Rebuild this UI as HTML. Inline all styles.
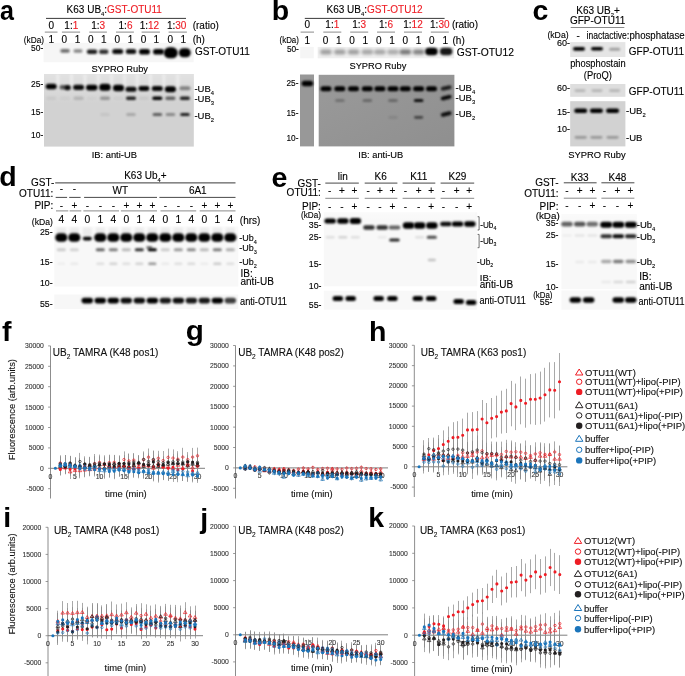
<!DOCTYPE html>
<html><head><meta charset="utf-8"><style>
html,body{margin:0;padding:0;background:#fff;}
svg{display:block;font-family:"Liberation Sans",sans-serif;will-change:transform;filter:blur(0.35px);}
</style></head><body>
<svg width="685" height="676" viewBox="0 0 685 676">
<defs>
<circle id="oc" cx="0" cy="0" r="1.20"/>
<path id="tr" d="M0,-1.77L1.78,1.18H-1.78Z"/>
<linearGradient id="bgrad" x1="0" y1="0" x2="1" y2="1"><stop offset="0" stop-color="#9a9a9a"/><stop offset="1" stop-color="#8f8f8f"/></linearGradient>
<linearGradient id="topfade" x1="0" y1="0" x2="0" y2="1"><stop offset="0" stop-color="#fff" stop-opacity="0.35"/><stop offset="1" stop-color="#fff" stop-opacity="0"/></linearGradient>
<filter id="b1" x="-50%" y="-100%" width="200%" height="300%"><feGaussianBlur stdDeviation="0.9"/></filter>
<filter id="b2" x="-50%" y="-100%" width="200%" height="300%"><feGaussianBlur stdDeviation="1.5"/></filter>
</defs>
<rect width="685" height="676" fill="#fff"/>
<text x="66.6" y="13.1" font-size="10" text-anchor="start" fill="#000" stroke="#000" stroke-width="0.12" >K63 UB<tspan font-size="5.8" baseline-shift="-2.5">4</tspan>:<tspan fill="#ee1c24" stroke="#ee1c24">GST-OTU11</tspan></text>
<line x1="46.0" y1="18.4" x2="186.0" y2="18.4" stroke="#222" stroke-width="0.9"/>
<text x="51.4" y="29.0" font-size="10" text-anchor="middle" fill="#000" stroke="#000" stroke-width="0.12" >0</text>
<text x="71.3" y="29.0" font-size="10" text-anchor="middle" fill="#000" stroke="#000" stroke-width="0.12" >1:<tspan fill="#ee1c24" stroke="#ee1c24">1</tspan></text>
<text x="98.2" y="29.0" font-size="10" text-anchor="middle" fill="#000" stroke="#000" stroke-width="0.12" >1:<tspan fill="#ee1c24" stroke="#ee1c24">3</tspan></text>
<text x="125.5" y="29.0" font-size="10" text-anchor="middle" fill="#000" stroke="#000" stroke-width="0.12" >1:<tspan fill="#ee1c24" stroke="#ee1c24">6</tspan></text>
<text x="149.4" y="29.0" font-size="10" text-anchor="middle" fill="#000" stroke="#000" stroke-width="0.12" >1:<tspan fill="#ee1c24" stroke="#ee1c24">12</tspan></text>
<text x="176.7" y="29.0" font-size="10" text-anchor="middle" fill="#000" stroke="#000" stroke-width="0.12" >1:<tspan fill="#ee1c24" stroke="#ee1c24">30</tspan></text>
<text x="192.7" y="29.0" font-size="10" text-anchor="start" fill="#000" stroke="#000" stroke-width="0.12" >(ratio)</text>
<line x1="44.8" y1="32.1" x2="57.5" y2="32.1" stroke="#8a8a8a" stroke-width="1.0"/>
<line x1="61.9" y1="32.1" x2="80.1" y2="32.1" stroke="#8a8a8a" stroke-width="1.0"/>
<line x1="89.3" y1="32.1" x2="106.9" y2="32.1" stroke="#8a8a8a" stroke-width="1.0"/>
<line x1="116.0" y1="32.1" x2="133.9" y2="32.1" stroke="#8a8a8a" stroke-width="1.0"/>
<line x1="141.6" y1="32.1" x2="159.9" y2="32.1" stroke="#8a8a8a" stroke-width="1.0"/>
<line x1="168.6" y1="32.1" x2="186.9" y2="32.1" stroke="#8a8a8a" stroke-width="1.0"/>
<text x="51.2" y="42.6" font-size="10" text-anchor="middle" fill="#000" stroke="#000" stroke-width="0.12" >1</text>
<text x="64.3" y="42.6" font-size="10" text-anchor="middle" fill="#000" stroke="#000" stroke-width="0.12" >0</text>
<text x="77.5" y="42.6" font-size="10" text-anchor="middle" fill="#000" stroke="#000" stroke-width="0.12" >1</text>
<text x="90.7" y="42.6" font-size="10" text-anchor="middle" fill="#000" stroke="#000" stroke-width="0.12" >0</text>
<text x="103.8" y="42.6" font-size="10" text-anchor="middle" fill="#000" stroke="#000" stroke-width="0.12" >1</text>
<text x="117.3" y="42.6" font-size="10" text-anchor="middle" fill="#000" stroke="#000" stroke-width="0.12" >0</text>
<text x="130.5" y="42.6" font-size="10" text-anchor="middle" fill="#000" stroke="#000" stroke-width="0.12" >1</text>
<text x="143.6" y="42.6" font-size="10" text-anchor="middle" fill="#000" stroke="#000" stroke-width="0.12" >0</text>
<text x="156.4" y="42.6" font-size="10" text-anchor="middle" fill="#000" stroke="#000" stroke-width="0.12" >1</text>
<text x="170.2" y="42.6" font-size="10" text-anchor="middle" fill="#000" stroke="#000" stroke-width="0.12" >0</text>
<text x="183.4" y="42.6" font-size="10" text-anchor="middle" fill="#000" stroke="#000" stroke-width="0.12" >1</text>
<text x="192.7" y="42.6" font-size="10" text-anchor="start" fill="#000" stroke="#000" stroke-width="0.12" >(h)</text>
<text x="44.0" y="43.3" font-size="8.5" text-anchor="end" fill="#000" stroke="#000" stroke-width="0.12"  textLength="20.2" lengthAdjust="spacingAndGlyphs">(kDa)</text>
<rect x="43.6" y="42.9" width="150.0" height="19.3" fill="#f6f6f6"/>
<rect x="60.3" y="49.1" width="9.5" height="3.6" rx="1.8" fill="#000" opacity="0.55" filter="url(#b1)"/>
<rect x="73.5" y="49.3" width="9.0" height="3.4" rx="1.7" fill="#000" opacity="0.45" filter="url(#b1)"/>
<rect x="86.8" y="49.5" width="10.5" height="4.6" rx="2.3" fill="#000" opacity="0.88" filter="url(#b1)"/>
<rect x="99.0" y="49.6" width="9.5" height="4.4" rx="2.2" fill="#000" opacity="0.80" filter="url(#b1)"/>
<rect x="112.2" y="49.1" width="11.0" height="5.0" rx="2.5" fill="#000" opacity="0.95" filter="url(#b1)"/>
<rect x="125.8" y="49.1" width="10.5" height="5.0" rx="2.5" fill="#000" opacity="0.93" filter="url(#b1)"/>
<rect x="139.0" y="48.9" width="11.0" height="5.6" rx="2.8" fill="#000" opacity="1.00" filter="url(#b1)"/>
<rect x="153.0" y="48.9" width="11.0" height="5.6" rx="2.8" fill="#000" opacity="1.00" filter="url(#b1)"/>
<rect x="163.8" y="47.3" width="14.0" height="11.0" rx="5.5" fill="#000" opacity="1.00" filter="url(#b1)"/>
<rect x="178.8" y="48.3" width="12.0" height="9.0" rx="4.5" fill="#000" opacity="1.00" filter="url(#b1)"/>
<text x="43.4" y="50.8" font-size="8.5" text-anchor="end" fill="#000" stroke="#000" stroke-width="0.12" >50-</text>
<text x="195.0" y="55.3" font-size="10" text-anchor="start" fill="#000" stroke="#000" stroke-width="0.12" >GST-OTU11</text>
<text x="119.7" y="72.2" font-size="9.25" text-anchor="middle" fill="#000" stroke="#000" stroke-width="0.12" >SYPRO Ruby</text>
<rect x="44.0" y="74.0" width="149.8" height="72.6" fill="#d2d2d2"/>
<rect x="44" y="74" width="149.8" height="30" fill="url(#topfade)"/>
<rect x="56.0" y="74.5" width="3.6" height="14" fill="#fff" opacity="0.35" filter="url(#b1)"/>
<rect x="69.7" y="74.5" width="3.6" height="14" fill="#fff" opacity="0.35" filter="url(#b1)"/>
<rect x="83.2" y="74.5" width="3.6" height="14" fill="#fff" opacity="0.35" filter="url(#b1)"/>
<rect x="96.5" y="74.5" width="3.6" height="14" fill="#fff" opacity="0.35" filter="url(#b1)"/>
<rect x="109.8" y="74.5" width="3.6" height="14" fill="#fff" opacity="0.35" filter="url(#b1)"/>
<rect x="122.8" y="74.5" width="3.6" height="14" fill="#fff" opacity="0.35" filter="url(#b1)"/>
<rect x="135.5" y="74.5" width="3.6" height="14" fill="#fff" opacity="0.35" filter="url(#b1)"/>
<rect x="148.7" y="74.5" width="3.6" height="14" fill="#fff" opacity="0.35" filter="url(#b1)"/>
<rect x="162.0" y="74.5" width="3.6" height="14" fill="#fff" opacity="0.35" filter="url(#b1)"/>
<rect x="175.9" y="74.5" width="3.6" height="14" fill="#fff" opacity="0.35" filter="url(#b1)"/>
<rect x="45.7" y="83.8" width="11.0" height="5.5" rx="2.8" fill="#000" opacity="1.00" filter="url(#b1)"/>
<rect x="59.5" y="85.0" width="6.5" height="4.6" rx="2.3" fill="#000" opacity="0.60" filter="url(#b1)"/>
<rect x="64.3" y="85.0" width="6.5" height="5.2" rx="2.6" fill="#000" opacity="0.95" filter="url(#b1)"/>
<rect x="73.1" y="84.7" width="11.0" height="5.2" rx="2.6" fill="#000" opacity="0.95" filter="url(#b1)"/>
<rect x="86.0" y="84.8" width="11.5" height="5.6" rx="2.8" fill="#000" opacity="1.00" filter="url(#b1)"/>
<rect x="99.2" y="83.7" width="11.5" height="7.0" rx="3.5" fill="#000" opacity="1.00" filter="url(#b1)"/>
<rect x="113.0" y="84.7" width="11.0" height="6.6" rx="3.3" fill="#000" opacity="1.00" filter="url(#b1)"/>
<rect x="125.5" y="86.7" width="11.0" height="5.0" rx="2.5" fill="#000" opacity="0.95" filter="url(#b1)"/>
<rect x="138.4" y="86.1" width="11.0" height="4.8" rx="2.4" fill="#000" opacity="0.98" filter="url(#b1)"/>
<rect x="151.8" y="86.0" width="11.0" height="5.0" rx="2.5" fill="#000" opacity="0.97" filter="url(#b1)"/>
<rect x="164.9" y="86.2" width="11.0" height="6.0" rx="3.0" fill="#000" opacity="1.00" filter="url(#b1)"/>
<rect x="179.4" y="86.2" width="11.0" height="4.0" rx="2.0" fill="#000" opacity="0.40" filter="url(#b1)"/>
<rect x="46.2" y="96.6" width="10.0" height="3.4" rx="1.7" fill="#000" opacity="0.05" filter="url(#b1)"/>
<rect x="60.0" y="96.6" width="10.0" height="3.4" rx="1.7" fill="#000" opacity="0.03" filter="url(#b1)"/>
<rect x="73.6" y="96.6" width="10.0" height="3.4" rx="1.7" fill="#000" opacity="0.15" filter="url(#b1)"/>
<rect x="86.8" y="96.6" width="10.0" height="3.4" rx="1.7" fill="#000" opacity="0.02" filter="url(#b1)"/>
<rect x="100.0" y="96.6" width="10.0" height="3.4" rx="1.7" fill="#000" opacity="0.30" filter="url(#b1)"/>
<rect x="113.5" y="96.6" width="10.0" height="3.4" rx="1.7" fill="#000" opacity="0.03" filter="url(#b1)"/>
<rect x="126.0" y="96.6" width="10.0" height="3.4" rx="1.7" fill="#000" opacity="0.85" filter="url(#b1)"/>
<rect x="138.9" y="96.6" width="10.0" height="3.4" rx="1.7" fill="#000" opacity="0.05" filter="url(#b1)"/>
<rect x="152.3" y="96.6" width="10.0" height="3.4" rx="1.7" fill="#000" opacity="1.00" filter="url(#b1)"/>
<rect x="165.4" y="96.6" width="10.0" height="3.4" rx="1.7" fill="#000" opacity="0.55" filter="url(#b1)"/>
<rect x="179.9" y="96.6" width="10.0" height="3.4" rx="1.7" fill="#000" opacity="0.85" filter="url(#b1)"/>
<rect x="100.2" y="113.0" width="9.5" height="3.0" rx="1.5" fill="#000" opacity="0.06" filter="url(#b1)"/>
<rect x="126.2" y="113.0" width="9.5" height="3.0" rx="1.5" fill="#000" opacity="0.20" filter="url(#b1)"/>
<rect x="152.6" y="113.0" width="9.5" height="3.0" rx="1.5" fill="#000" opacity="0.55" filter="url(#b1)"/>
<rect x="165.7" y="113.0" width="9.5" height="3.0" rx="1.5" fill="#000" opacity="0.35" filter="url(#b1)"/>
<rect x="180.2" y="113.0" width="9.5" height="3.0" rx="1.5" fill="#000" opacity="0.85" filter="url(#b1)"/>
<text x="43.4" y="87.0" font-size="8.5" text-anchor="end" fill="#000" stroke="#000" stroke-width="0.12" >25-</text>
<text x="43.4" y="115.0" font-size="8.5" text-anchor="end" fill="#000" stroke="#000" stroke-width="0.12" >15-</text>
<text x="43.4" y="137.6" font-size="8.5" text-anchor="end" fill="#000" stroke="#000" stroke-width="0.12" >10-</text>
<text x="194.4" y="91.6" font-size="9.5" text-anchor="start" fill="#000" stroke="#000" stroke-width="0.12" >-UB<tspan font-size="5.8" baseline-shift="-2.5">4</tspan></text>
<text x="194.4" y="102.3" font-size="9.5" text-anchor="start" fill="#000" stroke="#000" stroke-width="0.12" >-UB<tspan font-size="5.8" baseline-shift="-2.5">3</tspan></text>
<text x="194.4" y="119.2" font-size="9.5" text-anchor="start" fill="#000" stroke="#000" stroke-width="0.12" >-UB<tspan font-size="5.8" baseline-shift="-2.5">2</tspan></text>
<text x="114.3" y="157.5" font-size="9.35" text-anchor="middle" fill="#000" stroke="#000" stroke-width="0.12" >IB: anti-UB</text>
<text x="326.5" y="13.1" font-size="10" text-anchor="start" fill="#000" stroke="#000" stroke-width="0.12" >K63 UB<tspan font-size="5.8" baseline-shift="-2.5">4</tspan>:<tspan fill="#ee1c24" stroke="#ee1c24">GST-OTU12</tspan></text>
<line x1="304.8" y1="18.4" x2="444.6" y2="18.4" stroke="#222" stroke-width="0.9"/>
<text x="307.3" y="28.2" font-size="10" text-anchor="middle" fill="#000" stroke="#000" stroke-width="0.12" >0</text>
<text x="332.3" y="28.2" font-size="10" text-anchor="middle" fill="#000" stroke="#000" stroke-width="0.12" >1:<tspan fill="#ee1c24" stroke="#ee1c24">1</tspan></text>
<text x="359.2" y="28.2" font-size="10" text-anchor="middle" fill="#000" stroke="#000" stroke-width="0.12" >1:<tspan fill="#ee1c24" stroke="#ee1c24">3</tspan></text>
<text x="386.0" y="28.2" font-size="10" text-anchor="middle" fill="#000" stroke="#000" stroke-width="0.12" >1:<tspan fill="#ee1c24" stroke="#ee1c24">6</tspan></text>
<text x="413.0" y="28.2" font-size="10" text-anchor="middle" fill="#000" stroke="#000" stroke-width="0.12" >1:<tspan fill="#ee1c24" stroke="#ee1c24">12</tspan></text>
<text x="439.8" y="28.2" font-size="10" text-anchor="middle" fill="#000" stroke="#000" stroke-width="0.12" >1:<tspan fill="#ee1c24" stroke="#ee1c24">30</tspan></text>
<text x="451.9" y="28.2" font-size="10" text-anchor="start" fill="#000" stroke="#000" stroke-width="0.12" >(ratio)</text>
<line x1="300.6" y1="32.1" x2="314.0" y2="32.1" stroke="#8a8a8a" stroke-width="1.0"/>
<line x1="323.3" y1="32.1" x2="341.3" y2="32.1" stroke="#8a8a8a" stroke-width="1.0"/>
<line x1="350.2" y1="32.1" x2="368.2" y2="32.1" stroke="#8a8a8a" stroke-width="1.0"/>
<line x1="377.0" y1="32.1" x2="395.0" y2="32.1" stroke="#8a8a8a" stroke-width="1.0"/>
<line x1="404.0" y1="32.1" x2="422.0" y2="32.1" stroke="#8a8a8a" stroke-width="1.0"/>
<line x1="430.8" y1="32.1" x2="448.8" y2="32.1" stroke="#8a8a8a" stroke-width="1.0"/>
<text x="307.2" y="43.8" font-size="10" text-anchor="middle" fill="#000" stroke="#000" stroke-width="0.12" >1</text>
<text x="325.6" y="43.8" font-size="10" text-anchor="middle" fill="#000" stroke="#000" stroke-width="0.12" >0</text>
<text x="338.8" y="43.8" font-size="10" text-anchor="middle" fill="#000" stroke="#000" stroke-width="0.12" >1</text>
<text x="352.1" y="43.8" font-size="10" text-anchor="middle" fill="#000" stroke="#000" stroke-width="0.12" >0</text>
<text x="365.4" y="43.8" font-size="10" text-anchor="middle" fill="#000" stroke="#000" stroke-width="0.12" >1</text>
<text x="378.7" y="43.8" font-size="10" text-anchor="middle" fill="#000" stroke="#000" stroke-width="0.12" >0</text>
<text x="392.0" y="43.8" font-size="10" text-anchor="middle" fill="#000" stroke="#000" stroke-width="0.12" >1</text>
<text x="405.3" y="43.8" font-size="10" text-anchor="middle" fill="#000" stroke="#000" stroke-width="0.12" >0</text>
<text x="418.6" y="43.8" font-size="10" text-anchor="middle" fill="#000" stroke="#000" stroke-width="0.12" >1</text>
<text x="431.9" y="43.8" font-size="10" text-anchor="middle" fill="#000" stroke="#000" stroke-width="0.12" >0</text>
<text x="445.2" y="43.8" font-size="10" text-anchor="middle" fill="#000" stroke="#000" stroke-width="0.12" >1</text>
<text x="452.5" y="43.5" font-size="10" text-anchor="start" fill="#000" stroke="#000" stroke-width="0.12" >(h)</text>
<text x="298.9" y="43.0" font-size="8.3" text-anchor="end" fill="#000" stroke="#000" stroke-width="0.12"  textLength="19.3" lengthAdjust="spacingAndGlyphs">(kDa)</text>
<rect x="300.2" y="46.9" width="13.6" height="11.4" fill="#f5f5f5"/>
<rect x="317.7" y="46.9" width="136.5" height="11.4" fill="#efefef"/>
<rect x="320.2" y="49.5" width="11.5" height="5.0" rx="2.5" fill="#000" opacity="0.33" filter="url(#b2)"/>
<rect x="334.1" y="49.5" width="11.5" height="5.0" rx="2.5" fill="#000" opacity="0.33" filter="url(#b2)"/>
<rect x="347.8" y="49.5" width="11.5" height="5.0" rx="2.5" fill="#000" opacity="0.33" filter="url(#b2)"/>
<rect x="361.6" y="49.5" width="11.5" height="5.0" rx="2.5" fill="#000" opacity="0.30" filter="url(#b2)"/>
<rect x="374.1" y="49.5" width="11.5" height="5.0" rx="2.5" fill="#000" opacity="0.30" filter="url(#b2)"/>
<rect x="387.2" y="49.5" width="11.5" height="5.0" rx="2.5" fill="#000" opacity="0.28" filter="url(#b2)"/>
<rect x="399.6" y="49.5" width="11.5" height="5.0" rx="2.5" fill="#000" opacity="0.50" filter="url(#b2)"/>
<rect x="412.9" y="49.5" width="11.5" height="5.0" rx="2.5" fill="#000" opacity="0.45" filter="url(#b2)"/>
<rect x="425.2" y="47.8" width="12.5" height="7.5" rx="3.8" fill="#000" opacity="1.00" filter="url(#b1)"/>
<rect x="439.9" y="47.8" width="12.5" height="7.5" rx="3.8" fill="#000" opacity="0.90" filter="url(#b1)"/>
<text x="298.9" y="51.7" font-size="8.3" text-anchor="end" fill="#000" stroke="#000" stroke-width="0.12" >50-</text>
<text x="456.7" y="55.5" font-size="10.3" text-anchor="start" fill="#000" stroke="#000" stroke-width="0.12" >GST-OTU12</text>
<text x="377.9" y="68.9" font-size="9.3" text-anchor="middle" fill="#000" stroke="#000" stroke-width="0.12" >SYPRO Ruby</text>
<rect x="300.0" y="74.5" width="14.0" height="71.9" fill="#989898"/>
<rect x="318.7" y="74.8" width="135.7" height="71.6" fill="url(#bgrad)"/>
<rect x="301.6" y="80.7" width="11.5" height="5.6" rx="2.8" fill="#000" opacity="1.00" filter="url(#b1)"/>
<rect x="320.5" y="86.3" width="11.0" height="5.0" rx="2.5" fill="#000" opacity="1.00" filter="url(#b1)"/>
<rect x="334.3" y="86.3" width="11.0" height="5.0" rx="2.5" fill="#000" opacity="1.00" filter="url(#b1)"/>
<rect x="348.0" y="86.3" width="11.0" height="5.0" rx="2.5" fill="#000" opacity="1.00" filter="url(#b1)"/>
<rect x="361.8" y="86.3" width="11.0" height="5.0" rx="2.5" fill="#000" opacity="1.00" filter="url(#b1)"/>
<rect x="374.4" y="86.3" width="11.0" height="5.0" rx="2.5" fill="#000" opacity="1.00" filter="url(#b1)"/>
<rect x="387.5" y="86.3" width="11.0" height="5.0" rx="2.5" fill="#000" opacity="1.00" filter="url(#b1)"/>
<rect x="399.8" y="86.3" width="11.0" height="5.0" rx="2.5" fill="#000" opacity="1.00" filter="url(#b1)"/>
<rect x="413.1" y="86.3" width="11.0" height="5.0" rx="2.5" fill="#000" opacity="1.00" filter="url(#b1)"/>
<rect x="426.0" y="86.3" width="11.0" height="5.0" rx="2.5" fill="#000" opacity="1.00" filter="url(#b1)"/>
<rect x="440.7" y="85.9" width="11.0" height="4.2" rx="2.1" fill="#000" opacity="0.80" filter="url(#b1)" transform="rotate(-12 446.2 88.0)"/>
<rect x="335.1" y="99.1" width="9.5" height="3.0" rx="1.5" fill="#000" opacity="0.25" filter="url(#b1)"/>
<rect x="362.6" y="99.1" width="9.5" height="3.0" rx="1.5" fill="#000" opacity="0.30" filter="url(#b1)"/>
<rect x="388.2" y="99.1" width="9.5" height="3.0" rx="1.5" fill="#000" opacity="0.30" filter="url(#b1)"/>
<rect x="413.9" y="99.1" width="9.5" height="3.0" rx="1.5" fill="#000" opacity="0.90" filter="url(#b1)"/>
<rect x="440.7" y="95.7" width="11.0" height="3.8" rx="1.9" fill="#000" opacity="1.00" filter="url(#b1)" transform="rotate(-14 446.2 97.6)"/>
<rect x="388.5" y="115.9" width="9.0" height="2.8" rx="1.4" fill="#000" opacity="0.10" filter="url(#b1)"/>
<rect x="414.1" y="115.9" width="9.0" height="2.8" rx="1.4" fill="#000" opacity="0.55" filter="url(#b1)"/>
<rect x="440.7" y="112.1" width="11.0" height="3.8" rx="1.9" fill="#000" opacity="0.90" filter="url(#b1)" transform="rotate(-14 446.2 114.0)"/>
<text x="298.5" y="85.5" font-size="8.3" text-anchor="end" fill="#000" stroke="#000" stroke-width="0.12" >25-</text>
<text x="298.5" y="115.5" font-size="8.3" text-anchor="end" fill="#000" stroke="#000" stroke-width="0.12" >15-</text>
<text x="298.5" y="140.5" font-size="8.3" text-anchor="end" fill="#000" stroke="#000" stroke-width="0.12" >10-</text>
<text x="455.5" y="91.0" font-size="9.5" text-anchor="start" fill="#000" stroke="#000" stroke-width="0.12" >-UB<tspan font-size="5.8" baseline-shift="-2.5">4</tspan></text>
<text x="455.5" y="101.2" font-size="9.5" text-anchor="start" fill="#000" stroke="#000" stroke-width="0.12" >-UB<tspan font-size="5.8" baseline-shift="-2.5">3</tspan></text>
<text x="455.5" y="116.5" font-size="9.5" text-anchor="start" fill="#000" stroke="#000" stroke-width="0.12" >-UB<tspan font-size="5.8" baseline-shift="-2.5">2</tspan></text>
<text x="380.8" y="157.5" font-size="9.3" text-anchor="middle" fill="#000" stroke="#000" stroke-width="0.12" >IB: anti-UB</text>
<text x="598.0" y="13.8" font-size="10" text-anchor="middle" fill="#000" stroke="#000" stroke-width="0.12" >K63 UB<tspan font-size="5.8" baseline-shift="-2.5">2</tspan>+</text>
<text x="597.6" y="24.3" font-size="10" text-anchor="middle" fill="#000" stroke="#000" stroke-width="0.12" >GFP-OTU11</text>
<line x1="570.7" y1="27.5" x2="624.3" y2="27.5" stroke="#8a8a8a" stroke-width="1.0"/>
<text x="568.6" y="38.3" font-size="8.5" text-anchor="end" fill="#000" stroke="#000" stroke-width="0.12"  textLength="21.2" lengthAdjust="spacingAndGlyphs">(kDa)</text>
<text x="578.1" y="39.2" font-size="10" text-anchor="middle" fill="#000" stroke="#000" stroke-width="0.12" >-</text>
<text x="586.6" y="39.2" font-size="10" text-anchor="start" fill="#000" stroke="#000" stroke-width="0.12"  textLength="40.2" lengthAdjust="spacingAndGlyphs">inactactive</text>
<text x="626.8" y="39.2" font-size="10" text-anchor="start" fill="#000" stroke="#000" stroke-width="0.12"  textLength="57.8" lengthAdjust="spacingAndGlyphs">:phosphatase</text>
<rect x="570.2" y="42.1" width="55.2" height="14.9" fill="#e5e5e5"/>
<rect x="573.0" y="46.9" width="12.0" height="3.8" rx="1.9" fill="#000" opacity="1.00" filter="url(#b1)"/>
<rect x="591.0" y="47.0" width="12.0" height="3.6" rx="1.8" fill="#000" opacity="1.00" filter="url(#b1)"/>
<rect x="609.1" y="47.7" width="11.0" height="3.0" rx="1.5" fill="#000" opacity="0.30" filter="url(#b1)"/>
<text x="569.9" y="46.0" font-size="9" text-anchor="end" fill="#000" stroke="#000" stroke-width="0.12" >60-</text>
<text x="628.8" y="54.5" font-size="10" text-anchor="start" fill="#000" stroke="#000" stroke-width="0.12" >GFP-OTU11</text>
<text x="597.9" y="66.8" font-size="10" text-anchor="middle" fill="#000" stroke="#000" stroke-width="0.12"  textLength="55.5" lengthAdjust="spacingAndGlyphs">phosphostain</text>
<text x="597.8" y="78.6" font-size="10" text-anchor="middle" fill="#000" stroke="#000" stroke-width="0.12"  textLength="28" lengthAdjust="spacingAndGlyphs">(ProQ)</text>
<rect x="570.2" y="84.0" width="55.2" height="12.8" fill="#dedede"/>
<rect x="574.5" y="89.2" width="11.0" height="2.8" rx="1.4" fill="#000" opacity="0.18" filter="url(#b1)"/>
<rect x="591.5" y="89.2" width="11.0" height="2.8" rx="1.4" fill="#000" opacity="0.18" filter="url(#b1)"/>
<rect x="609.1" y="89.2" width="11.0" height="2.8" rx="1.4" fill="#000" opacity="0.18" filter="url(#b1)"/>
<text x="569.9" y="91.0" font-size="9" text-anchor="end" fill="#000" stroke="#000" stroke-width="0.12" >60-</text>
<text x="628.8" y="94.8" font-size="10" text-anchor="start" fill="#000" stroke="#000" stroke-width="0.12" >GFP-OTU11</text>
<rect x="570.2" y="101.2" width="55.2" height="45.2" fill="#d2d2d2"/>
<rect x="574.2" y="108.6" width="13.0" height="4.4" rx="2.2" fill="#000" opacity="1.00" filter="url(#b1)"/>
<rect x="589.9" y="108.6" width="13.0" height="4.4" rx="2.2" fill="#000" opacity="1.00" filter="url(#b1)"/>
<rect x="606.1" y="108.6" width="13.0" height="4.4" rx="2.2" fill="#000" opacity="1.00" filter="url(#b1)"/>
<rect x="574.7" y="135.9" width="12.0" height="2.8" rx="1.4" fill="#000" opacity="0.28" filter="url(#b1)"/>
<rect x="590.4" y="135.9" width="12.0" height="2.8" rx="1.4" fill="#000" opacity="0.28" filter="url(#b1)"/>
<rect x="606.6" y="135.9" width="12.0" height="2.8" rx="1.4" fill="#000" opacity="0.28" filter="url(#b1)"/>
<text x="569.9" y="114.5" font-size="9" text-anchor="end" fill="#000" stroke="#000" stroke-width="0.12" >15-</text>
<text x="569.9" y="132.0" font-size="9" text-anchor="end" fill="#000" stroke="#000" stroke-width="0.12" >10-</text>
<text x="626.0" y="114.0" font-size="9.5" text-anchor="start" fill="#000" stroke="#000" stroke-width="0.12" >-UB<tspan font-size="5.8" baseline-shift="-2.5">2</tspan></text>
<text x="626.0" y="141.0" font-size="9.5" text-anchor="start" fill="#000" stroke="#000" stroke-width="0.12" >-UB</text>
<text x="597.0" y="158.0" font-size="9.4" text-anchor="middle" fill="#000" stroke="#000" stroke-width="0.12" >SYPRO Ruby</text>
<text x="145.4" y="179.2" font-size="10" text-anchor="middle" fill="#000" stroke="#000" stroke-width="0.12" >K63 Ub<tspan font-size="5.8" baseline-shift="-2.5">4</tspan>+</text>
<line x1="55.2" y1="182.9" x2="235.5" y2="182.9" stroke="#222" stroke-width="0.9"/>
<text x="54.3" y="186.4" font-size="10" text-anchor="end" fill="#000" stroke="#000" stroke-width="0.12" >GST-</text>
<text x="53.3" y="196.5" font-size="10" text-anchor="end" fill="#000" stroke="#000" stroke-width="0.12" >OTU11:</text>
<text x="61.3" y="192.3" font-size="10" text-anchor="middle" fill="#000" stroke="#000" stroke-width="0.12" >-</text>
<text x="74.3" y="192.3" font-size="10" text-anchor="middle" fill="#000" stroke="#000" stroke-width="0.12" >-</text>
<text x="120.3" y="194.3" font-size="10" text-anchor="middle" fill="#000" stroke="#000" stroke-width="0.12" >WT</text>
<text x="197.8" y="194.3" font-size="10" text-anchor="middle" fill="#000" stroke="#000" stroke-width="0.12" >6A1</text>
<line x1="55.7" y1="197.4" x2="67.1" y2="197.4" stroke="#333" stroke-width="0.9"/>
<line x1="69.2" y1="197.4" x2="80.6" y2="197.4" stroke="#333" stroke-width="0.9"/>
<line x1="84.1" y1="197.4" x2="157.0" y2="197.4" stroke="#333" stroke-width="0.9"/>
<line x1="159.4" y1="197.4" x2="235.5" y2="197.4" stroke="#333" stroke-width="0.9"/>
<text x="53.3" y="208.8" font-size="10" text-anchor="end" fill="#000" stroke="#000" stroke-width="0.12" >PIP:</text>
<text x="61.3" y="208.8" font-size="10" text-anchor="middle" fill="#000" stroke="#000" stroke-width="0.12" >-</text>
<text x="74.3" y="208.8" font-size="10" text-anchor="middle" fill="#000" stroke="#000" stroke-width="0.12" >+</text>
<text x="87.3" y="208.8" font-size="10" text-anchor="middle" fill="#000" stroke="#000" stroke-width="0.12" >-</text>
<text x="100.3" y="208.8" font-size="10" text-anchor="middle" fill="#000" stroke="#000" stroke-width="0.12" >-</text>
<text x="113.3" y="208.8" font-size="10" text-anchor="middle" fill="#000" stroke="#000" stroke-width="0.12" >-</text>
<text x="126.3" y="208.8" font-size="10" text-anchor="middle" fill="#000" stroke="#000" stroke-width="0.12" >+</text>
<text x="139.3" y="208.8" font-size="10" text-anchor="middle" fill="#000" stroke="#000" stroke-width="0.12" >+</text>
<text x="152.3" y="208.8" font-size="10" text-anchor="middle" fill="#000" stroke="#000" stroke-width="0.12" >+</text>
<text x="165.3" y="208.8" font-size="10" text-anchor="middle" fill="#000" stroke="#000" stroke-width="0.12" >-</text>
<text x="178.3" y="208.8" font-size="10" text-anchor="middle" fill="#000" stroke="#000" stroke-width="0.12" >-</text>
<text x="191.3" y="208.8" font-size="10" text-anchor="middle" fill="#000" stroke="#000" stroke-width="0.12" >-</text>
<text x="204.3" y="208.8" font-size="10" text-anchor="middle" fill="#000" stroke="#000" stroke-width="0.12" >+</text>
<text x="217.3" y="208.8" font-size="10" text-anchor="middle" fill="#000" stroke="#000" stroke-width="0.12" >+</text>
<text x="230.3" y="208.8" font-size="10" text-anchor="middle" fill="#000" stroke="#000" stroke-width="0.12" >+</text>
<line x1="56.0" y1="210.9" x2="68.3" y2="210.9" stroke="#8a8a8a" stroke-width="1.0"/>
<line x1="69.6" y1="210.9" x2="81.3" y2="210.9" stroke="#8a8a8a" stroke-width="1.0"/>
<line x1="83.4" y1="210.9" x2="119.0" y2="210.9" stroke="#8a8a8a" stroke-width="1.0"/>
<line x1="120.9" y1="210.9" x2="157.0" y2="210.9" stroke="#8a8a8a" stroke-width="1.0"/>
<line x1="160.5" y1="210.9" x2="196.2" y2="210.9" stroke="#8a8a8a" stroke-width="1.0"/>
<line x1="199.7" y1="210.9" x2="235.5" y2="210.9" stroke="#8a8a8a" stroke-width="1.0"/>
<text x="52.8" y="224.6" font-size="8.5" text-anchor="end" fill="#000" stroke="#000" stroke-width="0.12"  textLength="21" lengthAdjust="spacingAndGlyphs">(kDa)</text>
<text x="61.3" y="223.4" font-size="10.3" text-anchor="middle" fill="#000" stroke="#000" stroke-width="0.12" >4</text>
<text x="74.3" y="223.4" font-size="10.3" text-anchor="middle" fill="#000" stroke="#000" stroke-width="0.12" >4</text>
<text x="87.3" y="223.4" font-size="10.3" text-anchor="middle" fill="#000" stroke="#000" stroke-width="0.12" >0</text>
<text x="100.3" y="223.4" font-size="10.3" text-anchor="middle" fill="#000" stroke="#000" stroke-width="0.12" >1</text>
<text x="113.3" y="223.4" font-size="10.3" text-anchor="middle" fill="#000" stroke="#000" stroke-width="0.12" >4</text>
<text x="126.3" y="223.4" font-size="10.3" text-anchor="middle" fill="#000" stroke="#000" stroke-width="0.12" >0</text>
<text x="139.3" y="223.4" font-size="10.3" text-anchor="middle" fill="#000" stroke="#000" stroke-width="0.12" >1</text>
<text x="152.3" y="223.4" font-size="10.3" text-anchor="middle" fill="#000" stroke="#000" stroke-width="0.12" >4</text>
<text x="165.3" y="223.4" font-size="10.3" text-anchor="middle" fill="#000" stroke="#000" stroke-width="0.12" >0</text>
<text x="178.3" y="223.4" font-size="10.3" text-anchor="middle" fill="#000" stroke="#000" stroke-width="0.12" >1</text>
<text x="191.3" y="223.4" font-size="10.3" text-anchor="middle" fill="#000" stroke="#000" stroke-width="0.12" >4</text>
<text x="204.3" y="223.4" font-size="10.3" text-anchor="middle" fill="#000" stroke="#000" stroke-width="0.12" >0</text>
<text x="217.3" y="223.4" font-size="10.3" text-anchor="middle" fill="#000" stroke="#000" stroke-width="0.12" >1</text>
<text x="230.3" y="223.4" font-size="10.3" text-anchor="middle" fill="#000" stroke="#000" stroke-width="0.12" >4</text>
<text x="239.8" y="223.6" font-size="10" text-anchor="start" fill="#000" stroke="#000" stroke-width="0.12" >(hrs)</text>
<rect x="54.3" y="226.6" width="184.0" height="60.0" fill="#f8f8f8"/>
<rect x="54.3" y="226.6" width="184" height="8" fill="url(#topfade)"/>
<rect x="56.8" y="227.5" width="9" height="8" fill="#000" opacity="0.05" filter="url(#b1)"/>
<rect x="69.8" y="227.5" width="9" height="8" fill="#000" opacity="0.05" filter="url(#b1)"/>
<rect x="82.8" y="227.5" width="9" height="8" fill="#000" opacity="0.05" filter="url(#b1)"/>
<rect x="95.8" y="227.5" width="9" height="8" fill="#000" opacity="0.05" filter="url(#b1)"/>
<rect x="108.8" y="227.5" width="9" height="8" fill="#000" opacity="0.05" filter="url(#b1)"/>
<rect x="121.8" y="227.5" width="9" height="8" fill="#000" opacity="0.05" filter="url(#b1)"/>
<rect x="134.8" y="227.5" width="9" height="8" fill="#000" opacity="0.05" filter="url(#b1)"/>
<rect x="147.8" y="227.5" width="9" height="8" fill="#000" opacity="0.05" filter="url(#b1)"/>
<rect x="160.8" y="227.5" width="9" height="8" fill="#000" opacity="0.05" filter="url(#b1)"/>
<rect x="173.8" y="227.5" width="9" height="8" fill="#000" opacity="0.05" filter="url(#b1)"/>
<rect x="186.8" y="227.5" width="9" height="8" fill="#000" opacity="0.05" filter="url(#b1)"/>
<rect x="199.8" y="227.5" width="9" height="8" fill="#000" opacity="0.05" filter="url(#b1)"/>
<rect x="212.8" y="227.5" width="9" height="8" fill="#000" opacity="0.05" filter="url(#b1)"/>
<rect x="225.8" y="227.5" width="9" height="8" fill="#000" opacity="0.05" filter="url(#b1)"/>
<rect x="55.2" y="233.2" width="12.2" height="8.6" rx="4.3" fill="#000" opacity="1.00" filter="url(#b1)"/>
<rect x="68.2" y="233.2" width="12.2" height="8.6" rx="4.3" fill="#000" opacity="1.00" filter="url(#b1)"/>
<rect x="82.8" y="236.8" width="9.0" height="3.6" rx="1.8" fill="#000" opacity="1.00" filter="url(#b1)"/>
<rect x="94.2" y="233.2" width="12.2" height="8.6" rx="4.3" fill="#000" opacity="1.00" filter="url(#b1)"/>
<rect x="107.2" y="233.2" width="12.2" height="8.6" rx="4.3" fill="#000" opacity="1.00" filter="url(#b1)"/>
<rect x="120.2" y="233.2" width="12.2" height="8.6" rx="4.3" fill="#000" opacity="1.00" filter="url(#b1)"/>
<rect x="133.2" y="233.2" width="12.2" height="8.6" rx="4.3" fill="#000" opacity="1.00" filter="url(#b1)"/>
<rect x="146.2" y="233.2" width="12.2" height="8.6" rx="4.3" fill="#000" opacity="1.00" filter="url(#b1)"/>
<rect x="159.2" y="233.2" width="12.2" height="8.6" rx="4.3" fill="#000" opacity="1.00" filter="url(#b1)"/>
<rect x="172.2" y="233.2" width="12.2" height="8.6" rx="4.3" fill="#000" opacity="1.00" filter="url(#b1)"/>
<rect x="185.2" y="233.2" width="12.2" height="8.6" rx="4.3" fill="#000" opacity="1.00" filter="url(#b1)"/>
<rect x="198.2" y="233.2" width="12.2" height="8.6" rx="4.3" fill="#000" opacity="1.00" filter="url(#b1)"/>
<rect x="211.2" y="233.2" width="12.2" height="8.6" rx="4.3" fill="#000" opacity="1.00" filter="url(#b1)"/>
<rect x="224.2" y="233.2" width="12.2" height="8.6" rx="4.3" fill="#000" opacity="1.00" filter="url(#b1)"/>
<rect x="56.8" y="248.3" width="9.0" height="3.0" rx="1.5" fill="#000" opacity="0.18" filter="url(#b1)"/>
<rect x="69.8" y="248.3" width="9.0" height="3.0" rx="1.5" fill="#000" opacity="0.15" filter="url(#b1)"/>
<rect x="95.8" y="248.3" width="9.0" height="3.0" rx="1.5" fill="#000" opacity="0.60" filter="url(#b1)"/>
<rect x="108.8" y="248.3" width="9.0" height="3.0" rx="1.5" fill="#000" opacity="0.50" filter="url(#b1)"/>
<rect x="121.8" y="248.3" width="9.0" height="3.0" rx="1.5" fill="#000" opacity="0.25" filter="url(#b1)"/>
<rect x="134.8" y="248.3" width="9.0" height="3.0" rx="1.5" fill="#000" opacity="0.80" filter="url(#b1)"/>
<rect x="147.8" y="248.3" width="9.0" height="3.0" rx="1.5" fill="#000" opacity="1.00" filter="url(#b1)"/>
<rect x="160.8" y="248.3" width="9.0" height="3.0" rx="1.5" fill="#000" opacity="0.18" filter="url(#b1)"/>
<rect x="173.8" y="248.3" width="9.0" height="3.0" rx="1.5" fill="#000" opacity="0.38" filter="url(#b1)"/>
<rect x="186.8" y="248.3" width="9.0" height="3.0" rx="1.5" fill="#000" opacity="0.45" filter="url(#b1)"/>
<rect x="199.8" y="248.3" width="9.0" height="3.0" rx="1.5" fill="#000" opacity="0.25" filter="url(#b1)"/>
<rect x="212.8" y="248.3" width="9.0" height="3.0" rx="1.5" fill="#000" opacity="0.50" filter="url(#b1)"/>
<rect x="225.8" y="248.3" width="9.0" height="3.0" rx="1.5" fill="#000" opacity="0.30" filter="url(#b1)"/>
<rect x="146.3" y="246.2" width="6.0" height="2.5" rx="1.2" fill="#000" opacity="0.60" filter="url(#b1)"/>
<rect x="57.3" y="262.6" width="8.0" height="2.5" rx="1.2" fill="#000" opacity="0.04" filter="url(#b1)"/>
<rect x="70.3" y="262.6" width="8.0" height="2.5" rx="1.2" fill="#000" opacity="0.06" filter="url(#b1)"/>
<rect x="96.3" y="262.6" width="8.0" height="2.5" rx="1.2" fill="#000" opacity="0.10" filter="url(#b1)"/>
<rect x="109.3" y="262.6" width="8.0" height="2.5" rx="1.2" fill="#000" opacity="0.15" filter="url(#b1)"/>
<rect x="122.3" y="262.6" width="8.0" height="2.5" rx="1.2" fill="#000" opacity="0.10" filter="url(#b1)"/>
<rect x="135.3" y="262.6" width="8.0" height="2.5" rx="1.2" fill="#000" opacity="0.15" filter="url(#b1)"/>
<rect x="148.3" y="262.6" width="8.0" height="2.5" rx="1.2" fill="#000" opacity="0.40" filter="url(#b1)"/>
<rect x="161.3" y="262.6" width="8.0" height="2.5" rx="1.2" fill="#000" opacity="0.06" filter="url(#b1)"/>
<rect x="174.3" y="262.6" width="8.0" height="2.5" rx="1.2" fill="#000" opacity="0.10" filter="url(#b1)"/>
<rect x="187.3" y="262.6" width="8.0" height="2.5" rx="1.2" fill="#000" opacity="0.12" filter="url(#b1)"/>
<rect x="200.3" y="262.6" width="8.0" height="2.5" rx="1.2" fill="#000" opacity="0.05" filter="url(#b1)"/>
<rect x="213.3" y="262.6" width="8.0" height="2.5" rx="1.2" fill="#000" opacity="0.18" filter="url(#b1)"/>
<rect x="226.3" y="262.6" width="8.0" height="2.5" rx="1.2" fill="#000" opacity="0.10" filter="url(#b1)"/>
<text x="52.6" y="235.1" font-size="8.8" text-anchor="end" fill="#000" stroke="#000" stroke-width="0.12" >25-</text>
<text x="52.6" y="264.6" font-size="8.8" text-anchor="end" fill="#000" stroke="#000" stroke-width="0.12" >15-</text>
<text x="52.6" y="285.6" font-size="8.8" text-anchor="end" fill="#000" stroke="#000" stroke-width="0.12" >10-</text>
<text x="239.3" y="240.5" font-size="9" text-anchor="start" fill="#000" stroke="#000" stroke-width="0.12" >-Ub<tspan font-size="5.5" baseline-shift="-2.5">4</tspan></text>
<text x="239.3" y="250.5" font-size="9" text-anchor="start" fill="#000" stroke="#000" stroke-width="0.12" >-Ub<tspan font-size="5.5" baseline-shift="-2.5">3</tspan></text>
<text x="239.3" y="265.0" font-size="9" text-anchor="start" fill="#000" stroke="#000" stroke-width="0.12" >-Ub<tspan font-size="5.5" baseline-shift="-2.5">2</tspan></text>
<text x="240.5" y="276.8" font-size="10" text-anchor="start" fill="#000" stroke="#000" stroke-width="0.12" >IB:</text>
<text x="240.5" y="284.8" font-size="10" text-anchor="start" fill="#000" stroke="#000" stroke-width="0.12" >anti-UB</text>
<rect x="54.3" y="294.5" width="184.0" height="14.5" fill="#f7f7f7"/>
<rect x="81.5" y="297.8" width="11.5" height="5.6" rx="2.8" fill="#000" opacity="1.00" filter="url(#b1)"/>
<rect x="94.5" y="297.8" width="11.5" height="5.6" rx="2.8" fill="#000" opacity="1.00" filter="url(#b1)"/>
<rect x="107.5" y="297.8" width="11.5" height="5.6" rx="2.8" fill="#000" opacity="1.00" filter="url(#b1)"/>
<rect x="120.5" y="297.8" width="11.5" height="5.6" rx="2.8" fill="#000" opacity="0.95" filter="url(#b1)"/>
<rect x="133.6" y="297.8" width="11.5" height="5.6" rx="2.8" fill="#000" opacity="0.95" filter="url(#b1)"/>
<rect x="146.6" y="297.8" width="11.5" height="5.6" rx="2.8" fill="#000" opacity="1.00" filter="url(#b1)"/>
<rect x="159.6" y="297.8" width="11.5" height="5.6" rx="2.8" fill="#000" opacity="0.90" filter="url(#b1)"/>
<rect x="172.6" y="297.8" width="11.5" height="5.6" rx="2.8" fill="#000" opacity="0.95" filter="url(#b1)"/>
<rect x="185.6" y="297.8" width="11.5" height="5.6" rx="2.8" fill="#000" opacity="0.90" filter="url(#b1)"/>
<rect x="198.6" y="297.8" width="11.5" height="5.6" rx="2.8" fill="#000" opacity="0.90" filter="url(#b1)"/>
<rect x="211.6" y="297.8" width="11.5" height="5.6" rx="2.8" fill="#000" opacity="1.00" filter="url(#b1)"/>
<rect x="224.6" y="297.8" width="11.5" height="5.6" rx="2.8" fill="#000" opacity="0.75" filter="url(#b1)"/>
<text x="52.6" y="306.6" font-size="8.8" text-anchor="end" fill="#000" stroke="#000" stroke-width="0.12" >55-</text>
<text x="240.0" y="305.2" font-size="10" text-anchor="start" fill="#000" stroke="#000" stroke-width="0.12"  textLength="47" lengthAdjust="spacingAndGlyphs">anti-OTU11</text>
<text x="320.9" y="186.5" font-size="10" text-anchor="end" fill="#000" stroke="#000" stroke-width="0.12" >GST-</text>
<text x="320.9" y="195.5" font-size="10" text-anchor="end" fill="#000" stroke="#000" stroke-width="0.12" >OTU11:</text>
<text x="320.9" y="210.0" font-size="10" text-anchor="end" fill="#000" stroke="#000" stroke-width="0.12" >PIP:</text>
<text x="320.9" y="218.2" font-size="8.5" text-anchor="end" fill="#000" stroke="#000" stroke-width="0.12"  textLength="19.9" lengthAdjust="spacingAndGlyphs">(kDa)</text>
<text x="342.8" y="180.0" font-size="10" text-anchor="middle" fill="#000" stroke="#000" stroke-width="0.12" >lin</text>
<text x="380.7" y="180.0" font-size="10" text-anchor="middle" fill="#000" stroke="#000" stroke-width="0.12" >K6</text>
<text x="418.7" y="180.0" font-size="10" text-anchor="middle" fill="#000" stroke="#000" stroke-width="0.12" >K11</text>
<text x="457.5" y="180.0" font-size="10" text-anchor="middle" fill="#000" stroke="#000" stroke-width="0.12" >K29</text>
<line x1="325.3" y1="183.1" x2="358.8" y2="183.1" stroke="#333" stroke-width="0.9"/>
<line x1="325.3" y1="198.3" x2="358.8" y2="198.3" stroke="#8a8a8a" stroke-width="1.0"/>
<line x1="364.7" y1="183.1" x2="397.4" y2="183.1" stroke="#333" stroke-width="0.9"/>
<line x1="364.7" y1="198.3" x2="397.4" y2="198.3" stroke="#8a8a8a" stroke-width="1.0"/>
<line x1="402.6" y1="183.1" x2="435.3" y2="183.1" stroke="#333" stroke-width="0.9"/>
<line x1="402.6" y1="198.3" x2="435.3" y2="198.3" stroke="#8a8a8a" stroke-width="1.0"/>
<line x1="440.6" y1="183.1" x2="474.2" y2="183.1" stroke="#333" stroke-width="0.9"/>
<line x1="440.6" y1="198.3" x2="474.2" y2="198.3" stroke="#8a8a8a" stroke-width="1.0"/>
<text x="329.6" y="193.5" font-size="10" text-anchor="middle" fill="#000" stroke="#000" stroke-width="0.12" >-</text>
<text x="329.6" y="209.6" font-size="10" text-anchor="middle" fill="#000" stroke="#000" stroke-width="0.12" >-</text>
<text x="341.9" y="193.5" font-size="10" text-anchor="middle" fill="#000" stroke="#000" stroke-width="0.12" >+</text>
<text x="341.9" y="209.6" font-size="10" text-anchor="middle" fill="#000" stroke="#000" stroke-width="0.12" >-</text>
<text x="354.5" y="193.5" font-size="10" text-anchor="middle" fill="#000" stroke="#000" stroke-width="0.12" >+</text>
<text x="354.5" y="209.6" font-size="10" text-anchor="middle" fill="#000" stroke="#000" stroke-width="0.12" >+</text>
<text x="368.2" y="193.5" font-size="10" text-anchor="middle" fill="#000" stroke="#000" stroke-width="0.12" >-</text>
<text x="368.2" y="209.6" font-size="10" text-anchor="middle" fill="#000" stroke="#000" stroke-width="0.12" >-</text>
<text x="379.9" y="193.5" font-size="10" text-anchor="middle" fill="#000" stroke="#000" stroke-width="0.12" >+</text>
<text x="379.9" y="209.6" font-size="10" text-anchor="middle" fill="#000" stroke="#000" stroke-width="0.12" >-</text>
<text x="392.4" y="193.5" font-size="10" text-anchor="middle" fill="#000" stroke="#000" stroke-width="0.12" >+</text>
<text x="392.4" y="209.6" font-size="10" text-anchor="middle" fill="#000" stroke="#000" stroke-width="0.12" >+</text>
<text x="405.5" y="193.5" font-size="10" text-anchor="middle" fill="#000" stroke="#000" stroke-width="0.12" >-</text>
<text x="405.5" y="209.6" font-size="10" text-anchor="middle" fill="#000" stroke="#000" stroke-width="0.12" >-</text>
<text x="418.7" y="193.5" font-size="10" text-anchor="middle" fill="#000" stroke="#000" stroke-width="0.12" >+</text>
<text x="418.7" y="209.6" font-size="10" text-anchor="middle" fill="#000" stroke="#000" stroke-width="0.12" >-</text>
<text x="431.2" y="193.5" font-size="10" text-anchor="middle" fill="#000" stroke="#000" stroke-width="0.12" >+</text>
<text x="431.2" y="209.6" font-size="10" text-anchor="middle" fill="#000" stroke="#000" stroke-width="0.12" >+</text>
<text x="443.5" y="193.5" font-size="10" text-anchor="middle" fill="#000" stroke="#000" stroke-width="0.12" >-</text>
<text x="443.5" y="209.6" font-size="10" text-anchor="middle" fill="#000" stroke="#000" stroke-width="0.12" >-</text>
<text x="456.6" y="193.5" font-size="10" text-anchor="middle" fill="#000" stroke="#000" stroke-width="0.12" >+</text>
<text x="456.6" y="209.6" font-size="10" text-anchor="middle" fill="#000" stroke="#000" stroke-width="0.12" >-</text>
<text x="469.2" y="193.5" font-size="10" text-anchor="middle" fill="#000" stroke="#000" stroke-width="0.12" >+</text>
<text x="469.2" y="209.6" font-size="10" text-anchor="middle" fill="#000" stroke="#000" stroke-width="0.12" >+</text>
<rect x="323.8" y="212.3" width="153.5" height="74.0" fill="#f8f8f8"/>
<rect x="323.8" y="212.3" width="151.2" height="8" fill="url(#topfade)"/>
<rect x="324.4" y="218.6" width="11.5" height="5.0" rx="2.5" fill="#000" opacity="1.00" filter="url(#b1)"/>
<rect x="337.1" y="218.3" width="11.5" height="5.5" rx="2.8" fill="#000" opacity="1.00" filter="url(#b1)"/>
<rect x="349.6" y="218.1" width="11.5" height="6.0" rx="3.0" fill="#000" opacity="1.00" filter="url(#b1)"/>
<rect x="363.2" y="225.2" width="11.5" height="4.5" rx="2.2" fill="#000" opacity="0.80" filter="url(#b1)"/>
<rect x="376.4" y="225.2" width="11.5" height="4.5" rx="2.2" fill="#000" opacity="0.80" filter="url(#b1)"/>
<rect x="388.8" y="225.6" width="11.5" height="3.8" rx="1.9" fill="#000" opacity="0.60" filter="url(#b1)"/>
<rect x="402.8" y="222.2" width="11.5" height="6.5" rx="3.2" fill="#000" opacity="1.00" filter="url(#b1)"/>
<rect x="413.9" y="222.2" width="11.5" height="6.5" rx="3.2" fill="#000" opacity="1.00" filter="url(#b1)"/>
<rect x="426.1" y="222.2" width="11.5" height="6.5" rx="3.2" fill="#000" opacity="1.00" filter="url(#b1)"/>
<rect x="440.1" y="221.8" width="11.5" height="4.5" rx="2.2" fill="#000" opacity="0.95" filter="url(#b1)"/>
<rect x="451.8" y="221.5" width="11.5" height="5.0" rx="2.5" fill="#000" opacity="1.00" filter="url(#b1)"/>
<rect x="464.1" y="221.2" width="11.5" height="5.5" rx="2.8" fill="#000" opacity="1.00" filter="url(#b1)"/>
<rect x="325.7" y="235.9" width="9.0" height="2.5" rx="1.2" fill="#000" opacity="0.10" filter="url(#b1)"/>
<rect x="338.3" y="235.9" width="9.0" height="2.5" rx="1.2" fill="#000" opacity="0.15" filter="url(#b1)"/>
<rect x="350.8" y="235.9" width="9.0" height="2.5" rx="1.2" fill="#000" opacity="0.10" filter="url(#b1)"/>
<rect x="377.7" y="235.9" width="9.0" height="2.5" rx="1.2" fill="#000" opacity="0.06" filter="url(#b1)"/>
<rect x="415.1" y="235.9" width="9.0" height="2.5" rx="1.2" fill="#000" opacity="0.10" filter="url(#b1)"/>
<rect x="389.2" y="238.4" width="10.5" height="3.2" rx="1.6" fill="#000" opacity="0.85" filter="url(#b1)"/>
<rect x="426.8" y="235.7" width="10.0" height="3.0" rx="1.5" fill="#000" opacity="0.70" filter="url(#b1)"/>
<rect x="427.8" y="258.8" width="8.0" height="2.5" rx="1.2" fill="#000" opacity="0.22" filter="url(#b1)"/>
<text x="321.5" y="228.3" font-size="8.8" text-anchor="end" fill="#000" stroke="#000" stroke-width="0.12" >35-</text>
<text x="321.5" y="240.2" font-size="8.8" text-anchor="end" fill="#000" stroke="#000" stroke-width="0.12" >25-</text>
<text x="321.5" y="267.0" font-size="8.8" text-anchor="end" fill="#000" stroke="#000" stroke-width="0.12" >15-</text>
<text x="321.5" y="288.9" font-size="8.8" text-anchor="end" fill="#000" stroke="#000" stroke-width="0.12" >10-</text>
<line x1="479.1" y1="216.7" x2="479.1" y2="230.0" stroke="#333" stroke-width="0.7"/>
<line x1="477.6" y1="216.7" x2="479.1" y2="216.7" stroke="#333" stroke-width="0.7"/>
<line x1="477.6" y1="230.0" x2="479.1" y2="230.0" stroke="#333" stroke-width="0.7"/>
<line x1="479.1" y1="234.4" x2="479.1" y2="247.7" stroke="#333" stroke-width="0.7"/>
<line x1="477.6" y1="234.4" x2="479.1" y2="234.4" stroke="#333" stroke-width="0.7"/>
<line x1="477.6" y1="247.7" x2="479.1" y2="247.7" stroke="#333" stroke-width="0.7"/>
<text x="480.2" y="227.5" font-size="8.2" text-anchor="start" fill="#000" stroke="#000" stroke-width="0.12" >-Ub<tspan font-size="5.2" baseline-shift="-1.8">4</tspan></text>
<text x="480.2" y="244.0" font-size="8.2" text-anchor="start" fill="#000" stroke="#000" stroke-width="0.12" >-Ub<tspan font-size="5.2" baseline-shift="-1.8">3</tspan></text>
<text x="477.1" y="264.8" font-size="8.2" text-anchor="start" fill="#000" stroke="#000" stroke-width="0.12" >-Ub<tspan font-size="5.2" baseline-shift="-1.8">2</tspan></text>
<text x="479.8" y="280.7" font-size="9.5" text-anchor="start" fill="#000" stroke="#000" stroke-width="0.12" >IB:</text>
<text x="479.8" y="288.1" font-size="10" text-anchor="start" fill="#000" stroke="#000" stroke-width="0.12" >anti-UB</text>
<rect x="323.8" y="290.7" width="153.0" height="19.0" fill="#f8f8f8"/>
<rect x="332.6" y="296.0" width="10.5" height="5.0" rx="2.5" fill="#000" opacity="1.00" filter="url(#b1)"/>
<rect x="345.4" y="296.0" width="10.5" height="5.0" rx="2.5" fill="#000" opacity="1.00" filter="url(#b1)"/>
<rect x="373.4" y="296.0" width="10.5" height="5.0" rx="2.5" fill="#000" opacity="1.00" filter="url(#b1)"/>
<rect x="387.1" y="296.0" width="10.5" height="5.0" rx="2.5" fill="#000" opacity="1.00" filter="url(#b1)"/>
<rect x="412.6" y="296.0" width="10.5" height="5.0" rx="2.5" fill="#000" opacity="1.00" filter="url(#b1)"/>
<rect x="425.9" y="296.0" width="10.5" height="5.0" rx="2.5" fill="#000" opacity="1.00" filter="url(#b1)"/>
<rect x="453.4" y="299.0" width="10.5" height="5.0" rx="2.5" fill="#000" opacity="1.00" filter="url(#b1)"/>
<rect x="465.9" y="300.0" width="10.5" height="5.0" rx="2.5" fill="#000" opacity="1.00" filter="url(#b1)"/>
<text x="321.5" y="307.8" font-size="8.8" text-anchor="end" fill="#000" stroke="#000" stroke-width="0.12" >55-</text>
<text x="479.5" y="303.5" font-size="10" text-anchor="start" fill="#000" stroke="#000" stroke-width="0.12"  textLength="46.2" lengthAdjust="spacingAndGlyphs">anti-OTU11</text>
<text x="579.7" y="180.8" font-size="10" text-anchor="middle" fill="#000" stroke="#000" stroke-width="0.12" >K33</text>
<text x="617.5" y="180.8" font-size="10" text-anchor="middle" fill="#000" stroke="#000" stroke-width="0.12" >K48</text>
<line x1="563.8" y1="182.8" x2="596.6" y2="182.8" stroke="#333" stroke-width="0.9"/>
<line x1="563.8" y1="198.2" x2="596.6" y2="198.2" stroke="#8a8a8a" stroke-width="1.0"/>
<line x1="601.4" y1="182.8" x2="634.4" y2="182.8" stroke="#333" stroke-width="0.9"/>
<line x1="601.4" y1="198.2" x2="634.4" y2="198.2" stroke="#8a8a8a" stroke-width="1.0"/>
<text x="558.5" y="186.0" font-size="10" text-anchor="end" fill="#000" stroke="#000" stroke-width="0.12" >GST-</text>
<text x="558.5" y="197.0" font-size="10" text-anchor="end" fill="#000" stroke="#000" stroke-width="0.12" >OTU11:</text>
<text x="558.5" y="209.7" font-size="10" text-anchor="end" fill="#000" stroke="#000" stroke-width="0.12" >PIP:</text>
<text x="559.7" y="218.6" font-size="8.5" text-anchor="end" fill="#000" stroke="#000" stroke-width="0.12"  textLength="24" lengthAdjust="spacingAndGlyphs">(kDa)</text>
<text x="567.0" y="194.0" font-size="10" text-anchor="middle" fill="#000" stroke="#000" stroke-width="0.12" >-</text>
<text x="567.0" y="209.2" font-size="10" text-anchor="middle" fill="#000" stroke="#000" stroke-width="0.12" >-</text>
<text x="579.7" y="194.0" font-size="10" text-anchor="middle" fill="#000" stroke="#000" stroke-width="0.12" >+</text>
<text x="579.7" y="209.2" font-size="10" text-anchor="middle" fill="#000" stroke="#000" stroke-width="0.12" >-</text>
<text x="592.3" y="194.0" font-size="10" text-anchor="middle" fill="#000" stroke="#000" stroke-width="0.12" >+</text>
<text x="592.3" y="209.2" font-size="10" text-anchor="middle" fill="#000" stroke="#000" stroke-width="0.12" >+</text>
<text x="604.3" y="194.0" font-size="10" text-anchor="middle" fill="#000" stroke="#000" stroke-width="0.12" >-</text>
<text x="604.3" y="209.2" font-size="10" text-anchor="middle" fill="#000" stroke="#000" stroke-width="0.12" >-</text>
<text x="617.5" y="194.0" font-size="10" text-anchor="middle" fill="#000" stroke="#000" stroke-width="0.12" >+</text>
<text x="617.5" y="209.2" font-size="10" text-anchor="middle" fill="#000" stroke="#000" stroke-width="0.12" >-</text>
<text x="630.3" y="194.0" font-size="10" text-anchor="middle" fill="#000" stroke="#000" stroke-width="0.12" >+</text>
<text x="630.3" y="209.2" font-size="10" text-anchor="middle" fill="#000" stroke="#000" stroke-width="0.12" >+</text>
<rect x="561.4" y="214.1" width="75.4" height="75.1" fill="#f8f8f8"/>
<rect x="561.4" y="214.1" width="75.4" height="8" fill="url(#topfade)"/>
<rect x="561.2" y="221.8" width="11.5" height="4.8" rx="2.4" fill="#000" opacity="0.60" filter="url(#b1)"/>
<rect x="574.0" y="221.8" width="11.5" height="4.8" rx="2.4" fill="#000" opacity="0.65" filter="url(#b1)"/>
<rect x="586.5" y="221.8" width="11.5" height="4.8" rx="2.4" fill="#000" opacity="0.55" filter="url(#b1)"/>
<rect x="600.2" y="221.8" width="12.0" height="6.0" rx="3.0" fill="#000" opacity="1.00" filter="url(#b1)"/>
<rect x="612.3" y="221.8" width="12.0" height="6.0" rx="3.0" fill="#000" opacity="1.00" filter="url(#b1)"/>
<rect x="624.8" y="221.8" width="12.0" height="6.0" rx="3.0" fill="#000" opacity="1.00" filter="url(#b1)"/>
<rect x="600.5" y="234.2" width="11.5" height="4.0" rx="2.0" fill="#000" opacity="0.80" filter="url(#b1)"/>
<rect x="612.5" y="234.2" width="11.5" height="4.0" rx="2.0" fill="#000" opacity="0.95" filter="url(#b1)"/>
<rect x="625.0" y="234.2" width="11.5" height="4.0" rx="2.0" fill="#000" opacity="0.85" filter="url(#b1)"/>
<rect x="562.0" y="234.2" width="10.0" height="2.5" rx="1.2" fill="#000" opacity="0.04" filter="url(#b1)"/>
<rect x="574.7" y="234.2" width="10.0" height="2.5" rx="1.2" fill="#000" opacity="0.08" filter="url(#b1)"/>
<rect x="587.3" y="234.2" width="10.0" height="2.5" rx="1.2" fill="#000" opacity="0.08" filter="url(#b1)"/>
<rect x="601.0" y="259.8" width="10.5" height="3.4" rx="1.7" fill="#000" opacity="0.32" filter="url(#b1)"/>
<rect x="613.0" y="259.8" width="10.5" height="3.4" rx="1.7" fill="#000" opacity="0.50" filter="url(#b1)"/>
<rect x="625.5" y="259.8" width="10.5" height="3.4" rx="1.7" fill="#000" opacity="0.42" filter="url(#b1)"/>
<rect x="575.2" y="260.8" width="9.0" height="2.5" rx="1.2" fill="#000" opacity="0.06" filter="url(#b1)"/>
<rect x="587.8" y="260.8" width="9.0" height="2.5" rx="1.2" fill="#000" opacity="0.06" filter="url(#b1)"/>
<rect x="601.2" y="280.8" width="10.0" height="2.5" rx="1.2" fill="#000" opacity="0.06" filter="url(#b1)"/>
<rect x="613.3" y="280.8" width="10.0" height="2.5" rx="1.2" fill="#000" opacity="0.12" filter="url(#b1)"/>
<rect x="625.8" y="280.8" width="10.0" height="2.5" rx="1.2" fill="#000" opacity="0.15" filter="url(#b1)"/>
<text x="558.5" y="226.3" font-size="8.8" text-anchor="end" fill="#000" stroke="#000" stroke-width="0.12" >35-</text>
<text x="558.5" y="238.0" font-size="8.8" text-anchor="end" fill="#000" stroke="#000" stroke-width="0.12" >25-</text>
<text x="558.5" y="266.9" font-size="8.8" text-anchor="end" fill="#000" stroke="#000" stroke-width="0.12" >15-</text>
<text x="558.5" y="289.8" font-size="8.8" text-anchor="end" fill="#000" stroke="#000" stroke-width="0.12" >10-</text>
<text x="636.8" y="228.3" font-size="9.5" text-anchor="start" fill="#000" stroke="#000" stroke-width="0.12" >-Ub<tspan font-size="5.8" baseline-shift="-2.5">4</tspan></text>
<text x="636.8" y="239.6" font-size="9.5" text-anchor="start" fill="#000" stroke="#000" stroke-width="0.12" >-Ub<tspan font-size="5.8" baseline-shift="-2.5">3</tspan></text>
<text x="636.8" y="265.4" font-size="9.5" text-anchor="start" fill="#000" stroke="#000" stroke-width="0.12" >-Ub<tspan font-size="5.8" baseline-shift="-2.5">2</tspan></text>
<text x="639.2" y="279.6" font-size="10" text-anchor="start" fill="#000" stroke="#000" stroke-width="0.12" >IB:</text>
<text x="639.2" y="289.9" font-size="10" text-anchor="start" fill="#000" stroke="#000" stroke-width="0.12" >anti-UB</text>
<rect x="561.4" y="290.4" width="75.4" height="19.3" fill="#f8f8f8"/>
<rect x="569.6" y="297.2" width="11.5" height="5.5" rx="2.8" fill="#000" opacity="1.00" filter="url(#b1)"/>
<rect x="582.9" y="297.2" width="11.5" height="5.5" rx="2.8" fill="#000" opacity="1.00" filter="url(#b1)"/>
<rect x="612.5" y="297.2" width="11.5" height="5.5" rx="2.8" fill="#000" opacity="1.00" filter="url(#b1)"/>
<rect x="625.0" y="297.2" width="11.5" height="5.5" rx="2.8" fill="#000" opacity="1.00" filter="url(#b1)"/>
<text x="552.5" y="298.3" font-size="8.5" text-anchor="end" fill="#000" stroke="#000" stroke-width="0.12"  textLength="19.3" lengthAdjust="spacingAndGlyphs">(kDa)</text>
<text x="552.5" y="305.2" font-size="8.8" text-anchor="end" fill="#000" stroke="#000" stroke-width="0.12" >55-</text>
<text x="638.5" y="304.8" font-size="10" text-anchor="start" fill="#000" stroke="#000" stroke-width="0.12"  textLength="46" lengthAdjust="spacingAndGlyphs">anti-OTU11</text>
<text x="43.8" y="348.3" font-size="6.8" text-anchor="end" fill="#333" stroke="#333" stroke-width="0.1" >30000</text>
<line x1="48.1" y1="345.9" x2="50.5" y2="345.9" stroke="#808080" stroke-width="0.8"/>
<text x="43.8" y="368.7" font-size="6.8" text-anchor="end" fill="#333" stroke="#333" stroke-width="0.1" >25000</text>
<line x1="48.1" y1="366.3" x2="50.5" y2="366.3" stroke="#808080" stroke-width="0.8"/>
<text x="43.8" y="389.1" font-size="6.8" text-anchor="end" fill="#333" stroke="#333" stroke-width="0.1" >20000</text>
<line x1="48.1" y1="386.7" x2="50.5" y2="386.7" stroke="#808080" stroke-width="0.8"/>
<text x="43.8" y="409.5" font-size="6.8" text-anchor="end" fill="#333" stroke="#333" stroke-width="0.1" >15000</text>
<line x1="48.1" y1="407.1" x2="50.5" y2="407.1" stroke="#808080" stroke-width="0.8"/>
<text x="43.8" y="429.9" font-size="6.8" text-anchor="end" fill="#333" stroke="#333" stroke-width="0.1" >10000</text>
<line x1="48.1" y1="427.5" x2="50.5" y2="427.5" stroke="#808080" stroke-width="0.8"/>
<text x="43.8" y="450.3" font-size="6.8" text-anchor="end" fill="#333" stroke="#333" stroke-width="0.1" >5000</text>
<line x1="48.1" y1="447.9" x2="50.5" y2="447.9" stroke="#808080" stroke-width="0.8"/>
<text x="43.8" y="470.7" font-size="6.8" text-anchor="end" fill="#333" stroke="#333" stroke-width="0.1" >0</text>
<line x1="48.1" y1="468.3" x2="50.5" y2="468.3" stroke="#808080" stroke-width="0.8"/>
<text x="43.8" y="491.1" font-size="6.8" text-anchor="end" fill="#333" stroke="#333" stroke-width="0.1" >-5000</text>
<line x1="48.1" y1="488.7" x2="50.5" y2="488.7" stroke="#808080" stroke-width="0.8"/>
<line x1="50.5" y1="345.9" x2="50.5" y2="498.5" stroke="#808080" stroke-width="0.9"/>
<line x1="50.5" y1="468.3" x2="205.0" y2="468.3" stroke="#707070" stroke-width="0.9"/>
<text x="50.5" y="478.8" font-size="6.9" text-anchor="middle" fill="#333" stroke="#333" stroke-width="0.1" >0</text>
<text x="75.0" y="478.8" font-size="6.9" text-anchor="middle" fill="#333" stroke="#333" stroke-width="0.1" >5</text>
<text x="99.5" y="478.8" font-size="6.9" text-anchor="middle" fill="#333" stroke="#333" stroke-width="0.1" >10</text>
<text x="124.0" y="478.8" font-size="6.9" text-anchor="middle" fill="#333" stroke="#333" stroke-width="0.1" >15</text>
<text x="148.5" y="478.8" font-size="6.9" text-anchor="middle" fill="#333" stroke="#333" stroke-width="0.1" >20</text>
<text x="173.0" y="478.8" font-size="6.9" text-anchor="middle" fill="#333" stroke="#333" stroke-width="0.1" >25</text>
<text x="197.5" y="478.8" font-size="6.9" text-anchor="middle" fill="#333" stroke="#333" stroke-width="0.1" >30</text>
<text x="52.8" y="356.0" font-size="10" text-anchor="start" fill="#111" stroke="#111" stroke-width="0.12" >UB<tspan font-size="6.5" baseline-shift="-2.6">2</tspan> TAMRA (K48 pos1)</text>
<text x="125.9" y="496.8" font-size="9.4" text-anchor="middle" fill="#111" stroke="#111" stroke-width="0.12" >time (min)</text>
<text x="0.0" y="0.0" font-size="9.4" text-anchor="middle" fill="#111" stroke="#111" stroke-width="0.12" transform="translate(15.3,409.6) rotate(-90)">Fluorescence (arb.units)</text>
<path d="M60.5 460.1V475.3M65.5 461.5V474.0M70.5 464.4V479.0M75.5 462.7V478.1M79.5 462.6V478.3M84.5 463.2V476.7M89.5 462.8V476.3M94.5 461.5V476.5M99.5 459.8V475.8M104.5 458.7V469.9M109.5 457.2V473.4M114.5 460.2V473.3M119.5 461.0V472.2M124.5 459.3V471.5M128.5 462.2V474.5M133.5 459.9V472.3M138.5 460.0V472.7M143.5 459.5V470.6M148.5 458.3V472.9M153.5 462.0V474.0M158.5 457.7V469.4M163.5 460.0V472.9M168.5 458.6V474.8M173.5 461.7V475.1M177.5 458.7V471.5M182.5 460.8V475.1M187.5 457.0V470.9M192.5 460.6V474.9M197.5 457.1V472.5M60.5 456.4V469.5M65.5 459.8V473.0M70.5 455.8V472.8M75.5 459.5V474.1M79.5 457.9V474.4M84.5 458.7V472.5M89.5 456.8V474.1M94.5 454.0V473.1M99.5 454.6V470.1M104.5 456.6V471.0M109.5 454.7V470.4M114.5 454.9V469.7M119.5 455.7V471.8M124.5 451.4V467.7M128.5 453.5V468.3M133.5 453.3V466.9M138.5 455.8V472.9M143.5 452.7V466.6M148.5 448.5V465.9M153.5 450.8V469.3M158.5 450.8V465.8M163.5 451.0V469.9M168.5 448.6V466.2M173.5 449.4V466.7M177.5 451.2V467.1M182.5 447.8V466.4M187.5 452.1V467.1M192.5 447.9V466.3M197.5 447.6V463.9M60.5 463.4V475.4M65.5 461.1V474.3M70.5 464.1V474.4M75.5 461.7V476.2M79.5 460.7V476.0M84.5 460.8V473.4M89.5 460.2V473.7M94.5 463.1V474.0M99.5 462.3V475.1M104.5 461.9V475.8M109.5 460.1V474.1M114.5 460.6V473.8M119.5 459.6V474.1M124.5 460.1V472.7M128.5 460.2V474.0M133.5 461.5V476.4M138.5 461.9V474.4M143.5 457.5V472.5M148.5 460.4V471.3M153.5 461.2V472.5M158.5 458.7V472.1M163.5 461.3V473.0M168.5 462.3V474.3M173.5 460.8V473.9M177.5 462.9V476.6M182.5 461.6V476.5M187.5 458.8V472.4M192.5 465.5V476.6M197.5 458.9V473.7M60.5 459.1V473.3M65.5 459.1V471.9M70.5 456.2V473.5M75.5 457.2V473.8M79.5 458.4V473.5M84.5 460.2V473.8M89.5 459.1V472.2M94.5 456.6V474.0M99.5 456.3V472.9M104.5 461.5V474.6M109.5 458.3V474.5M114.5 455.3V472.2M119.5 457.3V472.8M124.5 457.9V473.8M128.5 458.9V473.6M133.5 459.1V471.5M138.5 455.0V470.1M143.5 459.4V473.1M148.5 454.9V472.0M153.5 457.5V474.4M158.5 458.6V474.1M163.5 457.6V472.1M168.5 455.7V472.4M173.5 457.5V469.7M177.5 455.9V469.4M182.5 456.4V471.4M187.5 456.8V474.6M192.5 457.5V470.6M197.5 457.2V472.9M60.5 455.3V471.9M65.5 455.1V472.6M70.5 456.8V468.9M75.5 458.4V473.0M79.5 452.9V470.2M84.5 457.8V470.3M89.5 457.1V472.2M94.5 456.1V471.4M99.5 456.6V470.1M104.5 455.3V472.6M109.5 455.4V472.0M114.5 458.0V470.7M119.5 457.9V469.8M124.5 455.1V472.2M128.5 453.9V471.6M133.5 453.4V470.5M138.5 455.8V470.9M143.5 451.4V467.3M148.5 453.4V469.4M153.5 450.6V468.2M158.5 454.4V468.4M163.5 456.4V469.3M168.5 455.1V468.7M173.5 454.1V469.6M177.5 453.4V467.3M182.5 455.3V469.0M187.5 454.7V468.5M192.5 456.1V470.8M197.5 453.5V471.1M60.5 457.7V471.4M65.5 460.7V473.1M70.5 456.8V470.4M75.5 457.6V472.8M79.5 460.2V472.7M84.5 456.3V471.8M89.5 458.5V472.5M94.5 459.0V473.8M99.5 457.3V472.7M104.5 457.8V470.3M109.5 456.8V472.5M114.5 460.0V472.9M119.5 455.5V471.0M124.5 456.9V470.4M128.5 456.6V471.2M133.5 457.6V470.2M138.5 456.8V468.9M143.5 457.1V471.7M148.5 457.3V473.4M153.5 455.0V468.8M158.5 456.9V472.4M163.5 456.6V473.0M168.5 455.4V469.7M173.5 456.9V469.6M177.5 455.8V471.6M182.5 456.5V470.4M187.5 455.7V468.4M192.5 456.0V468.1M197.5 457.5V469.6M60.5 456.7V472.4M65.5 457.9V470.3M70.5 460.3V472.5M75.5 458.6V473.5M79.5 458.8V471.1M84.5 460.3V472.7M89.5 463.0V475.6M94.5 460.1V473.3M99.5 462.7V478.0M104.5 463.6V477.9M109.5 460.0V477.0M114.5 462.5V476.1M119.5 462.3V476.0M124.5 461.0V477.7M128.5 461.6V477.3M133.5 461.9V476.0M138.5 465.1V477.3M143.5 464.6V477.7M148.5 465.0V478.8M153.5 465.2V480.5M158.5 464.7V481.3M163.5 464.0V480.0M168.5 465.0V480.0M173.5 462.8V479.8M177.5 464.5V482.2M182.5 468.2V480.8M187.5 469.2V482.0M192.5 465.7V480.5M197.5 464.4V480.9M60.5 459.0V472.6M65.5 455.0V472.2M70.5 456.7V475.8M75.5 460.0V474.0M79.5 460.9V476.6M84.5 461.4V477.3M89.5 461.2V474.5M94.5 459.8V474.1M99.5 460.9V476.2M104.5 460.4V478.8M109.5 463.1V477.5M114.5 460.1V479.2M119.5 461.1V476.3M124.5 461.3V478.3M128.5 463.7V479.6M133.5 460.8V477.6M138.5 462.9V476.5M143.5 465.5V478.7M148.5 463.0V477.0M153.5 462.6V481.4M158.5 464.3V482.6M163.5 465.6V480.1M168.5 466.9V480.4M173.5 461.5V479.1M177.5 462.3V479.5M182.5 462.2V481.0M187.5 465.0V479.0M192.5 467.4V481.1M197.5 468.0V481.2M60.5 460.6V471.4M65.5 458.0V472.6M70.5 457.5V472.2M75.5 461.2V471.8M79.5 463.2V473.6M84.5 462.0V474.1M89.5 461.5V475.4M94.5 464.2V475.2M99.5 462.7V475.5M104.5 461.6V476.5M109.5 465.3V477.5M114.5 464.3V478.3M119.5 463.3V476.9M124.5 463.7V477.6M128.5 466.2V477.7M133.5 466.1V477.4M138.5 467.1V478.3M143.5 463.6V478.3M148.5 466.9V479.0M153.5 467.3V480.0M158.5 465.1V479.9M163.5 468.3V479.0M168.5 467.9V481.0M173.5 467.1V481.9M177.5 469.1V479.7M182.5 468.0V481.0M187.5 468.0V480.8M192.5 467.5V482.4M197.5 469.4V482.9" stroke="#8c8c8c" stroke-width="0.75" fill="none"/>
<g fill="none" stroke="#ee1c24" stroke-width="0.7"><use href="#tr" x="60.3" y="467.7"/><use href="#tr" x="65.2" y="467.8"/><use href="#tr" x="70.1" y="471.7"/><use href="#tr" x="75.0" y="470.4"/><use href="#tr" x="79.9" y="470.5"/><use href="#tr" x="84.8" y="469.9"/><use href="#tr" x="89.7" y="469.5"/><use href="#tr" x="94.6" y="469.0"/><use href="#tr" x="99.5" y="467.8"/><use href="#tr" x="104.4" y="464.3"/><use href="#tr" x="109.3" y="465.3"/><use href="#tr" x="114.2" y="466.7"/><use href="#tr" x="119.1" y="466.6"/><use href="#tr" x="124.0" y="465.4"/><use href="#tr" x="128.9" y="468.3"/><use href="#tr" x="133.8" y="466.1"/><use href="#tr" x="138.7" y="466.4"/><use href="#tr" x="143.6" y="465.0"/><use href="#tr" x="148.5" y="465.6"/><use href="#tr" x="153.4" y="468.0"/><use href="#tr" x="158.3" y="463.6"/><use href="#tr" x="163.2" y="466.5"/><use href="#tr" x="168.1" y="466.7"/><use href="#tr" x="173.0" y="468.4"/><use href="#tr" x="177.9" y="465.1"/><use href="#tr" x="182.8" y="467.9"/><use href="#tr" x="187.7" y="463.9"/><use href="#tr" x="192.6" y="467.8"/><use href="#tr" x="197.5" y="464.8"/></g>
<g fill="none" stroke="#ee1c24" stroke-width="0.7"><use href="#oc" x="60.3" y="463.0"/><use href="#oc" x="65.2" y="466.4"/><use href="#oc" x="70.1" y="464.3"/><use href="#oc" x="75.0" y="466.8"/><use href="#oc" x="79.9" y="466.1"/><use href="#oc" x="84.8" y="465.6"/><use href="#oc" x="89.7" y="465.4"/><use href="#oc" x="94.6" y="463.6"/><use href="#oc" x="99.5" y="462.4"/><use href="#oc" x="104.4" y="463.8"/><use href="#oc" x="109.3" y="462.6"/><use href="#oc" x="114.2" y="462.3"/><use href="#oc" x="119.1" y="463.7"/><use href="#oc" x="124.0" y="459.6"/><use href="#oc" x="128.9" y="460.9"/><use href="#oc" x="133.8" y="460.1"/><use href="#oc" x="138.7" y="464.3"/><use href="#oc" x="143.6" y="459.7"/><use href="#oc" x="148.5" y="457.2"/><use href="#oc" x="153.4" y="460.1"/><use href="#oc" x="158.3" y="458.3"/><use href="#oc" x="163.2" y="460.5"/><use href="#oc" x="168.1" y="457.4"/><use href="#oc" x="173.0" y="458.1"/><use href="#oc" x="177.9" y="459.2"/><use href="#oc" x="182.8" y="457.1"/><use href="#oc" x="187.7" y="459.6"/><use href="#oc" x="192.6" y="457.1"/><use href="#oc" x="197.5" y="455.8"/></g>
<path d="M60.3 469.4h0M65.2 467.7h0M70.1 469.2h0M75.0 468.9h0M79.9 468.4h0M84.8 467.1h0M89.7 467.0h0M94.6 468.6h0M99.5 468.7h0M104.4 468.8h0M109.3 467.1h0M114.2 467.2h0M119.1 466.8h0M124.0 466.4h0M128.9 467.1h0M133.8 469.0h0M138.7 468.2h0M143.6 465.0h0M148.5 465.9h0M153.4 466.8h0M158.3 465.4h0M163.2 467.2h0M168.1 468.3h0M173.0 467.3h0M177.9 469.8h0M182.8 469.0h0M187.7 465.6h0M192.6 471.0h0M197.5 466.3h0" stroke="#ee1c24" stroke-width="3.1" stroke-linecap="round"/>
<g fill="none" stroke="#231f20" stroke-width="0.7"><use href="#tr" x="60.3" y="466.2"/><use href="#tr" x="65.2" y="465.5"/><use href="#tr" x="70.1" y="464.8"/><use href="#tr" x="75.0" y="465.5"/><use href="#tr" x="79.9" y="466.0"/><use href="#tr" x="84.8" y="467.0"/><use href="#tr" x="89.7" y="465.6"/><use href="#tr" x="94.6" y="465.3"/><use href="#tr" x="99.5" y="464.6"/><use href="#tr" x="104.4" y="468.0"/><use href="#tr" x="109.3" y="466.4"/><use href="#tr" x="114.2" y="463.7"/><use href="#tr" x="119.1" y="465.1"/><use href="#tr" x="124.0" y="465.9"/><use href="#tr" x="128.9" y="466.3"/><use href="#tr" x="133.8" y="465.3"/><use href="#tr" x="138.7" y="462.6"/><use href="#tr" x="143.6" y="466.3"/><use href="#tr" x="148.5" y="463.5"/><use href="#tr" x="153.4" y="466.0"/><use href="#tr" x="158.3" y="466.3"/><use href="#tr" x="163.2" y="464.9"/><use href="#tr" x="168.1" y="464.1"/><use href="#tr" x="173.0" y="463.6"/><use href="#tr" x="177.9" y="462.6"/><use href="#tr" x="182.8" y="463.9"/><use href="#tr" x="187.7" y="465.7"/><use href="#tr" x="192.6" y="464.1"/><use href="#tr" x="197.5" y="465.0"/></g>
<g fill="none" stroke="#231f20" stroke-width="0.7"><use href="#oc" x="60.3" y="463.6"/><use href="#oc" x="65.2" y="463.8"/><use href="#oc" x="70.1" y="462.9"/><use href="#oc" x="75.0" y="465.7"/><use href="#oc" x="79.9" y="461.5"/><use href="#oc" x="84.8" y="464.1"/><use href="#oc" x="89.7" y="464.6"/><use href="#oc" x="94.6" y="463.8"/><use href="#oc" x="99.5" y="463.4"/><use href="#oc" x="104.4" y="463.9"/><use href="#oc" x="109.3" y="463.7"/><use href="#oc" x="114.2" y="464.3"/><use href="#oc" x="119.1" y="463.9"/><use href="#oc" x="124.0" y="463.6"/><use href="#oc" x="128.9" y="462.8"/><use href="#oc" x="133.8" y="462.0"/><use href="#oc" x="138.7" y="463.4"/><use href="#oc" x="143.6" y="459.4"/><use href="#oc" x="148.5" y="461.4"/><use href="#oc" x="153.4" y="459.4"/><use href="#oc" x="158.3" y="461.4"/><use href="#oc" x="163.2" y="462.8"/><use href="#oc" x="168.1" y="461.9"/><use href="#oc" x="173.0" y="461.8"/><use href="#oc" x="177.9" y="460.3"/><use href="#oc" x="182.8" y="462.1"/><use href="#oc" x="187.7" y="461.6"/><use href="#oc" x="192.6" y="463.5"/><use href="#oc" x="197.5" y="462.3"/></g>
<path d="M60.3 464.5h0M65.2 466.9h0M70.1 463.6h0M75.0 465.2h0M79.9 466.5h0M84.8 464.0h0M89.7 465.5h0M94.6 466.4h0M99.5 465.0h0M104.4 464.1h0M109.3 464.6h0M114.2 466.4h0M119.1 463.3h0M124.0 463.6h0M128.9 463.9h0M133.8 463.9h0M138.7 462.8h0M143.6 464.4h0M148.5 465.3h0M153.4 461.9h0M158.3 464.6h0M163.2 464.8h0M168.1 462.5h0M173.0 463.2h0M177.9 463.7h0M182.8 463.5h0M187.7 462.0h0M192.6 462.1h0M197.5 463.5h0" stroke="#231f20" stroke-width="3.1" stroke-linecap="round"/>
<g fill="none" stroke="#1b75bb" stroke-width="0.7"><use href="#tr" x="60.3" y="464.5"/><use href="#tr" x="65.2" y="464.1"/><use href="#tr" x="70.1" y="466.4"/><use href="#tr" x="75.0" y="466.0"/><use href="#tr" x="79.9" y="465.0"/><use href="#tr" x="84.8" y="466.5"/><use href="#tr" x="89.7" y="469.3"/><use href="#tr" x="94.6" y="466.7"/><use href="#tr" x="99.5" y="470.4"/><use href="#tr" x="104.4" y="470.7"/><use href="#tr" x="109.3" y="468.5"/><use href="#tr" x="114.2" y="469.3"/><use href="#tr" x="119.1" y="469.1"/><use href="#tr" x="124.0" y="469.3"/><use href="#tr" x="128.9" y="469.5"/><use href="#tr" x="133.8" y="469.0"/><use href="#tr" x="138.7" y="471.2"/><use href="#tr" x="143.6" y="471.2"/><use href="#tr" x="148.5" y="471.9"/><use href="#tr" x="153.4" y="472.8"/><use href="#tr" x="158.3" y="473.0"/><use href="#tr" x="163.2" y="472.0"/><use href="#tr" x="168.1" y="472.5"/><use href="#tr" x="173.0" y="471.3"/><use href="#tr" x="177.9" y="473.3"/><use href="#tr" x="182.8" y="474.5"/><use href="#tr" x="187.7" y="475.6"/><use href="#tr" x="192.6" y="473.1"/><use href="#tr" x="197.5" y="472.7"/></g>
<g fill="none" stroke="#1b75bb" stroke-width="0.7"><use href="#oc" x="60.3" y="465.8"/><use href="#oc" x="65.2" y="463.6"/><use href="#oc" x="70.1" y="466.3"/><use href="#oc" x="75.0" y="467.0"/><use href="#oc" x="79.9" y="468.7"/><use href="#oc" x="84.8" y="469.4"/><use href="#oc" x="89.7" y="467.9"/><use href="#oc" x="94.6" y="467.0"/><use href="#oc" x="99.5" y="468.6"/><use href="#oc" x="104.4" y="469.6"/><use href="#oc" x="109.3" y="470.3"/><use href="#oc" x="114.2" y="469.7"/><use href="#oc" x="119.1" y="468.7"/><use href="#oc" x="124.0" y="469.8"/><use href="#oc" x="128.9" y="471.6"/><use href="#oc" x="133.8" y="469.2"/><use href="#oc" x="138.7" y="469.7"/><use href="#oc" x="143.6" y="472.1"/><use href="#oc" x="148.5" y="470.0"/><use href="#oc" x="153.4" y="472.0"/><use href="#oc" x="158.3" y="473.5"/><use href="#oc" x="163.2" y="472.9"/><use href="#oc" x="168.1" y="473.7"/><use href="#oc" x="173.0" y="470.3"/><use href="#oc" x="177.9" y="470.9"/><use href="#oc" x="182.8" y="471.6"/><use href="#oc" x="187.7" y="472.0"/><use href="#oc" x="192.6" y="474.2"/><use href="#oc" x="197.5" y="474.6"/></g>
<path d="M55.4 468.3h0M60.3 466.0h0M65.2 465.3h0M70.1 464.9h0M75.0 466.5h0M79.9 468.4h0M84.8 468.1h0M89.7 468.4h0M94.6 469.7h0M99.5 469.1h0M104.4 469.0h0M109.3 471.4h0M114.2 471.3h0M119.1 470.1h0M124.0 470.7h0M128.9 471.9h0M133.8 471.8h0M138.7 472.7h0M143.6 471.0h0M148.5 472.9h0M153.4 473.6h0M158.3 472.5h0M163.2 473.7h0M168.1 474.4h0M173.0 474.5h0M177.9 474.4h0M182.8 474.5h0M187.7 474.4h0M192.6 475.0h0M197.5 476.1h0" stroke="#1b75bb" stroke-width="3.1" stroke-linecap="round"/>
<text x="228.8" y="347.9" font-size="6.8" text-anchor="end" fill="#333" stroke="#333" stroke-width="0.1" >30000</text>
<line x1="233.1" y1="345.5" x2="235.5" y2="345.5" stroke="#808080" stroke-width="0.8"/>
<text x="228.8" y="368.3" font-size="6.8" text-anchor="end" fill="#333" stroke="#333" stroke-width="0.1" >25000</text>
<line x1="233.1" y1="365.9" x2="235.5" y2="365.9" stroke="#808080" stroke-width="0.8"/>
<text x="228.8" y="388.7" font-size="6.8" text-anchor="end" fill="#333" stroke="#333" stroke-width="0.1" >20000</text>
<line x1="233.1" y1="386.3" x2="235.5" y2="386.3" stroke="#808080" stroke-width="0.8"/>
<text x="228.8" y="409.1" font-size="6.8" text-anchor="end" fill="#333" stroke="#333" stroke-width="0.1" >15000</text>
<line x1="233.1" y1="406.7" x2="235.5" y2="406.7" stroke="#808080" stroke-width="0.8"/>
<text x="228.8" y="429.5" font-size="6.8" text-anchor="end" fill="#333" stroke="#333" stroke-width="0.1" >10000</text>
<line x1="233.1" y1="427.1" x2="235.5" y2="427.1" stroke="#808080" stroke-width="0.8"/>
<text x="228.8" y="449.9" font-size="6.8" text-anchor="end" fill="#333" stroke="#333" stroke-width="0.1" >5000</text>
<line x1="233.1" y1="447.5" x2="235.5" y2="447.5" stroke="#808080" stroke-width="0.8"/>
<text x="228.8" y="470.3" font-size="6.8" text-anchor="end" fill="#333" stroke="#333" stroke-width="0.1" >0</text>
<line x1="233.1" y1="467.9" x2="235.5" y2="467.9" stroke="#808080" stroke-width="0.8"/>
<text x="228.8" y="490.7" font-size="6.8" text-anchor="end" fill="#333" stroke="#333" stroke-width="0.1" >-5000</text>
<line x1="233.1" y1="488.3" x2="235.5" y2="488.3" stroke="#808080" stroke-width="0.8"/>
<line x1="235.5" y1="345.5" x2="235.5" y2="498.5" stroke="#808080" stroke-width="0.9"/>
<line x1="235.5" y1="467.9" x2="388.0" y2="467.9" stroke="#707070" stroke-width="0.9"/>
<text x="235.5" y="478.4" font-size="6.9" text-anchor="middle" fill="#333" stroke="#333" stroke-width="0.1" >0</text>
<text x="259.7" y="478.4" font-size="6.9" text-anchor="middle" fill="#333" stroke="#333" stroke-width="0.1" >5</text>
<text x="283.9" y="478.4" font-size="6.9" text-anchor="middle" fill="#333" stroke="#333" stroke-width="0.1" >10</text>
<text x="308.1" y="478.4" font-size="6.9" text-anchor="middle" fill="#333" stroke="#333" stroke-width="0.1" >15</text>
<text x="332.3" y="478.4" font-size="6.9" text-anchor="middle" fill="#333" stroke="#333" stroke-width="0.1" >20</text>
<text x="356.5" y="478.4" font-size="6.9" text-anchor="middle" fill="#333" stroke="#333" stroke-width="0.1" >25</text>
<text x="380.7" y="478.4" font-size="6.9" text-anchor="middle" fill="#333" stroke="#333" stroke-width="0.1" >30</text>
<text x="238.2" y="356.0" font-size="10" text-anchor="start" fill="#111" stroke="#111" stroke-width="0.12" >UB<tspan font-size="6.5" baseline-shift="-2.6">2</tspan> TAMRA (K48 pos2)</text>
<text x="311.8" y="497.0" font-size="9.4" text-anchor="middle" fill="#111" stroke="#111" stroke-width="0.12" >time (min)</text>
<path d="M245.5 466.2V470.5M250.5 465.4V469.1M254.5 468.0V471.2M259.5 467.0V470.7M264.5 469.0V472.1M269.5 469.5V472.9M274.5 466.9V470.9M279.5 468.5V471.5M283.5 467.0V470.9M288.5 470.0V473.9M293.5 469.8V473.5M298.5 470.2V473.2M303.5 470.1V473.1M308.5 469.5V473.1M312.5 472.0V475.7M317.5 469.5V473.4M322.5 471.9V475.5M327.5 470.6V474.0M332.5 466.9V471.1M337.5 470.5V474.5M341.5 471.2V474.5M346.5 470.4V473.5M351.5 470.5V474.7M356.5 472.1V475.6M361.5 469.5V472.4M366.5 471.9V475.1M371.5 469.9V474.3M375.5 472.0V475.5M380.5 469.9V474.0M245.5 466.1V469.6M250.5 465.5V468.3M254.5 465.3V468.3M259.5 466.2V469.8M264.5 467.2V470.6M269.5 468.3V471.7M274.5 467.5V470.3M279.5 467.3V471.1M283.5 467.6V470.3M288.5 467.9V471.4M293.5 468.6V472.3M298.5 467.8V470.5M303.5 466.4V469.7M308.5 467.5V470.2M312.5 466.0V468.8M317.5 467.8V470.9M322.5 466.9V470.3M327.5 466.9V469.8M332.5 467.4V470.2M337.5 467.1V470.8M341.5 467.6V471.0M346.5 466.5V469.7M351.5 466.9V470.5M356.5 466.4V470.3M361.5 465.7V468.8M366.5 467.1V470.2M371.5 467.5V470.2M375.5 468.0V470.9M380.5 467.1V470.8M245.5 467.0V470.5M250.5 466.0V469.7M254.5 467.9V470.7M259.5 467.9V470.8M264.5 468.7V472.0M269.5 469.7V472.6M274.5 469.6V473.3M279.5 469.0V472.4M283.5 469.9V472.7M288.5 470.2V473.9M293.5 469.8V473.5M298.5 471.9V475.5M303.5 469.6V472.6M308.5 471.2V474.9M312.5 472.4V475.8M317.5 471.1V474.3M322.5 472.0V475.0M327.5 471.0V473.8M332.5 470.6V474.5M337.5 472.9V476.4M341.5 473.3V476.1M346.5 472.3V475.8M351.5 472.7V475.6M356.5 472.0V475.3M361.5 472.3V475.7M366.5 471.6V474.7M371.5 472.1V475.0M375.5 472.2V475.1M380.5 472.8V475.5M245.5 463.9V467.8M250.5 464.5V468.9M254.5 466.4V470.4M259.5 466.2V470.1M264.5 468.3V471.8M269.5 466.6V470.7M274.5 468.1V472.4M279.5 469.1V472.6M283.5 470.2V474.0M288.5 468.7V471.8M293.5 472.0V475.2M298.5 470.8V474.7M303.5 470.2V473.3M308.5 470.2V473.5M312.5 469.4V473.8M317.5 471.0V474.6M322.5 472.4V476.4M327.5 472.6V475.7M332.5 472.6V475.8M337.5 472.3V475.4M341.5 470.7V474.0M346.5 472.4V476.0M351.5 471.2V474.9M356.5 470.2V473.3M361.5 471.8V475.1M366.5 472.6V475.6M371.5 472.0V475.7M375.5 472.9V476.0M380.5 473.7V477.4M245.5 466.0V469.6M250.5 467.0V469.8M254.5 466.8V470.5M259.5 467.5V471.0M264.5 466.2V469.1M269.5 471.3V474.4M274.5 469.3V472.3M279.5 470.3V473.2M283.5 468.7V472.4M288.5 471.5V474.4M293.5 469.4V472.4M298.5 470.7V473.9M303.5 470.6V473.9M308.5 470.4V473.5M312.5 472.2V475.6M317.5 471.5V474.7M322.5 469.0V472.3M327.5 472.6V476.4M332.5 470.7V473.6M337.5 470.7V474.6M341.5 471.8V474.8M346.5 472.5V475.7M351.5 471.3V474.1M356.5 472.0V474.7M361.5 473.1V476.4M366.5 471.4V474.6M371.5 472.0V475.8M375.5 472.0V475.1M380.5 471.7V475.4M245.5 467.3V470.5M250.5 466.5V469.7M254.5 468.9V471.8M259.5 467.5V470.9M264.5 468.1V471.2M269.5 469.4V472.2M274.5 469.6V473.2M279.5 470.7V474.5M283.5 470.6V474.3M288.5 469.0V472.5M293.5 470.0V473.4M298.5 471.0V474.0M303.5 471.2V474.2M308.5 470.4V474.0M312.5 471.8V475.2M317.5 470.5V474.3M322.5 471.3V475.2M327.5 471.2V474.9M332.5 471.7V474.6M337.5 473.1V475.9M341.5 472.6V475.3M346.5 471.1V474.6M351.5 472.0V475.7M356.5 472.4V475.7M361.5 471.4V475.0M366.5 473.0V476.2M371.5 473.6V476.3M375.5 473.6V476.4M380.5 472.8V475.9M245.5 466.3V470.7M250.5 466.2V469.5M254.5 466.4V470.3M259.5 469.5V472.6M264.5 467.3V471.4M269.5 469.4V472.8M274.5 471.0V475.2M279.5 470.9V475.3M283.5 475.5V478.5M288.5 470.1V474.2M293.5 472.1V476.0M298.5 473.2V477.0M303.5 472.4V476.1M308.5 473.2V477.5M312.5 474.4V477.5M317.5 474.1V478.4M322.5 477.6V480.8M327.5 473.4V477.6M332.5 473.9V476.9M337.5 476.9V480.3M341.5 473.4V476.8M346.5 474.2V478.6M351.5 476.3V480.5M356.5 474.5V477.8M361.5 478.2V481.9M366.5 477.0V480.5M371.5 476.6V479.9M375.5 474.6V478.4M380.5 478.2V481.3M245.5 463.9V467.4M250.5 464.2V467.4M254.5 467.4V471.0M259.5 467.0V470.6M264.5 467.8V471.8M269.5 468.1V471.5M274.5 470.2V474.4M279.5 471.8V476.1M283.5 471.1V475.1M288.5 470.8V474.6M293.5 471.0V475.3M298.5 470.3V474.4M303.5 472.4V475.3M308.5 471.2V475.6M312.5 472.3V476.0M317.5 471.1V474.9M322.5 474.8V478.6M327.5 473.7V477.1M332.5 472.2V476.5M337.5 473.1V476.3M341.5 474.6V477.8M346.5 475.6V478.8M351.5 474.7V478.3M356.5 475.4V479.1M361.5 473.3V477.1M366.5 473.9V477.6M371.5 475.8V479.9M375.5 473.6V477.4M380.5 475.2V478.4M245.5 464.8V468.1M250.5 466.5V469.8M254.5 468.5V471.5M259.5 465.6V468.5M264.5 468.3V471.3M269.5 468.6V471.6M274.5 469.6V472.6M279.5 470.5V473.9M283.5 472.1V475.0M288.5 471.9V475.3M293.5 473.4V477.0M298.5 472.0V475.2M303.5 471.9V475.5M308.5 472.7V475.8M312.5 473.8V477.6M317.5 474.3V478.0M322.5 473.9V476.8M327.5 476.5V479.8M332.5 475.1V478.2M337.5 476.7V479.5M341.5 475.3V478.8M346.5 475.9V478.5M351.5 476.6V479.4M356.5 475.4V478.6M361.5 476.3V480.1M366.5 475.7V479.5M371.5 476.0V478.6M375.5 476.8V479.9M380.5 475.7V478.6" stroke="#8c8c8c" stroke-width="0.75" fill="none"/>
<g fill="none" stroke="#ee1c24" stroke-width="0.7"><use href="#tr" x="245.2" y="468.3"/><use href="#tr" x="250.0" y="467.3"/><use href="#tr" x="254.9" y="469.6"/><use href="#tr" x="259.7" y="468.8"/><use href="#tr" x="264.5" y="470.6"/><use href="#tr" x="269.4" y="471.2"/><use href="#tr" x="274.2" y="468.9"/><use href="#tr" x="279.1" y="470.0"/><use href="#tr" x="283.9" y="469.0"/><use href="#tr" x="288.7" y="471.9"/><use href="#tr" x="293.6" y="471.6"/><use href="#tr" x="298.4" y="471.7"/><use href="#tr" x="303.3" y="471.6"/><use href="#tr" x="308.1" y="471.3"/><use href="#tr" x="312.9" y="473.9"/><use href="#tr" x="317.8" y="471.4"/><use href="#tr" x="322.6" y="473.7"/><use href="#tr" x="327.5" y="472.3"/><use href="#tr" x="332.3" y="469.0"/><use href="#tr" x="337.1" y="472.5"/><use href="#tr" x="342.0" y="472.8"/><use href="#tr" x="346.8" y="472.0"/><use href="#tr" x="351.7" y="472.6"/><use href="#tr" x="356.5" y="473.8"/><use href="#tr" x="361.3" y="471.0"/><use href="#tr" x="366.2" y="473.5"/><use href="#tr" x="371.0" y="472.1"/><use href="#tr" x="375.9" y="473.7"/><use href="#tr" x="380.7" y="471.9"/></g>
<g fill="none" stroke="#ee1c24" stroke-width="0.7"><use href="#oc" x="245.2" y="467.9"/><use href="#oc" x="250.0" y="466.9"/><use href="#oc" x="254.9" y="466.8"/><use href="#oc" x="259.7" y="468.0"/><use href="#oc" x="264.5" y="468.9"/><use href="#oc" x="269.4" y="470.0"/><use href="#oc" x="274.2" y="468.9"/><use href="#oc" x="279.1" y="469.2"/><use href="#oc" x="283.9" y="468.9"/><use href="#oc" x="288.7" y="469.6"/><use href="#oc" x="293.6" y="470.5"/><use href="#oc" x="298.4" y="469.1"/><use href="#oc" x="303.3" y="468.0"/><use href="#oc" x="308.1" y="468.9"/><use href="#oc" x="312.9" y="467.4"/><use href="#oc" x="317.8" y="469.4"/><use href="#oc" x="322.6" y="468.6"/><use href="#oc" x="327.5" y="468.3"/><use href="#oc" x="332.3" y="468.8"/><use href="#oc" x="337.1" y="468.9"/><use href="#oc" x="342.0" y="469.3"/><use href="#oc" x="346.8" y="468.1"/><use href="#oc" x="351.7" y="468.7"/><use href="#oc" x="356.5" y="468.4"/><use href="#oc" x="361.3" y="467.3"/><use href="#oc" x="366.2" y="468.6"/><use href="#oc" x="371.0" y="468.8"/><use href="#oc" x="375.9" y="469.5"/><use href="#oc" x="380.7" y="468.9"/></g>
<path d="M245.2 468.8h0M250.0 467.9h0M254.9 469.3h0M259.7 469.4h0M264.5 470.4h0M269.4 471.2h0M274.2 471.4h0M279.1 470.7h0M283.9 471.3h0M288.7 472.0h0M293.6 471.7h0M298.4 473.7h0M303.3 471.1h0M308.1 473.0h0M312.9 474.1h0M317.8 472.7h0M322.6 473.5h0M327.5 472.4h0M332.3 472.6h0M337.1 474.6h0M342.0 474.7h0M346.8 474.0h0M351.7 474.2h0M356.5 473.6h0M361.3 474.0h0M366.2 473.2h0M371.0 473.5h0M375.9 473.6h0M380.7 474.2h0" stroke="#ee1c24" stroke-width="3.1" stroke-linecap="round"/>
<g fill="none" stroke="#231f20" stroke-width="0.7"><use href="#tr" x="245.2" y="465.8"/><use href="#tr" x="250.0" y="466.7"/><use href="#tr" x="254.9" y="468.4"/><use href="#tr" x="259.7" y="468.1"/><use href="#tr" x="264.5" y="470.0"/><use href="#tr" x="269.4" y="468.7"/><use href="#tr" x="274.2" y="470.2"/><use href="#tr" x="279.1" y="470.9"/><use href="#tr" x="283.9" y="472.1"/><use href="#tr" x="288.7" y="470.2"/><use href="#tr" x="293.6" y="473.6"/><use href="#tr" x="298.4" y="472.8"/><use href="#tr" x="303.3" y="471.7"/><use href="#tr" x="308.1" y="471.8"/><use href="#tr" x="312.9" y="471.6"/><use href="#tr" x="317.8" y="472.8"/><use href="#tr" x="322.6" y="474.4"/><use href="#tr" x="327.5" y="474.2"/><use href="#tr" x="332.3" y="474.2"/><use href="#tr" x="337.1" y="473.9"/><use href="#tr" x="342.0" y="472.3"/><use href="#tr" x="346.8" y="474.2"/><use href="#tr" x="351.7" y="473.0"/><use href="#tr" x="356.5" y="471.7"/><use href="#tr" x="361.3" y="473.4"/><use href="#tr" x="366.2" y="474.1"/><use href="#tr" x="371.0" y="473.8"/><use href="#tr" x="375.9" y="474.4"/><use href="#tr" x="380.7" y="475.6"/></g>
<g fill="none" stroke="#231f20" stroke-width="0.7"><use href="#oc" x="245.2" y="467.8"/><use href="#oc" x="250.0" y="468.4"/><use href="#oc" x="254.9" y="468.7"/><use href="#oc" x="259.7" y="469.3"/><use href="#oc" x="264.5" y="467.6"/><use href="#oc" x="269.4" y="472.8"/><use href="#oc" x="274.2" y="470.8"/><use href="#oc" x="279.1" y="471.8"/><use href="#oc" x="283.9" y="470.5"/><use href="#oc" x="288.7" y="473.0"/><use href="#oc" x="293.6" y="470.9"/><use href="#oc" x="298.4" y="472.3"/><use href="#oc" x="303.3" y="472.3"/><use href="#oc" x="308.1" y="471.9"/><use href="#oc" x="312.9" y="473.9"/><use href="#oc" x="317.8" y="473.1"/><use href="#oc" x="322.6" y="470.6"/><use href="#oc" x="327.5" y="474.5"/><use href="#oc" x="332.3" y="472.1"/><use href="#oc" x="337.1" y="472.6"/><use href="#oc" x="342.0" y="473.3"/><use href="#oc" x="346.8" y="474.1"/><use href="#oc" x="351.7" y="472.7"/><use href="#oc" x="356.5" y="473.3"/><use href="#oc" x="361.3" y="474.7"/><use href="#oc" x="366.2" y="473.0"/><use href="#oc" x="371.0" y="473.9"/><use href="#oc" x="375.9" y="473.5"/><use href="#oc" x="380.7" y="473.5"/></g>
<path d="M245.2 468.9h0M250.0 468.1h0M254.9 470.3h0M259.7 469.2h0M264.5 469.7h0M269.4 470.8h0M274.2 471.4h0M279.1 472.6h0M283.9 472.4h0M288.7 470.8h0M293.6 471.7h0M298.4 472.5h0M303.3 472.7h0M308.1 472.2h0M312.9 473.5h0M317.8 472.4h0M322.6 473.3h0M327.5 473.1h0M332.3 473.2h0M337.1 474.5h0M342.0 473.9h0M346.8 472.9h0M351.7 473.8h0M356.5 474.0h0M361.3 473.2h0M366.2 474.6h0M371.0 475.0h0M375.9 475.0h0M380.7 474.3h0" stroke="#231f20" stroke-width="3.1" stroke-linecap="round"/>
<g fill="none" stroke="#1b75bb" stroke-width="0.7"><use href="#tr" x="245.2" y="468.5"/><use href="#tr" x="250.0" y="467.8"/><use href="#tr" x="254.9" y="468.4"/><use href="#tr" x="259.7" y="471.0"/><use href="#tr" x="264.5" y="469.4"/><use href="#tr" x="269.4" y="471.1"/><use href="#tr" x="274.2" y="473.1"/><use href="#tr" x="279.1" y="473.1"/><use href="#tr" x="283.9" y="477.0"/><use href="#tr" x="288.7" y="472.1"/><use href="#tr" x="293.6" y="474.1"/><use href="#tr" x="298.4" y="475.1"/><use href="#tr" x="303.3" y="474.2"/><use href="#tr" x="308.1" y="475.3"/><use href="#tr" x="312.9" y="475.9"/><use href="#tr" x="317.8" y="476.3"/><use href="#tr" x="322.6" y="479.2"/><use href="#tr" x="327.5" y="475.5"/><use href="#tr" x="332.3" y="475.4"/><use href="#tr" x="337.1" y="478.6"/><use href="#tr" x="342.0" y="475.1"/><use href="#tr" x="346.8" y="476.4"/><use href="#tr" x="351.7" y="478.4"/><use href="#tr" x="356.5" y="476.1"/><use href="#tr" x="361.3" y="480.0"/><use href="#tr" x="366.2" y="478.7"/><use href="#tr" x="371.0" y="478.3"/><use href="#tr" x="375.9" y="476.5"/><use href="#tr" x="380.7" y="479.7"/></g>
<g fill="none" stroke="#1b75bb" stroke-width="0.7"><use href="#oc" x="245.2" y="465.6"/><use href="#oc" x="250.0" y="465.8"/><use href="#oc" x="254.9" y="469.2"/><use href="#oc" x="259.7" y="468.8"/><use href="#oc" x="264.5" y="469.8"/><use href="#oc" x="269.4" y="469.8"/><use href="#oc" x="274.2" y="472.3"/><use href="#oc" x="279.1" y="473.9"/><use href="#oc" x="283.9" y="473.1"/><use href="#oc" x="288.7" y="472.7"/><use href="#oc" x="293.6" y="473.2"/><use href="#oc" x="298.4" y="472.4"/><use href="#oc" x="303.3" y="473.8"/><use href="#oc" x="308.1" y="473.4"/><use href="#oc" x="312.9" y="474.1"/><use href="#oc" x="317.8" y="473.0"/><use href="#oc" x="322.6" y="476.7"/><use href="#oc" x="327.5" y="475.4"/><use href="#oc" x="332.3" y="474.4"/><use href="#oc" x="337.1" y="474.7"/><use href="#oc" x="342.0" y="476.2"/><use href="#oc" x="346.8" y="477.2"/><use href="#oc" x="351.7" y="476.5"/><use href="#oc" x="356.5" y="477.3"/><use href="#oc" x="361.3" y="475.2"/><use href="#oc" x="366.2" y="475.7"/><use href="#oc" x="371.0" y="477.9"/><use href="#oc" x="375.9" y="475.5"/><use href="#oc" x="380.7" y="476.8"/></g>
<path d="M240.3 467.9h0M245.2 466.5h0M250.0 468.1h0M254.9 470.0h0M259.7 467.1h0M264.5 469.8h0M269.4 470.1h0M274.2 471.1h0M279.1 472.2h0M283.9 473.5h0M288.7 473.6h0M293.6 475.2h0M298.4 473.6h0M303.3 473.7h0M308.1 474.3h0M312.9 475.7h0M317.8 476.2h0M322.6 475.4h0M327.5 478.1h0M332.3 476.6h0M337.1 478.1h0M342.0 477.1h0M346.8 477.2h0M351.7 478.0h0M356.5 477.0h0M361.3 478.2h0M366.2 477.6h0M371.0 477.3h0M375.9 478.3h0M380.7 477.1h0" stroke="#1b75bb" stroke-width="3.1" stroke-linecap="round"/>
<text x="407.6" y="347.7" font-size="6.8" text-anchor="end" fill="#333" stroke="#333" stroke-width="0.1" >30000</text>
<line x1="411.9" y1="345.3" x2="414.3" y2="345.3" stroke="#808080" stroke-width="0.8"/>
<text x="407.6" y="367.9" font-size="6.8" text-anchor="end" fill="#333" stroke="#333" stroke-width="0.1" >25000</text>
<line x1="411.9" y1="365.6" x2="414.3" y2="365.6" stroke="#808080" stroke-width="0.8"/>
<text x="407.6" y="388.2" font-size="6.8" text-anchor="end" fill="#333" stroke="#333" stroke-width="0.1" >20000</text>
<line x1="411.9" y1="385.8" x2="414.3" y2="385.8" stroke="#808080" stroke-width="0.8"/>
<text x="407.6" y="408.4" font-size="6.8" text-anchor="end" fill="#333" stroke="#333" stroke-width="0.1" >15000</text>
<line x1="411.9" y1="406.1" x2="414.3" y2="406.1" stroke="#808080" stroke-width="0.8"/>
<text x="407.6" y="428.7" font-size="6.8" text-anchor="end" fill="#333" stroke="#333" stroke-width="0.1" >10000</text>
<line x1="411.9" y1="426.3" x2="414.3" y2="426.3" stroke="#808080" stroke-width="0.8"/>
<text x="407.6" y="448.9" font-size="6.8" text-anchor="end" fill="#333" stroke="#333" stroke-width="0.1" >5000</text>
<line x1="411.9" y1="446.6" x2="414.3" y2="446.6" stroke="#808080" stroke-width="0.8"/>
<text x="407.6" y="469.2" font-size="6.8" text-anchor="end" fill="#333" stroke="#333" stroke-width="0.1" >0</text>
<line x1="411.9" y1="466.8" x2="414.3" y2="466.8" stroke="#808080" stroke-width="0.8"/>
<text x="407.6" y="489.4" font-size="6.8" text-anchor="end" fill="#333" stroke="#333" stroke-width="0.1" >-5000</text>
<line x1="411.9" y1="487.1" x2="414.3" y2="487.1" stroke="#808080" stroke-width="0.8"/>
<line x1="414.3" y1="345.3" x2="414.3" y2="497.0" stroke="#808080" stroke-width="0.9"/>
<line x1="414.3" y1="466.8" x2="567.4" y2="466.8" stroke="#707070" stroke-width="0.9"/>
<text x="414.3" y="477.3" font-size="6.9" text-anchor="middle" fill="#333" stroke="#333" stroke-width="0.1" >0</text>
<text x="438.5" y="477.3" font-size="6.9" text-anchor="middle" fill="#333" stroke="#333" stroke-width="0.1" >5</text>
<text x="462.7" y="477.3" font-size="6.9" text-anchor="middle" fill="#333" stroke="#333" stroke-width="0.1" >10</text>
<text x="486.9" y="477.3" font-size="6.9" text-anchor="middle" fill="#333" stroke="#333" stroke-width="0.1" >15</text>
<text x="511.1" y="477.3" font-size="6.9" text-anchor="middle" fill="#333" stroke="#333" stroke-width="0.1" >20</text>
<text x="535.3" y="477.3" font-size="6.9" text-anchor="middle" fill="#333" stroke="#333" stroke-width="0.1" >25</text>
<text x="559.5" y="477.3" font-size="6.9" text-anchor="middle" fill="#333" stroke="#333" stroke-width="0.1" >30</text>
<text x="420.7" y="355.7" font-size="10" text-anchor="start" fill="#111" stroke="#111" stroke-width="0.12" >UB<tspan font-size="6.5" baseline-shift="-2.6">2</tspan> TAMRA (K63 pos1)</text>
<text x="492.0" y="496.5" font-size="9.4" text-anchor="middle" fill="#111" stroke="#111" stroke-width="0.12" >time (min)</text>
<path d="M423.5 447.9V471.0M428.5 447.2V468.9M433.5 446.8V471.4M438.5 445.4V467.4M443.5 451.1V468.7M448.5 447.9V468.6M453.5 446.0V470.4M457.5 447.7V467.3M462.5 443.5V469.7M467.5 444.3V468.2M472.5 446.3V464.1M477.5 448.2V468.6M482.5 444.7V470.6M486.5 446.5V467.2M491.5 445.9V464.5M496.5 441.7V467.3M501.5 448.7V469.2M506.5 445.6V467.3M511.5 444.4V469.4M515.5 446.9V466.5M520.5 444.0V469.9M525.5 445.6V470.9M530.5 445.9V468.4M535.5 448.1V472.0M540.5 443.6V468.4M544.5 446.5V465.7M549.5 443.9V464.9M554.5 448.7V469.4M559.5 445.9V472.1M423.5 449.1V466.8M428.5 445.0V471.3M433.5 445.3V468.5M438.5 445.5V466.0M443.5 441.9V467.8M448.5 445.4V465.7M453.5 445.0V468.5M457.5 442.5V468.1M462.5 440.1V465.3M467.5 441.9V464.5M472.5 440.7V465.7M477.5 440.8V463.4M482.5 437.9V463.8M486.5 442.9V465.4M491.5 444.1V463.9M496.5 442.4V468.3M501.5 441.6V467.5M506.5 439.8V463.0M511.5 440.5V463.8M515.5 442.2V461.3M520.5 443.3V461.1M525.5 440.5V466.1M530.5 445.0V466.1M535.5 442.3V465.5M540.5 442.4V463.2M544.5 443.2V465.7M549.5 443.3V465.5M554.5 441.4V462.7M559.5 445.5V463.8M423.5 447.0V470.4M428.5 442.3V467.0M433.5 437.6V463.6M438.5 435.0V462.1M443.5 430.4V458.7M448.5 426.5V456.1M453.5 422.2V453.0M457.5 421.2V453.2M462.5 418.6V451.8M467.5 412.7V447.2M472.5 412.1V447.8M477.5 411.1V448.0M482.5 400.0V438.0M486.5 403.0V442.3M491.5 398.0V438.4M496.5 395.7V437.4M501.5 390.7V433.6M506.5 388.8V433.0M511.5 380.9V426.3M515.5 383.6V430.1M520.5 376.5V424.3M525.5 378.7V427.7M530.5 374.1V424.3M535.5 373.4V424.9M540.5 371.6V424.3M544.5 367.8V421.6M549.5 362.3V417.4M554.5 362.1V418.4M559.5 353.0V410.5M423.5 445.8V464.9M428.5 445.1V471.3M433.5 445.7V464.0M438.5 441.8V466.0M443.5 443.3V467.1M448.5 443.0V467.2M453.5 447.6V473.8M457.5 447.8V466.3M462.5 450.8V474.7M467.5 449.4V470.8M472.5 452.8V471.0M477.5 445.6V469.8M482.5 451.7V472.1M486.5 454.1V474.2M491.5 453.1V478.4M496.5 452.8V478.4M501.5 458.5V476.6M506.5 454.8V473.1M511.5 457.2V481.8M515.5 457.5V483.7M520.5 455.4V479.4M525.5 456.4V482.0M530.5 457.3V476.2M535.5 458.0V476.7M540.5 457.9V483.9M544.5 459.0V477.6M549.5 462.1V486.3M554.5 457.9V480.0M559.5 458.8V478.6M423.5 440.2V467.9M428.5 438.0V459.5M433.5 439.7V459.6M438.5 438.5V467.2M443.5 439.4V462.9M448.5 437.0V462.2M453.5 435.4V462.9M457.5 436.9V461.3M462.5 436.4V463.9M467.5 442.3V463.5M472.5 441.5V462.0M477.5 435.5V464.4M482.5 440.2V465.3M486.5 441.9V465.3M491.5 441.5V465.4M496.5 443.7V463.8M501.5 446.9V467.6M506.5 443.0V471.0M511.5 442.4V469.8M515.5 446.7V468.3M520.5 448.4V472.1M525.5 446.0V470.2M530.5 451.5V471.5M535.5 446.7V474.1M540.5 449.4V472.8M544.5 447.4V474.8M549.5 451.5V475.5M554.5 453.4V475.0M559.5 454.6V474.7M423.5 449.1V468.4M428.5 448.6V471.4M433.5 445.0V469.1M438.5 449.9V467.7M443.5 449.1V472.2M448.5 448.9V474.8M453.5 446.8V471.6M457.5 448.9V473.3M462.5 448.1V473.8M467.5 452.0V471.4M472.5 448.2V473.0M477.5 447.7V473.6M482.5 455.0V472.8M486.5 447.3V473.2M491.5 453.5V472.1M496.5 451.8V469.7M501.5 449.4V471.8M506.5 450.2V474.9M511.5 449.4V474.3M515.5 455.0V474.2M520.5 450.4V476.1M525.5 455.0V475.9M530.5 457.9V475.9M535.5 456.2V474.3M540.5 459.8V477.7M544.5 457.4V478.4M549.5 456.5V482.7M554.5 457.6V475.9M559.5 457.7V482.0M423.5 445.2V471.1M428.5 449.5V468.7M433.5 444.5V464.9M438.5 446.3V467.1M443.5 445.2V470.6M448.5 448.8V470.5M453.5 444.6V467.1M457.5 448.8V467.0M462.5 446.5V470.4M467.5 451.1V474.3M472.5 447.5V473.5M477.5 449.7V472.8M482.5 451.6V472.0M486.5 448.4V471.6M491.5 454.1V472.5M496.5 454.7V475.6M501.5 451.8V477.4M506.5 449.6V473.9M511.5 453.9V477.6M515.5 455.4V475.2M520.5 451.4V477.4M525.5 457.0V474.6M530.5 454.5V477.1M535.5 457.3V478.4M540.5 455.0V479.7M544.5 455.1V475.7M549.5 459.7V478.7M554.5 455.2V475.8M559.5 460.5V479.5M423.5 450.7V473.5M428.5 452.9V471.9M433.5 451.4V472.5M438.5 452.3V471.7M443.5 456.7V475.3M448.5 452.2V471.4M453.5 453.6V471.9M457.5 450.9V477.0M462.5 457.0V475.6M467.5 447.4V472.8M472.5 455.6V478.9M477.5 455.4V475.3M482.5 456.1V474.7M486.5 454.9V472.5M491.5 456.4V476.2M496.5 458.3V480.4M501.5 457.1V475.7M506.5 458.1V479.2M511.5 458.8V476.5M515.5 455.4V479.6M520.5 458.4V479.2M525.5 461.4V481.1M530.5 455.4V478.7M535.5 462.1V481.1M540.5 460.2V479.4M544.5 457.3V480.9M549.5 462.7V482.0M554.5 459.5V485.0M559.5 461.9V486.0M423.5 446.9V469.0M428.5 448.4V466.2M433.5 449.1V467.9M438.5 445.9V469.1M443.5 447.8V465.1M448.5 447.8V466.1M453.5 446.7V467.0M457.5 449.0V467.8M462.5 450.4V467.2M467.5 450.9V469.9M472.5 451.2V471.2M477.5 449.6V466.7M482.5 450.8V470.3M486.5 452.9V470.2M491.5 453.3V472.8M496.5 449.4V470.8M501.5 451.5V472.0M506.5 454.9V473.5M511.5 456.4V472.7M515.5 453.6V476.5M520.5 456.2V472.9M525.5 455.0V473.2M530.5 454.7V473.4M535.5 455.1V475.7M540.5 459.5V480.2M544.5 457.6V475.6M549.5 454.8V477.9M554.5 459.5V480.8M559.5 459.4V477.1" stroke="#8c8c8c" stroke-width="0.75" fill="none"/>
<g fill="none" stroke="#ee1c24" stroke-width="0.7"><use href="#tr" x="424.0" y="459.5"/><use href="#tr" x="428.8" y="458.1"/><use href="#tr" x="433.7" y="459.1"/><use href="#tr" x="438.5" y="456.4"/><use href="#tr" x="443.3" y="459.9"/><use href="#tr" x="448.2" y="458.2"/><use href="#tr" x="453.0" y="458.2"/><use href="#tr" x="457.9" y="457.5"/><use href="#tr" x="462.7" y="456.6"/><use href="#tr" x="467.5" y="456.2"/><use href="#tr" x="472.4" y="455.2"/><use href="#tr" x="477.2" y="458.4"/><use href="#tr" x="482.1" y="457.6"/><use href="#tr" x="486.9" y="456.9"/><use href="#tr" x="491.7" y="455.2"/><use href="#tr" x="496.6" y="454.5"/><use href="#tr" x="501.4" y="459.0"/><use href="#tr" x="506.3" y="456.4"/><use href="#tr" x="511.1" y="456.9"/><use href="#tr" x="515.9" y="456.7"/><use href="#tr" x="520.8" y="457.0"/><use href="#tr" x="525.6" y="458.3"/><use href="#tr" x="530.5" y="457.2"/><use href="#tr" x="535.3" y="460.0"/><use href="#tr" x="540.1" y="456.0"/><use href="#tr" x="545.0" y="456.1"/><use href="#tr" x="549.8" y="454.4"/><use href="#tr" x="554.7" y="459.0"/><use href="#tr" x="559.5" y="459.0"/></g>
<g fill="none" stroke="#ee1c24" stroke-width="0.7"><use href="#oc" x="424.0" y="457.9"/><use href="#oc" x="428.8" y="458.1"/><use href="#oc" x="433.7" y="456.9"/><use href="#oc" x="438.5" y="455.8"/><use href="#oc" x="443.3" y="454.9"/><use href="#oc" x="448.2" y="455.6"/><use href="#oc" x="453.0" y="456.8"/><use href="#oc" x="457.9" y="455.3"/><use href="#oc" x="462.7" y="452.7"/><use href="#oc" x="467.5" y="453.2"/><use href="#oc" x="472.4" y="453.2"/><use href="#oc" x="477.2" y="452.1"/><use href="#oc" x="482.1" y="450.8"/><use href="#oc" x="486.9" y="454.2"/><use href="#oc" x="491.7" y="454.0"/><use href="#oc" x="496.6" y="455.3"/><use href="#oc" x="501.4" y="454.5"/><use href="#oc" x="506.3" y="451.4"/><use href="#oc" x="511.1" y="452.2"/><use href="#oc" x="515.9" y="451.8"/><use href="#oc" x="520.8" y="452.2"/><use href="#oc" x="525.6" y="453.3"/><use href="#oc" x="530.5" y="455.5"/><use href="#oc" x="535.3" y="453.9"/><use href="#oc" x="540.1" y="452.8"/><use href="#oc" x="545.0" y="454.4"/><use href="#oc" x="549.8" y="454.4"/><use href="#oc" x="554.7" y="452.0"/><use href="#oc" x="559.5" y="454.6"/></g>
<path d="M424.0 458.7h0M428.8 454.7h0M433.7 450.6h0M438.5 448.6h0M443.3 444.5h0M448.2 441.3h0M453.0 437.6h0M457.9 437.2h0M462.7 435.2h0M467.5 429.9h0M472.4 429.9h0M477.2 429.5h0M482.1 419.0h0M486.9 422.7h0M491.7 418.2h0M496.6 416.6h0M501.4 412.1h0M506.3 410.9h0M511.1 403.6h0M515.9 406.9h0M520.8 400.4h0M525.6 403.2h0M530.5 399.2h0M535.3 399.2h0M540.1 398.0h0M545.0 394.7h0M549.8 389.9h0M554.7 390.3h0M559.5 381.8h0" stroke="#ee1c24" stroke-width="3.1" stroke-linecap="round"/>
<g fill="none" stroke="#231f20" stroke-width="0.7"><use href="#tr" x="424.0" y="455.4"/><use href="#tr" x="428.8" y="458.2"/><use href="#tr" x="433.7" y="454.8"/><use href="#tr" x="438.5" y="453.9"/><use href="#tr" x="443.3" y="455.2"/><use href="#tr" x="448.2" y="455.1"/><use href="#tr" x="453.0" y="460.7"/><use href="#tr" x="457.9" y="457.0"/><use href="#tr" x="462.7" y="462.8"/><use href="#tr" x="467.5" y="460.1"/><use href="#tr" x="472.4" y="461.9"/><use href="#tr" x="477.2" y="457.7"/><use href="#tr" x="482.1" y="461.9"/><use href="#tr" x="486.9" y="464.1"/><use href="#tr" x="491.7" y="465.8"/><use href="#tr" x="496.6" y="465.6"/><use href="#tr" x="501.4" y="467.5"/><use href="#tr" x="506.3" y="463.9"/><use href="#tr" x="511.1" y="469.5"/><use href="#tr" x="515.9" y="470.6"/><use href="#tr" x="520.8" y="467.4"/><use href="#tr" x="525.6" y="469.2"/><use href="#tr" x="530.5" y="466.8"/><use href="#tr" x="535.3" y="467.4"/><use href="#tr" x="540.1" y="470.9"/><use href="#tr" x="545.0" y="468.3"/><use href="#tr" x="549.8" y="474.2"/><use href="#tr" x="554.7" y="468.9"/><use href="#tr" x="559.5" y="468.7"/></g>
<g fill="none" stroke="#231f20" stroke-width="0.7"><use href="#oc" x="424.0" y="454.1"/><use href="#oc" x="428.8" y="448.7"/><use href="#oc" x="433.7" y="449.7"/><use href="#oc" x="438.5" y="452.8"/><use href="#oc" x="443.3" y="451.1"/><use href="#oc" x="448.2" y="449.6"/><use href="#oc" x="453.0" y="449.2"/><use href="#oc" x="457.9" y="449.1"/><use href="#oc" x="462.7" y="450.1"/><use href="#oc" x="467.5" y="452.9"/><use href="#oc" x="472.4" y="451.8"/><use href="#oc" x="477.2" y="450.0"/><use href="#oc" x="482.1" y="452.7"/><use href="#oc" x="486.9" y="453.6"/><use href="#oc" x="491.7" y="453.5"/><use href="#oc" x="496.6" y="453.8"/><use href="#oc" x="501.4" y="457.3"/><use href="#oc" x="506.3" y="457.0"/><use href="#oc" x="511.1" y="456.1"/><use href="#oc" x="515.9" y="457.5"/><use href="#oc" x="520.8" y="460.2"/><use href="#oc" x="525.6" y="458.1"/><use href="#oc" x="530.5" y="461.5"/><use href="#oc" x="535.3" y="460.4"/><use href="#oc" x="540.1" y="461.1"/><use href="#oc" x="545.0" y="461.1"/><use href="#oc" x="549.8" y="463.5"/><use href="#oc" x="554.7" y="464.2"/><use href="#oc" x="559.5" y="464.7"/></g>
<path d="M424.0 458.7h0M428.8 460.0h0M433.7 457.0h0M438.5 458.8h0M443.3 460.7h0M448.2 461.9h0M453.0 459.2h0M457.9 461.1h0M462.7 461.0h0M467.5 461.7h0M472.4 460.6h0M477.2 460.7h0M482.1 463.9h0M486.9 460.2h0M491.7 462.8h0M496.6 460.7h0M501.4 460.6h0M506.3 462.6h0M511.1 461.9h0M515.9 464.6h0M520.8 463.3h0M525.6 465.4h0M530.5 466.9h0M535.3 465.2h0M540.1 468.8h0M545.0 467.9h0M549.8 469.6h0M554.7 466.8h0M559.5 469.9h0" stroke="#231f20" stroke-width="3.1" stroke-linecap="round"/>
<g fill="none" stroke="#1b75bb" stroke-width="0.7"><use href="#tr" x="424.0" y="458.2"/><use href="#tr" x="428.8" y="459.1"/><use href="#tr" x="433.7" y="454.7"/><use href="#tr" x="438.5" y="456.7"/><use href="#tr" x="443.3" y="457.9"/><use href="#tr" x="448.2" y="459.6"/><use href="#tr" x="453.0" y="455.8"/><use href="#tr" x="457.9" y="457.9"/><use href="#tr" x="462.7" y="458.4"/><use href="#tr" x="467.5" y="462.7"/><use href="#tr" x="472.4" y="460.5"/><use href="#tr" x="477.2" y="461.2"/><use href="#tr" x="482.1" y="461.8"/><use href="#tr" x="486.9" y="460.0"/><use href="#tr" x="491.7" y="463.3"/><use href="#tr" x="496.6" y="465.1"/><use href="#tr" x="501.4" y="464.6"/><use href="#tr" x="506.3" y="461.7"/><use href="#tr" x="511.1" y="465.7"/><use href="#tr" x="515.9" y="465.3"/><use href="#tr" x="520.8" y="464.4"/><use href="#tr" x="525.6" y="465.8"/><use href="#tr" x="530.5" y="465.8"/><use href="#tr" x="535.3" y="467.9"/><use href="#tr" x="540.1" y="467.3"/><use href="#tr" x="545.0" y="465.4"/><use href="#tr" x="549.8" y="469.2"/><use href="#tr" x="554.7" y="465.5"/><use href="#tr" x="559.5" y="470.0"/></g>
<g fill="none" stroke="#1b75bb" stroke-width="0.7"><use href="#oc" x="424.0" y="462.1"/><use href="#oc" x="428.8" y="462.4"/><use href="#oc" x="433.7" y="461.9"/><use href="#oc" x="438.5" y="462.0"/><use href="#oc" x="443.3" y="466.0"/><use href="#oc" x="448.2" y="461.8"/><use href="#oc" x="453.0" y="462.8"/><use href="#oc" x="457.9" y="464.0"/><use href="#oc" x="462.7" y="466.3"/><use href="#oc" x="467.5" y="460.1"/><use href="#oc" x="472.4" y="467.3"/><use href="#oc" x="477.2" y="465.3"/><use href="#oc" x="482.1" y="465.4"/><use href="#oc" x="486.9" y="463.7"/><use href="#oc" x="491.7" y="466.3"/><use href="#oc" x="496.6" y="469.3"/><use href="#oc" x="501.4" y="466.4"/><use href="#oc" x="506.3" y="468.7"/><use href="#oc" x="511.1" y="467.7"/><use href="#oc" x="515.9" y="467.5"/><use href="#oc" x="520.8" y="468.8"/><use href="#oc" x="525.6" y="471.2"/><use href="#oc" x="530.5" y="467.0"/><use href="#oc" x="535.3" y="471.6"/><use href="#oc" x="540.1" y="469.8"/><use href="#oc" x="545.0" y="469.1"/><use href="#oc" x="549.8" y="472.3"/><use href="#oc" x="554.7" y="472.2"/><use href="#oc" x="559.5" y="473.9"/></g>
<path d="M419.1 466.8h0M424.0 457.9h0M428.8 457.3h0M433.7 458.5h0M438.5 457.5h0M443.3 456.4h0M448.2 457.0h0M453.0 456.9h0M457.9 458.4h0M462.7 458.8h0M467.5 460.4h0M472.4 461.2h0M477.2 458.2h0M482.1 460.6h0M486.9 461.5h0M491.7 463.0h0M496.6 460.1h0M501.4 461.8h0M506.3 464.2h0M511.1 464.6h0M515.9 465.1h0M520.8 464.6h0M525.6 464.1h0M530.5 464.0h0M535.3 465.4h0M540.1 469.9h0M545.0 466.6h0M549.8 466.4h0M554.7 470.1h0M559.5 468.3h0" stroke="#1b75bb" stroke-width="3.1" stroke-linecap="round"/>
<text x="41.3" y="529.7" font-size="6.8" text-anchor="end" fill="#333" stroke="#333" stroke-width="0.1" >20000</text>
<line x1="45.6" y1="527.3" x2="48.0" y2="527.3" stroke="#808080" stroke-width="0.8"/>
<text x="41.3" y="556.8" font-size="6.8" text-anchor="end" fill="#333" stroke="#333" stroke-width="0.1" >15000</text>
<line x1="45.6" y1="554.4" x2="48.0" y2="554.4" stroke="#808080" stroke-width="0.8"/>
<text x="41.3" y="583.9" font-size="6.8" text-anchor="end" fill="#333" stroke="#333" stroke-width="0.1" >10000</text>
<line x1="45.6" y1="581.5" x2="48.0" y2="581.5" stroke="#808080" stroke-width="0.8"/>
<text x="41.3" y="611.0" font-size="6.8" text-anchor="end" fill="#333" stroke="#333" stroke-width="0.1" >5000</text>
<line x1="45.6" y1="608.6" x2="48.0" y2="608.6" stroke="#808080" stroke-width="0.8"/>
<text x="41.3" y="638.1" font-size="6.8" text-anchor="end" fill="#333" stroke="#333" stroke-width="0.1" >0</text>
<line x1="45.6" y1="635.7" x2="48.0" y2="635.7" stroke="#808080" stroke-width="0.8"/>
<text x="41.3" y="665.2" font-size="6.8" text-anchor="end" fill="#333" stroke="#333" stroke-width="0.1" >-5000</text>
<line x1="45.6" y1="662.8" x2="48.0" y2="662.8" stroke="#808080" stroke-width="0.8"/>
<line x1="48.0" y1="527.3" x2="48.0" y2="676.0" stroke="#808080" stroke-width="0.9"/>
<line x1="48.0" y1="635.7" x2="203.0" y2="635.7" stroke="#707070" stroke-width="0.9"/>
<text x="48.0" y="646.2" font-size="6.9" text-anchor="middle" fill="#333" stroke="#333" stroke-width="0.1" >0</text>
<text x="72.5" y="646.2" font-size="6.9" text-anchor="middle" fill="#333" stroke="#333" stroke-width="0.1" >5</text>
<text x="97.0" y="646.2" font-size="6.9" text-anchor="middle" fill="#333" stroke="#333" stroke-width="0.1" >10</text>
<text x="121.5" y="646.2" font-size="6.9" text-anchor="middle" fill="#333" stroke="#333" stroke-width="0.1" >15</text>
<text x="146.0" y="646.2" font-size="6.9" text-anchor="middle" fill="#333" stroke="#333" stroke-width="0.1" >20</text>
<text x="170.5" y="646.2" font-size="6.9" text-anchor="middle" fill="#333" stroke="#333" stroke-width="0.1" >25</text>
<text x="195.0" y="646.2" font-size="6.9" text-anchor="middle" fill="#333" stroke="#333" stroke-width="0.1" >30</text>
<text x="53.9" y="534.1" font-size="10" text-anchor="start" fill="#111" stroke="#111" stroke-width="0.12" >UB<tspan font-size="6.5" baseline-shift="-2.6">2</tspan> TAMRA (K48 pos1)</text>
<text x="125.4" y="671.0" font-size="9.4" text-anchor="middle" fill="#111" stroke="#111" stroke-width="0.12" >time (min)</text>
<text x="0.0" y="0.0" font-size="9.4" text-anchor="middle" fill="#111" stroke="#111" stroke-width="0.12" transform="translate(15.3,584.0) rotate(-90)">Fluorescence (arb.units)</text>
<path d="M57.5 610.7V631.7M62.5 601.1V624.6M67.5 603.0V622.6M72.5 601.0V625.3M77.5 600.8V624.1M82.5 602.9V621.7M87.5 606.7V627.9M92.5 603.0V629.3M97.5 603.0V628.8M101.5 605.4V626.5M106.5 605.2V626.0M111.5 601.5V627.5M116.5 604.4V627.1M121.5 603.6V626.0M126.5 602.2V622.9M131.5 607.4V626.7M136.5 604.1V621.9M141.5 608.8V632.8M146.5 604.3V623.8M150.5 605.6V630.2M155.5 604.4V627.6M160.5 607.3V626.8M165.5 603.9V624.4M170.5 604.8V625.9M175.5 604.9V630.9M180.5 605.5V631.7M185.5 602.2V622.5M190.5 606.3V625.4M195.5 605.6V629.1M57.5 613.4V633.6M62.5 610.8V636.3M67.5 617.9V636.3M72.5 611.9V634.0M77.5 608.0V633.9M82.5 611.4V636.7M87.5 609.2V633.4M92.5 611.2V629.9M97.5 604.0V629.0M101.5 607.3V632.3M106.5 609.5V627.8M111.5 611.2V629.8M116.5 609.6V628.5M121.5 611.4V629.1M126.5 609.2V629.9M131.5 610.5V629.5M136.5 612.5V631.5M141.5 603.2V627.9M146.5 609.2V631.8M150.5 610.9V635.2M155.5 611.4V631.9M160.5 611.3V631.0M165.5 614.9V636.2M170.5 607.6V625.7M175.5 613.6V635.1M180.5 608.0V631.7M185.5 608.1V631.5M190.5 611.1V629.1M195.5 611.6V630.8M57.5 620.0V641.4M62.5 620.2V637.6M67.5 619.2V641.3M72.5 623.0V639.7M77.5 619.5V638.5M82.5 618.4V640.9M87.5 618.2V640.6M92.5 617.1V637.1M97.5 617.7V636.6M101.5 616.7V632.4M106.5 620.5V638.9M111.5 618.3V640.0M116.5 613.7V634.1M121.5 620.1V636.2M126.5 611.7V629.1M131.5 616.1V632.9M136.5 615.6V631.8M141.5 620.6V638.3M146.5 619.3V634.6M150.5 615.5V634.7M155.5 619.6V636.3M160.5 616.9V632.9M165.5 611.9V632.9M170.5 616.5V636.0M175.5 618.3V634.4M180.5 617.6V635.2M185.5 617.2V634.0M190.5 618.5V635.2M195.5 619.7V638.5M57.5 613.8V638.7M62.5 610.8V636.3M67.5 608.1V634.0M72.5 612.3V633.6M77.5 610.3V632.4M82.5 610.1V629.1M87.5 607.9V632.3M92.5 604.4V628.5M97.5 607.9V627.7M101.5 607.0V629.4M106.5 604.0V629.8M111.5 610.4V633.1M116.5 609.9V630.2M121.5 610.7V630.0M126.5 610.6V633.2M131.5 609.6V630.6M136.5 608.6V633.3M141.5 607.8V630.5M146.5 610.0V630.0M150.5 614.3V632.9M155.5 608.9V633.4M160.5 605.9V627.0M165.5 607.8V632.9M170.5 613.3V631.7M175.5 610.6V631.9M180.5 615.6V637.2M185.5 610.4V630.1M190.5 610.2V630.4M195.5 610.9V629.4M57.5 616.9V641.0M62.5 613.6V638.8M67.5 614.4V637.0M72.5 607.1V631.2M77.5 613.1V633.1M82.5 616.5V637.3M87.5 610.3V634.5M92.5 613.3V634.0M97.5 608.3V632.2M101.5 610.2V631.1M106.5 608.8V626.8M111.5 610.3V630.0M116.5 611.6V630.6M121.5 610.6V628.8M126.5 610.8V629.7M131.5 612.2V630.5M136.5 606.3V631.1M141.5 609.0V635.1M146.5 612.2V633.2M150.5 610.8V630.7M155.5 613.9V635.9M160.5 611.5V635.7M165.5 606.4V629.9M170.5 612.0V634.4M175.5 606.9V632.0M180.5 609.2V630.6M185.5 610.3V633.0M190.5 612.6V632.1M195.5 611.4V629.1M57.5 620.9V643.4M62.5 612.1V634.3M67.5 619.4V634.6M72.5 621.9V641.8M77.5 617.7V636.2M82.5 613.2V632.7M87.5 617.9V639.4M92.5 614.8V637.5M97.5 616.1V638.1M101.5 612.5V630.7M106.5 612.6V633.6M111.5 613.6V632.8M116.5 614.8V632.5M121.5 610.9V632.9M126.5 614.5V632.7M131.5 611.2V633.9M136.5 613.0V631.4M141.5 612.7V630.7M146.5 613.3V635.6M150.5 611.3V634.1M155.5 613.9V630.9M160.5 616.8V635.9M165.5 614.9V637.7M170.5 618.8V634.7M175.5 616.9V633.4M180.5 616.0V631.7M185.5 614.0V636.4M190.5 613.6V633.0M195.5 618.6V635.1M57.5 612.9V634.3M62.5 612.1V635.4M67.5 610.9V632.5M72.5 614.9V634.3M77.5 612.3V634.3M82.5 611.7V633.0M87.5 611.2V633.6M92.5 610.0V630.0M97.5 605.1V628.3M101.5 614.4V631.5M106.5 610.7V630.1M111.5 610.1V632.2M116.5 610.0V631.6M121.5 613.6V634.7M126.5 610.8V628.9M131.5 611.8V631.6M136.5 607.6V631.4M141.5 613.7V630.7M146.5 613.1V632.4M150.5 613.9V631.5M155.5 608.8V632.5M160.5 615.9V634.1M165.5 613.0V633.6M170.5 613.8V637.7M175.5 612.9V635.1M180.5 613.9V634.3M185.5 614.1V630.9M190.5 610.6V630.6M195.5 612.5V634.2M57.5 621.1V645.0M62.5 623.5V641.7M67.5 619.2V642.1M72.5 621.8V640.9M77.5 619.2V639.7M82.5 614.1V638.0M87.5 621.7V644.4M92.5 615.3V634.9M97.5 618.3V637.1M101.5 616.4V638.5M106.5 612.1V634.4M111.5 613.8V637.3M116.5 613.7V631.5M121.5 615.9V637.7M126.5 613.4V638.8M131.5 613.0V631.3M136.5 616.4V635.6M141.5 617.6V639.2M146.5 618.3V638.2M150.5 614.9V636.3M155.5 616.8V637.7M160.5 618.3V638.0M165.5 615.1V639.2M170.5 619.9V637.8M175.5 612.7V638.4M180.5 617.0V641.5M185.5 615.0V639.1M190.5 616.9V639.1M195.5 614.9V635.5M57.5 613.5V628.9M62.5 611.4V628.3M67.5 615.4V631.3M72.5 613.6V630.2M77.5 611.4V627.6M82.5 607.8V628.0M87.5 611.7V628.7M92.5 611.6V628.6M97.5 611.1V628.8M101.5 615.3V631.5M106.5 612.8V628.6M111.5 614.1V630.4M116.5 610.9V625.3M121.5 613.1V628.5M126.5 613.4V631.8M131.5 613.4V631.9M136.5 609.6V630.5M141.5 616.8V633.5M146.5 613.6V630.7M150.5 613.4V628.7M155.5 611.6V627.3M160.5 613.7V632.6M165.5 612.6V632.4M170.5 613.5V632.7M175.5 619.1V633.8M180.5 614.9V629.2M185.5 616.3V630.4M190.5 616.3V634.6M195.5 617.1V632.0" stroke="#8c8c8c" stroke-width="0.75" fill="none"/>
<g fill="none" stroke="#ee1c24" stroke-width="0.7"><use href="#tr" x="57.8" y="621.2"/><use href="#tr" x="62.7" y="612.9"/><use href="#tr" x="67.6" y="612.8"/><use href="#tr" x="72.5" y="613.2"/><use href="#tr" x="77.4" y="612.5"/><use href="#tr" x="82.3" y="612.3"/><use href="#tr" x="87.2" y="617.3"/><use href="#tr" x="92.1" y="616.2"/><use href="#tr" x="97.0" y="615.9"/><use href="#tr" x="101.9" y="615.9"/><use href="#tr" x="106.8" y="615.6"/><use href="#tr" x="111.7" y="614.5"/><use href="#tr" x="116.6" y="615.8"/><use href="#tr" x="121.5" y="614.8"/><use href="#tr" x="126.4" y="612.6"/><use href="#tr" x="131.3" y="617.0"/><use href="#tr" x="136.2" y="613.0"/><use href="#tr" x="141.1" y="620.8"/><use href="#tr" x="146.0" y="614.1"/><use href="#tr" x="150.9" y="617.9"/><use href="#tr" x="155.8" y="616.0"/><use href="#tr" x="160.7" y="617.1"/><use href="#tr" x="165.6" y="614.1"/><use href="#tr" x="170.5" y="615.3"/><use href="#tr" x="175.4" y="617.9"/><use href="#tr" x="180.3" y="618.6"/><use href="#tr" x="185.2" y="612.4"/><use href="#tr" x="190.1" y="615.8"/><use href="#tr" x="195.0" y="617.3"/></g>
<g fill="none" stroke="#ee1c24" stroke-width="0.7"><use href="#oc" x="57.8" y="623.5"/><use href="#oc" x="62.7" y="623.5"/><use href="#oc" x="67.6" y="627.1"/><use href="#oc" x="72.5" y="622.9"/><use href="#oc" x="77.4" y="621.0"/><use href="#oc" x="82.3" y="624.0"/><use href="#oc" x="87.2" y="621.3"/><use href="#oc" x="92.1" y="620.5"/><use href="#oc" x="97.0" y="616.5"/><use href="#oc" x="101.9" y="619.8"/><use href="#oc" x="106.8" y="618.6"/><use href="#oc" x="111.7" y="620.5"/><use href="#oc" x="116.6" y="619.0"/><use href="#oc" x="121.5" y="620.3"/><use href="#oc" x="126.4" y="619.6"/><use href="#oc" x="131.3" y="620.0"/><use href="#oc" x="136.2" y="622.0"/><use href="#oc" x="141.1" y="615.6"/><use href="#oc" x="146.0" y="620.5"/><use href="#oc" x="150.9" y="623.1"/><use href="#oc" x="155.8" y="621.6"/><use href="#oc" x="160.7" y="621.1"/><use href="#oc" x="165.6" y="625.6"/><use href="#oc" x="170.5" y="616.6"/><use href="#oc" x="175.4" y="624.3"/><use href="#oc" x="180.3" y="619.9"/><use href="#oc" x="185.2" y="619.8"/><use href="#oc" x="190.1" y="620.1"/><use href="#oc" x="195.0" y="621.2"/></g>
<path d="M57.8 630.7h0M62.7 628.9h0M67.6 630.3h0M72.5 631.4h0M77.4 629.0h0M82.3 629.6h0M87.2 629.4h0M92.1 627.1h0M97.0 627.2h0M101.9 624.6h0M106.8 629.7h0M111.7 629.1h0M116.6 623.9h0M121.5 628.1h0M126.4 620.4h0M131.3 624.5h0M136.2 623.7h0M141.1 629.4h0M146.0 626.9h0M150.9 625.1h0M155.8 628.0h0M160.7 624.9h0M165.6 622.4h0M170.5 626.3h0M175.4 626.4h0M180.3 626.4h0M185.2 625.6h0M190.1 626.8h0M195.0 629.1h0" stroke="#ee1c24" stroke-width="3.1" stroke-linecap="round"/>
<g fill="none" stroke="#231f20" stroke-width="0.7"><use href="#tr" x="57.8" y="626.3"/><use href="#tr" x="62.7" y="623.6"/><use href="#tr" x="67.6" y="621.1"/><use href="#tr" x="72.5" y="623.0"/><use href="#tr" x="77.4" y="621.4"/><use href="#tr" x="82.3" y="619.6"/><use href="#tr" x="87.2" y="620.1"/><use href="#tr" x="92.1" y="616.5"/><use href="#tr" x="97.0" y="617.8"/><use href="#tr" x="101.9" y="618.2"/><use href="#tr" x="106.8" y="616.9"/><use href="#tr" x="111.7" y="621.7"/><use href="#tr" x="116.6" y="620.0"/><use href="#tr" x="121.5" y="620.4"/><use href="#tr" x="126.4" y="621.9"/><use href="#tr" x="131.3" y="620.1"/><use href="#tr" x="136.2" y="620.9"/><use href="#tr" x="141.1" y="619.2"/><use href="#tr" x="146.0" y="620.0"/><use href="#tr" x="150.9" y="623.6"/><use href="#tr" x="155.8" y="621.2"/><use href="#tr" x="160.7" y="616.4"/><use href="#tr" x="165.6" y="620.3"/><use href="#tr" x="170.5" y="622.5"/><use href="#tr" x="175.4" y="621.3"/><use href="#tr" x="180.3" y="626.4"/><use href="#tr" x="185.2" y="620.2"/><use href="#tr" x="190.1" y="620.3"/><use href="#tr" x="195.0" y="620.2"/></g>
<g fill="none" stroke="#231f20" stroke-width="0.7"><use href="#oc" x="57.8" y="629.0"/><use href="#oc" x="62.7" y="626.2"/><use href="#oc" x="67.6" y="625.7"/><use href="#oc" x="72.5" y="619.1"/><use href="#oc" x="77.4" y="623.1"/><use href="#oc" x="82.3" y="626.9"/><use href="#oc" x="87.2" y="622.4"/><use href="#oc" x="92.1" y="623.7"/><use href="#oc" x="97.0" y="620.2"/><use href="#oc" x="101.9" y="620.6"/><use href="#oc" x="106.8" y="617.8"/><use href="#oc" x="111.7" y="620.2"/><use href="#oc" x="116.6" y="621.1"/><use href="#oc" x="121.5" y="619.7"/><use href="#oc" x="126.4" y="620.2"/><use href="#oc" x="131.3" y="621.4"/><use href="#oc" x="136.2" y="618.7"/><use href="#oc" x="141.1" y="622.1"/><use href="#oc" x="146.0" y="622.7"/><use href="#oc" x="150.9" y="620.8"/><use href="#oc" x="155.8" y="624.9"/><use href="#oc" x="160.7" y="623.6"/><use href="#oc" x="165.6" y="618.2"/><use href="#oc" x="170.5" y="623.2"/><use href="#oc" x="175.4" y="619.4"/><use href="#oc" x="180.3" y="619.9"/><use href="#oc" x="185.2" y="621.6"/><use href="#oc" x="190.1" y="622.4"/><use href="#oc" x="195.0" y="620.3"/></g>
<path d="M57.8 632.1h0M62.7 623.2h0M67.6 627.0h0M72.5 631.9h0M77.4 627.0h0M82.3 623.0h0M87.2 628.7h0M92.1 626.2h0M97.0 627.1h0M101.9 621.6h0M106.8 623.1h0M111.7 623.2h0M116.6 623.6h0M121.5 621.9h0M126.4 623.6h0M131.3 622.5h0M136.2 622.2h0M141.1 621.7h0M146.0 624.5h0M150.9 622.7h0M155.8 622.4h0M160.7 626.3h0M165.6 626.3h0M170.5 626.7h0M175.4 625.2h0M180.3 623.9h0M185.2 625.2h0M190.1 623.3h0M195.0 626.8h0" stroke="#231f20" stroke-width="3.1" stroke-linecap="round"/>
<g fill="none" stroke="#1b75bb" stroke-width="0.7"><use href="#tr" x="57.8" y="623.6"/><use href="#tr" x="62.7" y="623.8"/><use href="#tr" x="67.6" y="621.7"/><use href="#tr" x="72.5" y="624.6"/><use href="#tr" x="77.4" y="623.3"/><use href="#tr" x="82.3" y="622.4"/><use href="#tr" x="87.2" y="622.4"/><use href="#tr" x="92.1" y="620.0"/><use href="#tr" x="97.0" y="616.7"/><use href="#tr" x="101.9" y="623.0"/><use href="#tr" x="106.8" y="620.4"/><use href="#tr" x="111.7" y="621.1"/><use href="#tr" x="116.6" y="620.8"/><use href="#tr" x="121.5" y="624.2"/><use href="#tr" x="126.4" y="619.8"/><use href="#tr" x="131.3" y="621.7"/><use href="#tr" x="136.2" y="619.5"/><use href="#tr" x="141.1" y="622.2"/><use href="#tr" x="146.0" y="622.8"/><use href="#tr" x="150.9" y="622.7"/><use href="#tr" x="155.8" y="620.6"/><use href="#tr" x="160.7" y="625.0"/><use href="#tr" x="165.6" y="623.3"/><use href="#tr" x="170.5" y="625.7"/><use href="#tr" x="175.4" y="624.0"/><use href="#tr" x="180.3" y="624.1"/><use href="#tr" x="185.2" y="622.5"/><use href="#tr" x="190.1" y="620.6"/><use href="#tr" x="195.0" y="623.4"/></g>
<g fill="none" stroke="#1b75bb" stroke-width="0.7"><use href="#oc" x="57.8" y="633.0"/><use href="#oc" x="62.7" y="632.6"/><use href="#oc" x="67.6" y="630.6"/><use href="#oc" x="72.5" y="631.4"/><use href="#oc" x="77.4" y="629.5"/><use href="#oc" x="82.3" y="626.0"/><use href="#oc" x="87.2" y="633.1"/><use href="#oc" x="92.1" y="625.1"/><use href="#oc" x="97.0" y="627.7"/><use href="#oc" x="101.9" y="627.5"/><use href="#oc" x="106.8" y="623.3"/><use href="#oc" x="111.7" y="625.6"/><use href="#oc" x="116.6" y="622.6"/><use href="#oc" x="121.5" y="626.8"/><use href="#oc" x="126.4" y="626.1"/><use href="#oc" x="131.3" y="622.1"/><use href="#oc" x="136.2" y="626.0"/><use href="#oc" x="141.1" y="628.4"/><use href="#oc" x="146.0" y="628.2"/><use href="#oc" x="150.9" y="625.6"/><use href="#oc" x="155.8" y="627.2"/><use href="#oc" x="160.7" y="628.2"/><use href="#oc" x="165.6" y="627.2"/><use href="#oc" x="170.5" y="628.9"/><use href="#oc" x="175.4" y="625.5"/><use href="#oc" x="180.3" y="629.3"/><use href="#oc" x="185.2" y="627.0"/><use href="#oc" x="190.1" y="628.0"/><use href="#oc" x="195.0" y="625.2"/></g>
<path d="M52.9 635.7h0M57.8 621.2h0M62.7 619.9h0M67.6 623.4h0M72.5 621.9h0M77.4 619.5h0M82.3 617.9h0M87.2 620.2h0M92.1 620.1h0M97.0 619.9h0M101.9 623.4h0M106.8 620.7h0M111.7 622.2h0M116.6 618.1h0M121.5 620.8h0M126.4 622.6h0M131.3 622.7h0M136.2 620.1h0M141.1 625.2h0M146.0 622.1h0M150.9 621.1h0M155.8 619.4h0M160.7 623.2h0M165.6 622.5h0M170.5 623.1h0M175.4 626.4h0M180.3 622.1h0M185.2 623.3h0M190.1 625.4h0M195.0 624.6h0" stroke="#1b75bb" stroke-width="3.1" stroke-linecap="round"/>
<text x="228.8" y="528.8" font-size="6.8" text-anchor="end" fill="#333" stroke="#333" stroke-width="0.1" >20000</text>
<line x1="233.1" y1="526.4" x2="235.5" y2="526.4" stroke="#808080" stroke-width="0.8"/>
<text x="228.8" y="555.9" font-size="6.8" text-anchor="end" fill="#333" stroke="#333" stroke-width="0.1" >15000</text>
<line x1="233.1" y1="553.5" x2="235.5" y2="553.5" stroke="#808080" stroke-width="0.8"/>
<text x="228.8" y="583.0" font-size="6.8" text-anchor="end" fill="#333" stroke="#333" stroke-width="0.1" >10000</text>
<line x1="233.1" y1="580.6" x2="235.5" y2="580.6" stroke="#808080" stroke-width="0.8"/>
<text x="228.8" y="610.1" font-size="6.8" text-anchor="end" fill="#333" stroke="#333" stroke-width="0.1" >5000</text>
<line x1="233.1" y1="607.7" x2="235.5" y2="607.7" stroke="#808080" stroke-width="0.8"/>
<text x="228.8" y="637.2" font-size="6.8" text-anchor="end" fill="#333" stroke="#333" stroke-width="0.1" >0</text>
<line x1="233.1" y1="634.8" x2="235.5" y2="634.8" stroke="#808080" stroke-width="0.8"/>
<text x="228.8" y="664.3" font-size="6.8" text-anchor="end" fill="#333" stroke="#333" stroke-width="0.1" >-5000</text>
<line x1="233.1" y1="661.9" x2="235.5" y2="661.9" stroke="#808080" stroke-width="0.8"/>
<line x1="235.5" y1="526.4" x2="235.5" y2="676.0" stroke="#808080" stroke-width="0.9"/>
<line x1="235.5" y1="634.8" x2="388.0" y2="634.8" stroke="#707070" stroke-width="0.9"/>
<text x="235.5" y="645.3" font-size="6.9" text-anchor="middle" fill="#333" stroke="#333" stroke-width="0.1" >0</text>
<text x="259.7" y="645.3" font-size="6.9" text-anchor="middle" fill="#333" stroke="#333" stroke-width="0.1" >5</text>
<text x="283.9" y="645.3" font-size="6.9" text-anchor="middle" fill="#333" stroke="#333" stroke-width="0.1" >10</text>
<text x="308.1" y="645.3" font-size="6.9" text-anchor="middle" fill="#333" stroke="#333" stroke-width="0.1" >15</text>
<text x="332.3" y="645.3" font-size="6.9" text-anchor="middle" fill="#333" stroke="#333" stroke-width="0.1" >20</text>
<text x="356.5" y="645.3" font-size="6.9" text-anchor="middle" fill="#333" stroke="#333" stroke-width="0.1" >25</text>
<text x="380.7" y="645.3" font-size="6.9" text-anchor="middle" fill="#333" stroke="#333" stroke-width="0.1" >30</text>
<text x="238.2" y="534.2" font-size="10" text-anchor="start" fill="#111" stroke="#111" stroke-width="0.12" >UB<tspan font-size="6.5" baseline-shift="-2.6">2</tspan> TAMRA (K48 pos2)</text>
<text x="311.8" y="671.0" font-size="9.4" text-anchor="middle" fill="#111" stroke="#111" stroke-width="0.12" >time (min)</text>
<path d="M245.5 633.7V646.3M250.5 630.4V647.4M254.5 635.0V650.0M259.5 635.1V649.0M264.5 633.6V649.8M269.5 636.4V651.9M274.5 635.4V648.0M279.5 638.4V651.0M283.5 636.2V651.7M288.5 637.7V653.0M293.5 636.3V648.2M298.5 636.1V652.9M303.5 637.5V653.5M308.5 639.6V655.6M312.5 639.3V651.8M317.5 637.6V654.7M322.5 644.1V656.1M327.5 646.4V660.0M332.5 644.8V657.6M337.5 643.2V660.1M341.5 643.7V656.2M346.5 644.7V660.3M351.5 646.6V661.2M356.5 644.2V658.2M361.5 645.0V659.4M366.5 645.6V661.5M371.5 649.2V664.1M375.5 645.2V662.0M380.5 649.9V662.5M245.5 632.2V645.5M250.5 632.9V646.0M254.5 631.5V648.4M259.5 636.7V648.9M264.5 634.8V647.8M269.5 634.0V648.6M274.5 633.3V648.8M279.5 635.0V649.9M283.5 634.6V651.1M288.5 635.8V647.6M293.5 636.7V650.4M298.5 641.0V653.7M303.5 638.0V650.3M308.5 640.4V652.7M312.5 637.2V653.7M317.5 641.1V657.1M322.5 645.2V659.1M327.5 642.0V656.9M332.5 639.6V656.3M337.5 644.1V659.2M341.5 643.8V656.9M346.5 644.6V658.0M351.5 644.2V656.5M356.5 644.7V658.0M361.5 646.6V660.5M366.5 647.8V660.7M371.5 646.3V661.8M375.5 642.8V658.1M380.5 647.3V659.9M245.5 632.2V643.4M250.5 633.8V646.6M254.5 636.4V649.1M259.5 638.0V651.0M264.5 634.7V647.0M269.5 635.5V650.3M274.5 640.0V652.6M279.5 639.4V650.7M283.5 636.9V649.3M288.5 642.4V653.3M293.5 640.7V655.1M298.5 640.0V653.5M303.5 643.1V655.5M308.5 642.5V653.2M312.5 637.4V652.1M317.5 641.5V653.4M322.5 642.5V653.5M327.5 643.9V658.8M332.5 647.0V660.9M337.5 647.7V658.6M341.5 646.3V661.4M346.5 648.3V660.5M351.5 649.8V661.1M356.5 646.6V661.4M361.5 647.3V660.8M366.5 649.1V661.4M371.5 646.7V662.2M375.5 647.2V660.5M380.5 647.8V662.3M245.5 632.5V649.2M250.5 632.3V645.0M254.5 634.1V646.5M259.5 634.7V646.4M264.5 631.7V649.2M269.5 632.6V648.4M274.5 636.1V651.8M279.5 635.4V649.0M283.5 633.5V648.8M288.5 637.0V649.3M293.5 635.8V653.1M298.5 639.3V651.6M303.5 643.4V655.3M308.5 643.0V657.0M312.5 644.7V657.5M317.5 641.0V654.2M322.5 640.9V656.6M327.5 640.6V657.1M332.5 642.4V658.3M337.5 642.4V658.4M341.5 643.7V660.2M346.5 645.2V660.6M351.5 647.5V660.6M356.5 646.8V661.2M361.5 646.0V659.7M366.5 648.3V664.8M371.5 648.2V660.8M375.5 649.2V662.3M380.5 645.5V661.0M245.5 632.8V644.9M250.5 630.5V644.2M254.5 632.9V646.3M259.5 634.1V646.5M264.5 636.0V648.0M269.5 631.4V646.8M274.5 632.3V648.3M279.5 634.2V647.1M283.5 635.8V648.0M288.5 639.1V653.2M293.5 639.4V652.1M298.5 642.1V655.3M303.5 639.0V651.3M308.5 644.4V656.6M312.5 640.0V654.0M317.5 640.6V657.4M322.5 639.9V656.7M327.5 643.2V659.2M332.5 640.9V656.1M337.5 646.1V658.2M341.5 640.7V654.5M346.5 645.4V660.8M351.5 642.2V657.6M356.5 645.5V658.9M361.5 649.4V661.9M366.5 644.8V659.2M371.5 644.4V661.3M375.5 646.3V661.6M380.5 644.5V660.0M245.5 631.7V645.2M250.5 633.9V648.8M254.5 633.9V647.4M259.5 631.9V647.3M264.5 635.5V647.6M269.5 635.3V650.0M274.5 635.3V650.5M279.5 638.2V651.3M283.5 635.5V646.4M288.5 638.3V653.8M293.5 640.4V653.2M298.5 641.0V651.8M303.5 641.6V652.6M308.5 644.0V655.6M312.5 645.3V657.1M317.5 643.6V654.6M322.5 643.9V656.0M327.5 642.3V657.2M332.5 643.1V657.5M337.5 644.5V655.9M341.5 644.4V657.9M346.5 644.8V658.9M351.5 647.6V659.5M356.5 649.0V660.0M361.5 648.8V663.1M366.5 649.1V662.4M371.5 650.0V663.3M375.5 651.5V662.3M380.5 648.8V660.1M245.5 634.1V648.4M250.5 632.6V646.3M254.5 637.1V649.1M259.5 635.1V649.3M264.5 635.3V648.6M269.5 634.5V651.9M274.5 637.4V654.5M279.5 635.8V652.8M283.5 638.9V653.6M288.5 639.4V653.2M293.5 639.1V653.0M298.5 639.3V655.0M303.5 641.2V657.4M308.5 643.0V656.1M312.5 641.0V652.9M317.5 645.7V659.4M322.5 643.7V658.6M327.5 642.9V656.1M332.5 644.8V661.9M337.5 646.4V663.0M341.5 644.0V660.2M346.5 643.0V658.2M351.5 646.3V662.6M356.5 649.1V662.2M361.5 648.9V663.7M366.5 650.2V662.1M371.5 650.8V664.0M375.5 646.3V662.3M380.5 649.2V664.6M245.5 632.6V648.4M250.5 633.8V647.3M254.5 631.8V648.0M259.5 635.5V648.2M264.5 632.7V645.0M269.5 635.6V651.1M274.5 634.5V651.2M279.5 635.7V648.3M283.5 638.3V650.4M288.5 637.1V651.8M293.5 637.3V653.1M298.5 638.8V652.3M303.5 639.3V656.0M308.5 639.6V652.9M312.5 642.8V657.9M317.5 645.1V658.4M322.5 641.4V654.1M327.5 641.0V655.1M332.5 642.7V656.0M337.5 646.8V660.6M341.5 644.7V659.3M346.5 644.8V657.2M351.5 645.4V659.0M356.5 645.5V660.3M361.5 646.7V662.9M366.5 645.0V661.3M371.5 652.4V664.1M375.5 646.7V661.8M380.5 650.0V664.3M245.5 634.3V645.3M250.5 634.1V648.4M254.5 637.8V648.4M259.5 636.1V650.4M264.5 635.5V649.2M269.5 635.8V648.8M274.5 637.1V650.5M279.5 641.3V653.8M283.5 640.1V652.7M288.5 640.0V652.3M293.5 641.3V653.8M298.5 641.9V657.3M303.5 643.7V657.7M308.5 643.7V658.8M312.5 644.1V654.9M317.5 642.3V654.1M322.5 646.2V659.2M327.5 647.2V658.8M332.5 646.1V659.7M337.5 644.7V658.7M341.5 648.0V663.4M346.5 647.5V661.9M351.5 651.7V662.9M356.5 650.9V662.3M361.5 645.9V660.7M366.5 649.9V660.7M371.5 651.5V665.4M375.5 653.7V666.4M380.5 653.8V665.2" stroke="#8c8c8c" stroke-width="0.75" fill="none"/>
<g fill="none" stroke="#ee1c24" stroke-width="0.7"><use href="#tr" x="245.2" y="640.0"/><use href="#tr" x="250.0" y="638.9"/><use href="#tr" x="254.9" y="642.5"/><use href="#tr" x="259.7" y="642.0"/><use href="#tr" x="264.5" y="641.7"/><use href="#tr" x="269.4" y="644.2"/><use href="#tr" x="274.2" y="641.7"/><use href="#tr" x="279.1" y="644.7"/><use href="#tr" x="283.9" y="643.9"/><use href="#tr" x="288.7" y="645.3"/><use href="#tr" x="293.6" y="642.3"/><use href="#tr" x="298.4" y="644.5"/><use href="#tr" x="303.3" y="645.5"/><use href="#tr" x="308.1" y="647.6"/><use href="#tr" x="312.9" y="645.6"/><use href="#tr" x="317.8" y="646.1"/><use href="#tr" x="322.6" y="650.1"/><use href="#tr" x="327.5" y="653.2"/><use href="#tr" x="332.3" y="651.2"/><use href="#tr" x="337.1" y="651.7"/><use href="#tr" x="342.0" y="650.0"/><use href="#tr" x="346.8" y="652.5"/><use href="#tr" x="351.7" y="653.9"/><use href="#tr" x="356.5" y="651.2"/><use href="#tr" x="361.3" y="652.2"/><use href="#tr" x="366.2" y="653.5"/><use href="#tr" x="371.0" y="656.6"/><use href="#tr" x="375.9" y="653.6"/><use href="#tr" x="380.7" y="656.2"/></g>
<g fill="none" stroke="#ee1c24" stroke-width="0.7"><use href="#oc" x="245.2" y="638.8"/><use href="#oc" x="250.0" y="639.5"/><use href="#oc" x="254.9" y="640.0"/><use href="#oc" x="259.7" y="642.8"/><use href="#oc" x="264.5" y="641.3"/><use href="#oc" x="269.4" y="641.3"/><use href="#oc" x="274.2" y="641.0"/><use href="#oc" x="279.1" y="642.5"/><use href="#oc" x="283.9" y="642.8"/><use href="#oc" x="288.7" y="641.7"/><use href="#oc" x="293.6" y="643.5"/><use href="#oc" x="298.4" y="647.3"/><use href="#oc" x="303.3" y="644.1"/><use href="#oc" x="308.1" y="646.5"/><use href="#oc" x="312.9" y="645.5"/><use href="#oc" x="317.8" y="649.1"/><use href="#oc" x="322.6" y="652.1"/><use href="#oc" x="327.5" y="649.5"/><use href="#oc" x="332.3" y="648.0"/><use href="#oc" x="337.1" y="651.6"/><use href="#oc" x="342.0" y="650.3"/><use href="#oc" x="346.8" y="651.3"/><use href="#oc" x="351.7" y="650.3"/><use href="#oc" x="356.5" y="651.4"/><use href="#oc" x="361.3" y="653.6"/><use href="#oc" x="366.2" y="654.3"/><use href="#oc" x="371.0" y="654.1"/><use href="#oc" x="375.9" y="650.5"/><use href="#oc" x="380.7" y="653.6"/></g>
<path d="M245.2 637.8h0M250.0 640.2h0M254.9 642.7h0M259.7 644.5h0M264.5 640.8h0M269.4 642.9h0M274.2 646.3h0M279.1 645.1h0M283.9 643.1h0M288.7 647.9h0M293.6 647.9h0M298.4 646.8h0M303.3 649.3h0M308.1 647.9h0M312.9 644.8h0M317.8 647.5h0M322.6 648.0h0M327.5 651.4h0M332.3 653.9h0M337.1 653.2h0M342.0 653.9h0M346.8 654.4h0M351.7 655.5h0M356.5 654.0h0M361.3 654.1h0M366.2 655.2h0M371.0 654.5h0M375.9 653.9h0M380.7 655.0h0" stroke="#ee1c24" stroke-width="3.1" stroke-linecap="round"/>
<g fill="none" stroke="#231f20" stroke-width="0.7"><use href="#tr" x="245.2" y="640.8"/><use href="#tr" x="250.0" y="638.6"/><use href="#tr" x="254.9" y="640.3"/><use href="#tr" x="259.7" y="640.5"/><use href="#tr" x="264.5" y="640.5"/><use href="#tr" x="269.4" y="640.5"/><use href="#tr" x="274.2" y="643.9"/><use href="#tr" x="279.1" y="642.2"/><use href="#tr" x="283.9" y="641.1"/><use href="#tr" x="288.7" y="643.1"/><use href="#tr" x="293.6" y="644.5"/><use href="#tr" x="298.4" y="645.4"/><use href="#tr" x="303.3" y="649.4"/><use href="#tr" x="308.1" y="650.0"/><use href="#tr" x="312.9" y="651.1"/><use href="#tr" x="317.8" y="647.6"/><use href="#tr" x="322.6" y="648.7"/><use href="#tr" x="327.5" y="648.8"/><use href="#tr" x="332.3" y="650.4"/><use href="#tr" x="337.1" y="650.4"/><use href="#tr" x="342.0" y="652.0"/><use href="#tr" x="346.8" y="652.9"/><use href="#tr" x="351.7" y="654.0"/><use href="#tr" x="356.5" y="654.0"/><use href="#tr" x="361.3" y="652.9"/><use href="#tr" x="366.2" y="656.5"/><use href="#tr" x="371.0" y="654.5"/><use href="#tr" x="375.9" y="655.7"/><use href="#tr" x="380.7" y="653.2"/></g>
<g fill="none" stroke="#231f20" stroke-width="0.7"><use href="#oc" x="245.2" y="638.9"/><use href="#oc" x="250.0" y="637.3"/><use href="#oc" x="254.9" y="639.6"/><use href="#oc" x="259.7" y="640.3"/><use href="#oc" x="264.5" y="642.0"/><use href="#oc" x="269.4" y="639.1"/><use href="#oc" x="274.2" y="640.3"/><use href="#oc" x="279.1" y="640.6"/><use href="#oc" x="283.9" y="641.9"/><use href="#oc" x="288.7" y="646.1"/><use href="#oc" x="293.6" y="645.7"/><use href="#oc" x="298.4" y="648.7"/><use href="#oc" x="303.3" y="645.1"/><use href="#oc" x="308.1" y="650.5"/><use href="#oc" x="312.9" y="647.0"/><use href="#oc" x="317.8" y="649.0"/><use href="#oc" x="322.6" y="648.3"/><use href="#oc" x="327.5" y="651.2"/><use href="#oc" x="332.3" y="648.5"/><use href="#oc" x="337.1" y="652.2"/><use href="#oc" x="342.0" y="647.6"/><use href="#oc" x="346.8" y="653.1"/><use href="#oc" x="351.7" y="649.9"/><use href="#oc" x="356.5" y="652.2"/><use href="#oc" x="361.3" y="655.6"/><use href="#oc" x="366.2" y="652.0"/><use href="#oc" x="371.0" y="652.8"/><use href="#oc" x="375.9" y="654.0"/><use href="#oc" x="380.7" y="652.2"/></g>
<path d="M245.2 638.4h0M250.0 641.4h0M254.9 640.7h0M259.7 639.6h0M264.5 641.6h0M269.4 642.7h0M274.2 642.9h0M279.1 644.7h0M283.9 640.9h0M288.7 646.0h0M293.6 646.8h0M298.4 646.4h0M303.3 647.1h0M308.1 649.8h0M312.9 651.2h0M317.8 649.1h0M322.6 650.0h0M327.5 649.7h0M332.3 650.3h0M337.1 650.2h0M342.0 651.1h0M346.8 651.9h0M351.7 653.6h0M356.5 654.5h0M361.3 656.0h0M366.2 655.7h0M371.0 656.7h0M375.9 656.9h0M380.7 654.4h0" stroke="#231f20" stroke-width="3.1" stroke-linecap="round"/>
<g fill="none" stroke="#1b75bb" stroke-width="0.7"><use href="#tr" x="245.2" y="641.2"/><use href="#tr" x="250.0" y="639.5"/><use href="#tr" x="254.9" y="643.1"/><use href="#tr" x="259.7" y="642.2"/><use href="#tr" x="264.5" y="642.0"/><use href="#tr" x="269.4" y="643.2"/><use href="#tr" x="274.2" y="646.0"/><use href="#tr" x="279.1" y="644.3"/><use href="#tr" x="283.9" y="646.2"/><use href="#tr" x="288.7" y="646.3"/><use href="#tr" x="293.6" y="646.0"/><use href="#tr" x="298.4" y="647.1"/><use href="#tr" x="303.3" y="649.3"/><use href="#tr" x="308.1" y="649.5"/><use href="#tr" x="312.9" y="646.9"/><use href="#tr" x="317.8" y="652.6"/><use href="#tr" x="322.6" y="651.2"/><use href="#tr" x="327.5" y="649.5"/><use href="#tr" x="332.3" y="653.4"/><use href="#tr" x="337.1" y="654.7"/><use href="#tr" x="342.0" y="652.1"/><use href="#tr" x="346.8" y="650.6"/><use href="#tr" x="351.7" y="654.5"/><use href="#tr" x="356.5" y="655.7"/><use href="#tr" x="361.3" y="656.3"/><use href="#tr" x="366.2" y="656.1"/><use href="#tr" x="371.0" y="657.4"/><use href="#tr" x="375.9" y="654.3"/><use href="#tr" x="380.7" y="656.9"/></g>
<g fill="none" stroke="#1b75bb" stroke-width="0.7"><use href="#oc" x="245.2" y="640.5"/><use href="#oc" x="250.0" y="640.5"/><use href="#oc" x="254.9" y="639.9"/><use href="#oc" x="259.7" y="641.9"/><use href="#oc" x="264.5" y="638.8"/><use href="#oc" x="269.4" y="643.4"/><use href="#oc" x="274.2" y="642.9"/><use href="#oc" x="279.1" y="642.0"/><use href="#oc" x="283.9" y="644.3"/><use href="#oc" x="288.7" y="644.5"/><use href="#oc" x="293.6" y="645.2"/><use href="#oc" x="298.4" y="645.5"/><use href="#oc" x="303.3" y="647.7"/><use href="#oc" x="308.1" y="646.2"/><use href="#oc" x="312.9" y="650.4"/><use href="#oc" x="317.8" y="651.7"/><use href="#oc" x="322.6" y="647.8"/><use href="#oc" x="327.5" y="648.1"/><use href="#oc" x="332.3" y="649.3"/><use href="#oc" x="337.1" y="653.7"/><use href="#oc" x="342.0" y="652.0"/><use href="#oc" x="346.8" y="651.0"/><use href="#oc" x="351.7" y="652.2"/><use href="#oc" x="356.5" y="652.9"/><use href="#oc" x="361.3" y="654.8"/><use href="#oc" x="366.2" y="653.1"/><use href="#oc" x="371.0" y="658.3"/><use href="#oc" x="375.9" y="654.3"/><use href="#oc" x="380.7" y="657.2"/></g>
<path d="M240.3 634.8h0M245.2 639.8h0M250.0 641.3h0M254.9 643.1h0M259.7 643.3h0M264.5 642.4h0M269.4 642.3h0M274.2 643.8h0M279.1 647.5h0M283.9 646.4h0M288.7 646.2h0M293.6 647.5h0M298.4 649.6h0M303.3 650.7h0M308.1 651.2h0M312.9 649.5h0M317.8 648.2h0M322.6 652.7h0M327.5 653.0h0M332.3 652.9h0M337.1 651.7h0M342.0 655.7h0M346.8 654.7h0M351.7 657.3h0M356.5 656.6h0M361.3 653.3h0M366.2 655.3h0M371.0 658.5h0M375.9 660.0h0M380.7 659.5h0" stroke="#1b75bb" stroke-width="3.1" stroke-linecap="round"/>
<text x="407.9" y="528.4" font-size="6.8" text-anchor="end" fill="#333" stroke="#333" stroke-width="0.1" >20000</text>
<line x1="412.2" y1="526.0" x2="414.6" y2="526.0" stroke="#808080" stroke-width="0.8"/>
<text x="407.9" y="555.7" font-size="6.8" text-anchor="end" fill="#333" stroke="#333" stroke-width="0.1" >15000</text>
<line x1="412.2" y1="553.3" x2="414.6" y2="553.3" stroke="#808080" stroke-width="0.8"/>
<text x="407.9" y="583.0" font-size="6.8" text-anchor="end" fill="#333" stroke="#333" stroke-width="0.1" >10000</text>
<line x1="412.2" y1="580.6" x2="414.6" y2="580.6" stroke="#808080" stroke-width="0.8"/>
<text x="407.9" y="610.3" font-size="6.8" text-anchor="end" fill="#333" stroke="#333" stroke-width="0.1" >5000</text>
<line x1="412.2" y1="607.9" x2="414.6" y2="607.9" stroke="#808080" stroke-width="0.8"/>
<text x="407.9" y="637.6" font-size="6.8" text-anchor="end" fill="#333" stroke="#333" stroke-width="0.1" >0</text>
<line x1="412.2" y1="635.2" x2="414.6" y2="635.2" stroke="#808080" stroke-width="0.8"/>
<text x="407.9" y="664.9" font-size="6.8" text-anchor="end" fill="#333" stroke="#333" stroke-width="0.1" >-5000</text>
<line x1="412.2" y1="662.5" x2="414.6" y2="662.5" stroke="#808080" stroke-width="0.8"/>
<line x1="414.6" y1="526.0" x2="414.6" y2="676.0" stroke="#808080" stroke-width="0.9"/>
<line x1="414.6" y1="635.2" x2="567.4" y2="635.2" stroke="#707070" stroke-width="0.9"/>
<text x="414.6" y="645.7" font-size="6.9" text-anchor="middle" fill="#333" stroke="#333" stroke-width="0.1" >0</text>
<text x="438.8" y="645.7" font-size="6.9" text-anchor="middle" fill="#333" stroke="#333" stroke-width="0.1" >5</text>
<text x="463.0" y="645.7" font-size="6.9" text-anchor="middle" fill="#333" stroke="#333" stroke-width="0.1" >10</text>
<text x="487.2" y="645.7" font-size="6.9" text-anchor="middle" fill="#333" stroke="#333" stroke-width="0.1" >15</text>
<text x="511.4" y="645.7" font-size="6.9" text-anchor="middle" fill="#333" stroke="#333" stroke-width="0.1" >20</text>
<text x="535.6" y="645.7" font-size="6.9" text-anchor="middle" fill="#333" stroke="#333" stroke-width="0.1" >25</text>
<text x="559.8" y="645.7" font-size="6.9" text-anchor="middle" fill="#333" stroke="#333" stroke-width="0.1" >30</text>
<text x="419.9" y="534.2" font-size="10" text-anchor="start" fill="#111" stroke="#111" stroke-width="0.12" >UB<tspan font-size="6.5" baseline-shift="-2.6">2</tspan> TAMRA (K63 pos1)</text>
<text x="491.8" y="671.5" font-size="9.4" text-anchor="middle" fill="#111" stroke="#111" stroke-width="0.12" >time (min)</text>
<path d="M424.5 623.3V641.4M429.5 618.2V641.8M433.5 619.5V644.0M438.5 619.4V639.5M443.5 617.9V639.3M448.5 621.0V643.1M453.5 620.2V645.4M458.5 621.9V642.0M463.5 618.6V635.6M467.5 621.7V640.7M472.5 625.2V643.4M477.5 619.4V641.3M482.5 620.8V645.4M487.5 616.8V639.9M492.5 619.5V639.9M496.5 615.9V639.7M501.5 622.4V647.4M506.5 618.2V641.9M511.5 618.3V640.1M516.5 624.8V643.1M521.5 620.3V637.2M525.5 620.8V641.2M530.5 619.5V644.3M535.5 621.3V639.0M540.5 619.7V638.0M545.5 622.3V642.1M550.5 620.2V643.3M554.5 619.4V641.7M559.5 615.6V638.9M424.5 620.5V645.3M429.5 621.7V644.2M433.5 617.1V643.6M438.5 622.4V642.0M443.5 618.9V638.8M448.5 619.6V640.9M453.5 619.0V640.7M458.5 620.0V638.3M463.5 616.9V637.2M467.5 617.2V637.9M472.5 614.6V640.6M477.5 616.6V643.0M482.5 612.4V635.8M487.5 618.4V642.7M492.5 616.1V635.6M496.5 617.7V640.6M501.5 619.1V638.1M506.5 617.7V637.5M511.5 616.3V640.5M516.5 619.5V641.5M521.5 614.9V639.0M525.5 615.5V638.5M530.5 618.4V637.7M535.5 616.7V636.5M540.5 614.5V635.5M545.5 613.2V636.4M550.5 616.3V641.3M554.5 612.9V638.1M559.5 610.6V636.6M424.5 624.0V639.8M429.5 618.1V634.8M433.5 615.0V632.5M438.5 615.1V633.4M443.5 616.4V635.5M448.5 606.7V626.6M453.5 604.6V625.4M458.5 600.9V622.5M463.5 600.5V622.9M467.5 596.3V619.5M472.5 592.6V616.6M477.5 588.9V613.8M482.5 588.0V613.6M487.5 583.7V610.2M492.5 575.7V603.0M496.5 569.8V597.9M501.5 576.5V605.4M506.5 572.8V602.6M511.5 567.0V597.5M516.5 566.0V597.4M521.5 559.0V591.2M525.5 563.5V596.6M530.5 559.3V593.2M535.5 554.5V589.2M540.5 559.0V594.5M545.5 556.4V592.7M550.5 548.9V586.1M554.5 552.9V590.8M559.5 555.2V594.0M424.5 625.3V652.1M429.5 627.4V653.4M433.5 625.5V651.1M438.5 627.4V654.4M443.5 628.7V658.9M448.5 623.8V652.4M453.5 622.4V649.1M458.5 625.9V653.1M463.5 628.6V659.3M467.5 631.0V654.8M472.5 626.2V649.9M477.5 625.5V649.4M482.5 635.3V660.2M487.5 632.4V653.5M492.5 634.6V655.8M496.5 629.0V659.4M501.5 634.5V658.0M506.5 632.1V663.3M511.5 634.3V661.4M516.5 634.0V665.3M521.5 637.3V658.5M525.5 632.8V658.9M530.5 636.3V661.3M535.5 634.9V660.4M540.5 637.8V659.0M545.5 636.5V666.3M550.5 635.4V659.5M554.5 640.5V665.2M559.5 640.7V662.3M424.5 624.3V646.9M429.5 623.2V651.9M433.5 626.7V650.9M438.5 631.3V656.0M443.5 628.4V656.3M448.5 633.5V660.2M453.5 629.7V658.2M458.5 628.9V654.4M463.5 632.2V659.8M467.5 633.8V655.2M472.5 630.6V657.6M477.5 627.2V656.9M482.5 631.1V657.4M487.5 631.3V660.1M492.5 632.9V658.2M496.5 632.1V656.2M501.5 631.9V662.7M506.5 637.0V661.2M511.5 636.7V662.6M516.5 633.5V663.3M521.5 636.7V662.3M525.5 636.0V660.2M530.5 636.4V661.7M535.5 636.5V662.4M540.5 638.1V667.6M545.5 638.1V668.4M550.5 639.2V667.5M554.5 638.2V662.3M559.5 641.8V667.1M424.5 623.4V647.6M429.5 626.4V651.1M433.5 626.1V649.8M438.5 633.7V655.5M443.5 626.9V652.7M448.5 624.5V653.8M453.5 628.3V649.9M458.5 622.9V651.5M463.5 632.5V652.4M467.5 631.3V652.4M472.5 628.0V653.5M477.5 630.5V655.5M482.5 635.3V656.1M487.5 629.3V655.4M492.5 629.6V655.8M496.5 633.3V654.7M501.5 630.6V656.5M506.5 634.1V653.7M511.5 637.5V657.1M516.5 636.4V661.5M521.5 632.0V657.6M525.5 636.1V659.4M530.5 639.7V661.2M535.5 634.2V658.3M540.5 635.8V664.2M545.5 639.3V660.6M550.5 640.1V659.8M554.5 641.8V664.4M559.5 639.2V667.7M424.5 618.5V638.3M429.5 618.6V643.2M433.5 616.2V645.3M438.5 620.4V646.2M443.5 620.2V646.9M448.5 622.5V647.2M453.5 622.2V651.4M458.5 624.2V650.2M463.5 624.8V649.7M467.5 626.3V653.8M472.5 629.0V649.9M477.5 627.1V652.1M482.5 625.1V648.8M487.5 623.1V650.2M492.5 628.4V653.0M496.5 629.6V651.3M501.5 624.4V647.9M506.5 629.9V651.6M511.5 631.3V655.2M516.5 625.8V654.6M521.5 627.6V652.2M525.5 631.4V651.4M530.5 633.6V656.1M535.5 627.7V657.0M540.5 631.7V657.0M545.5 631.2V653.3M550.5 635.2V655.3M554.5 631.3V657.5M559.5 634.2V656.3M424.5 620.7V646.5M429.5 619.4V648.2M433.5 620.3V643.3M438.5 622.8V645.2M443.5 617.9V645.3M448.5 627.5V651.2M453.5 623.8V648.1M458.5 625.8V650.0M463.5 624.1V647.4M467.5 625.7V648.9M472.5 626.1V647.0M477.5 627.6V647.5M482.5 625.8V651.3M487.5 628.0V654.7M492.5 629.7V650.8M496.5 633.2V657.2M501.5 628.4V650.2M506.5 628.6V650.7M511.5 630.2V654.4M516.5 625.9V653.6M521.5 632.4V658.5M525.5 633.7V656.5M530.5 634.7V656.3M535.5 629.6V658.0M540.5 634.1V659.7M545.5 636.4V657.7M550.5 633.4V655.9M554.5 635.1V661.4M559.5 639.8V660.6M424.5 613.6V640.3M429.5 615.8V634.2M433.5 616.2V640.6M438.5 624.0V642.3M443.5 618.7V644.2M448.5 623.2V646.3M453.5 623.7V645.0M458.5 626.2V650.4M463.5 620.2V646.7M467.5 628.3V647.4M472.5 629.1V650.1M477.5 631.1V649.7M482.5 624.9V651.9M487.5 630.6V651.1M492.5 624.4V650.2M496.5 626.3V650.4M501.5 629.1V648.4M506.5 628.4V650.3M511.5 628.8V651.9M516.5 632.6V652.8M521.5 635.2V657.0M525.5 631.5V652.5M530.5 633.6V652.3M535.5 633.2V657.2M540.5 632.7V655.5M545.5 631.7V656.1M550.5 632.4V651.9M554.5 634.4V653.9M559.5 633.3V655.8" stroke="#8c8c8c" stroke-width="0.75" fill="none"/>
<g fill="none" stroke="#ee1c24" stroke-width="0.7"><use href="#tr" x="424.3" y="632.4"/><use href="#tr" x="429.1" y="630.0"/><use href="#tr" x="434.0" y="631.8"/><use href="#tr" x="438.8" y="629.4"/><use href="#tr" x="443.6" y="628.6"/><use href="#tr" x="448.5" y="632.1"/><use href="#tr" x="453.3" y="632.8"/><use href="#tr" x="458.2" y="632.0"/><use href="#tr" x="463.0" y="627.1"/><use href="#tr" x="467.8" y="631.2"/><use href="#tr" x="472.7" y="634.3"/><use href="#tr" x="477.5" y="630.3"/><use href="#tr" x="482.4" y="633.1"/><use href="#tr" x="487.2" y="628.3"/><use href="#tr" x="492.0" y="629.7"/><use href="#tr" x="496.9" y="627.8"/><use href="#tr" x="501.7" y="634.9"/><use href="#tr" x="506.6" y="630.1"/><use href="#tr" x="511.4" y="629.2"/><use href="#tr" x="516.2" y="634.0"/><use href="#tr" x="521.1" y="628.7"/><use href="#tr" x="525.9" y="631.0"/><use href="#tr" x="530.8" y="631.9"/><use href="#tr" x="535.6" y="630.2"/><use href="#tr" x="540.4" y="628.8"/><use href="#tr" x="545.3" y="632.2"/><use href="#tr" x="550.1" y="631.7"/><use href="#tr" x="555.0" y="630.5"/><use href="#tr" x="559.8" y="627.3"/></g>
<g fill="none" stroke="#ee1c24" stroke-width="0.7"><use href="#oc" x="424.3" y="632.9"/><use href="#oc" x="429.1" y="633.0"/><use href="#oc" x="434.0" y="630.4"/><use href="#oc" x="438.8" y="632.2"/><use href="#oc" x="443.6" y="628.9"/><use href="#oc" x="448.5" y="630.2"/><use href="#oc" x="453.3" y="629.8"/><use href="#oc" x="458.2" y="629.2"/><use href="#oc" x="463.0" y="627.0"/><use href="#oc" x="467.8" y="627.5"/><use href="#oc" x="472.7" y="627.6"/><use href="#oc" x="477.5" y="629.8"/><use href="#oc" x="482.4" y="624.1"/><use href="#oc" x="487.2" y="630.5"/><use href="#oc" x="492.0" y="625.9"/><use href="#oc" x="496.9" y="629.2"/><use href="#oc" x="501.7" y="628.6"/><use href="#oc" x="506.6" y="627.6"/><use href="#oc" x="511.4" y="628.4"/><use href="#oc" x="516.2" y="630.5"/><use href="#oc" x="521.1" y="626.9"/><use href="#oc" x="525.9" y="627.0"/><use href="#oc" x="530.8" y="628.1"/><use href="#oc" x="535.6" y="626.6"/><use href="#oc" x="540.4" y="625.0"/><use href="#oc" x="545.3" y="624.8"/><use href="#oc" x="550.1" y="628.8"/><use href="#oc" x="555.0" y="625.5"/><use href="#oc" x="559.8" y="623.6"/></g>
<path d="M424.3 631.9h0M429.1 626.5h0M434.0 623.7h0M438.8 624.3h0M443.6 625.9h0M448.5 616.6h0M453.3 615.0h0M458.2 611.7h0M463.0 611.7h0M467.8 607.9h0M472.7 604.6h0M477.5 601.3h0M482.4 600.8h0M487.2 597.0h0M492.0 589.3h0M496.9 583.9h0M501.7 591.0h0M506.6 587.7h0M511.4 582.2h0M516.2 581.7h0M521.1 575.1h0M525.9 580.1h0M530.8 576.2h0M535.6 571.9h0M540.4 576.8h0M545.3 574.6h0M550.1 567.5h0M555.0 571.9h0M559.8 574.6h0" stroke="#ee1c24" stroke-width="3.1" stroke-linecap="round"/>
<g fill="none" stroke="#231f20" stroke-width="0.7"><use href="#tr" x="424.3" y="638.7"/><use href="#tr" x="429.1" y="640.4"/><use href="#tr" x="434.0" y="638.3"/><use href="#tr" x="438.8" y="640.9"/><use href="#tr" x="443.6" y="643.8"/><use href="#tr" x="448.5" y="638.1"/><use href="#tr" x="453.3" y="635.8"/><use href="#tr" x="458.2" y="639.5"/><use href="#tr" x="463.0" y="644.0"/><use href="#tr" x="467.8" y="642.9"/><use href="#tr" x="472.7" y="638.1"/><use href="#tr" x="477.5" y="637.4"/><use href="#tr" x="482.4" y="647.7"/><use href="#tr" x="487.2" y="642.9"/><use href="#tr" x="492.0" y="645.2"/><use href="#tr" x="496.9" y="644.2"/><use href="#tr" x="501.7" y="646.2"/><use href="#tr" x="506.6" y="647.7"/><use href="#tr" x="511.4" y="647.8"/><use href="#tr" x="516.2" y="649.6"/><use href="#tr" x="521.1" y="647.9"/><use href="#tr" x="525.9" y="645.8"/><use href="#tr" x="530.8" y="648.8"/><use href="#tr" x="535.6" y="647.7"/><use href="#tr" x="540.4" y="648.4"/><use href="#tr" x="545.3" y="651.4"/><use href="#tr" x="550.1" y="647.5"/><use href="#tr" x="555.0" y="652.9"/><use href="#tr" x="559.8" y="651.5"/></g>
<g fill="none" stroke="#231f20" stroke-width="0.7"><use href="#oc" x="424.3" y="635.6"/><use href="#oc" x="429.1" y="637.5"/><use href="#oc" x="434.0" y="638.8"/><use href="#oc" x="438.8" y="643.7"/><use href="#oc" x="443.6" y="642.4"/><use href="#oc" x="448.5" y="646.8"/><use href="#oc" x="453.3" y="643.9"/><use href="#oc" x="458.2" y="641.6"/><use href="#oc" x="463.0" y="646.0"/><use href="#oc" x="467.8" y="644.5"/><use href="#oc" x="472.7" y="644.1"/><use href="#oc" x="477.5" y="642.1"/><use href="#oc" x="482.4" y="644.3"/><use href="#oc" x="487.2" y="645.7"/><use href="#oc" x="492.0" y="645.6"/><use href="#oc" x="496.9" y="644.2"/><use href="#oc" x="501.7" y="647.3"/><use href="#oc" x="506.6" y="649.1"/><use href="#oc" x="511.4" y="649.7"/><use href="#oc" x="516.2" y="648.4"/><use href="#oc" x="521.1" y="649.5"/><use href="#oc" x="525.9" y="648.1"/><use href="#oc" x="530.8" y="649.0"/><use href="#oc" x="535.6" y="649.4"/><use href="#oc" x="540.4" y="652.9"/><use href="#oc" x="545.3" y="653.2"/><use href="#oc" x="550.1" y="653.3"/><use href="#oc" x="555.0" y="650.2"/><use href="#oc" x="559.8" y="654.4"/></g>
<path d="M424.3 635.5h0M429.1 638.8h0M434.0 638.0h0M438.8 644.6h0M443.6 639.8h0M448.5 639.1h0M453.3 639.1h0M458.2 637.2h0M463.0 642.4h0M467.8 641.9h0M472.7 640.7h0M477.5 643.0h0M482.4 645.7h0M487.2 642.4h0M492.0 642.7h0M496.9 644.0h0M501.7 643.5h0M506.6 643.9h0M511.4 647.3h0M516.2 648.9h0M521.1 644.8h0M525.9 647.7h0M530.8 650.5h0M535.6 646.2h0M540.4 650.0h0M545.3 649.9h0M550.1 649.9h0M555.0 653.1h0M559.8 653.4h0" stroke="#231f20" stroke-width="3.1" stroke-linecap="round"/>
<g fill="none" stroke="#1b75bb" stroke-width="0.7"><use href="#tr" x="424.3" y="628.4"/><use href="#tr" x="429.1" y="630.9"/><use href="#tr" x="434.0" y="630.8"/><use href="#tr" x="438.8" y="633.3"/><use href="#tr" x="443.6" y="633.6"/><use href="#tr" x="448.5" y="634.8"/><use href="#tr" x="453.3" y="636.8"/><use href="#tr" x="458.2" y="637.2"/><use href="#tr" x="463.0" y="637.3"/><use href="#tr" x="467.8" y="640.1"/><use href="#tr" x="472.7" y="639.4"/><use href="#tr" x="477.5" y="639.6"/><use href="#tr" x="482.4" y="636.9"/><use href="#tr" x="487.2" y="636.7"/><use href="#tr" x="492.0" y="640.7"/><use href="#tr" x="496.9" y="640.5"/><use href="#tr" x="501.7" y="636.2"/><use href="#tr" x="506.6" y="640.7"/><use href="#tr" x="511.4" y="643.2"/><use href="#tr" x="516.2" y="640.2"/><use href="#tr" x="521.1" y="639.9"/><use href="#tr" x="525.9" y="641.4"/><use href="#tr" x="530.8" y="644.8"/><use href="#tr" x="535.6" y="642.3"/><use href="#tr" x="540.4" y="644.3"/><use href="#tr" x="545.3" y="642.2"/><use href="#tr" x="550.1" y="645.3"/><use href="#tr" x="555.0" y="644.4"/><use href="#tr" x="559.8" y="645.2"/></g>
<g fill="none" stroke="#1b75bb" stroke-width="0.7"><use href="#oc" x="424.3" y="633.6"/><use href="#oc" x="429.1" y="633.8"/><use href="#oc" x="434.0" y="631.8"/><use href="#oc" x="438.8" y="634.0"/><use href="#oc" x="443.6" y="631.6"/><use href="#oc" x="448.5" y="639.4"/><use href="#oc" x="453.3" y="635.9"/><use href="#oc" x="458.2" y="637.9"/><use href="#oc" x="463.0" y="635.8"/><use href="#oc" x="467.8" y="637.3"/><use href="#oc" x="472.7" y="636.5"/><use href="#oc" x="477.5" y="637.6"/><use href="#oc" x="482.4" y="638.6"/><use href="#oc" x="487.2" y="641.3"/><use href="#oc" x="492.0" y="640.3"/><use href="#oc" x="496.9" y="645.2"/><use href="#oc" x="501.7" y="639.3"/><use href="#oc" x="506.6" y="639.6"/><use href="#oc" x="511.4" y="642.3"/><use href="#oc" x="516.2" y="639.7"/><use href="#oc" x="521.1" y="645.4"/><use href="#oc" x="525.9" y="645.1"/><use href="#oc" x="530.8" y="645.5"/><use href="#oc" x="535.6" y="643.8"/><use href="#oc" x="540.4" y="646.9"/><use href="#oc" x="545.3" y="647.1"/><use href="#oc" x="550.1" y="644.6"/><use href="#oc" x="555.0" y="648.2"/><use href="#oc" x="559.8" y="650.2"/></g>
<path d="M419.4 635.2h0M424.3 626.9h0M429.1 625.0h0M434.0 628.4h0M438.8 633.2h0M443.6 631.4h0M448.5 634.8h0M453.3 634.3h0M458.2 638.3h0M463.0 633.4h0M467.8 637.9h0M472.7 639.6h0M477.5 640.4h0M482.4 638.4h0M487.2 640.9h0M492.0 637.3h0M496.9 638.4h0M501.7 638.7h0M506.6 639.4h0M511.4 640.3h0M516.2 642.7h0M521.1 646.1h0M525.9 642.0h0M530.8 643.0h0M535.6 645.2h0M540.4 644.1h0M545.3 643.9h0M550.1 642.1h0M555.0 644.1h0M559.8 644.5h0" stroke="#1b75bb" stroke-width="3.1" stroke-linecap="round"/>
<path d="M579.2,369.0L582.9,375.0H575.5Z" fill="none" stroke="#ee1c24" stroke-width="1.0"/>
<text x="585.1" y="376.0" font-size="9.45" text-anchor="start" fill="#111" stroke="#111" stroke-width="0.12" >OTU11(WT)</text>
<circle cx="579.2" cy="381.8" r="2.70" fill="none" stroke="#ee1c24" stroke-width="1.0"/>
<text x="585.1" y="385.2" font-size="9.45" text-anchor="start" fill="#111" stroke="#111" stroke-width="0.12" >OTU11(WT)+lipo(-PIP)</text>
<circle cx="579.2" cy="391.9" r="3.2" fill="#ee1c24"/>
<text x="585.1" y="395.3" font-size="9.45" text-anchor="start" fill="#111" stroke="#111" stroke-width="0.12" >OTU11(WT)+lipo(+PIP)</text>
<path d="M579.2,401.7L582.9,407.7H575.5Z" fill="none" stroke="#231f20" stroke-width="1.0"/>
<text x="585.1" y="408.7" font-size="9.45" text-anchor="start" fill="#111" stroke="#111" stroke-width="0.12" >OTU11(6A1)</text>
<circle cx="579.2" cy="415.4" r="2.70" fill="none" stroke="#231f20" stroke-width="1.0"/>
<text x="585.1" y="418.8" font-size="9.45" text-anchor="start" fill="#111" stroke="#111" stroke-width="0.12" >OTU11(6A1)+lipo(-PIP)</text>
<circle cx="579.2" cy="425.8" r="3.2" fill="#231f20"/>
<text x="585.1" y="429.2" font-size="9.45" text-anchor="start" fill="#111" stroke="#111" stroke-width="0.12" >OTU11(6A1)+lipo(+PIP)</text>
<path d="M579.2,435.3L582.9,441.3H575.5Z" fill="none" stroke="#1b75bb" stroke-width="1.0"/>
<text x="585.1" y="442.3" font-size="9.45" text-anchor="start" fill="#111" stroke="#111" stroke-width="0.12" >buffer</text>
<circle cx="579.2" cy="449.8" r="2.70" fill="none" stroke="#1b75bb" stroke-width="1.0"/>
<text x="585.1" y="453.2" font-size="9.45" text-anchor="start" fill="#111" stroke="#111" stroke-width="0.12" >buffer+lipo(-PIP)</text>
<circle cx="579.2" cy="460.4" r="3.2" fill="#1b75bb"/>
<text x="585.1" y="463.8" font-size="9.45" text-anchor="start" fill="#111" stroke="#111" stroke-width="0.12" >buffer+lipo(+PIP)</text>
<path d="M578.0,537.4L581.7,543.4H574.3Z" fill="none" stroke="#ee1c24" stroke-width="1.0"/>
<text x="583.9" y="544.4" font-size="9.45" text-anchor="start" fill="#111" stroke="#111" stroke-width="0.12" >OTU12(WT)</text>
<circle cx="578.0" cy="551.6" r="2.70" fill="none" stroke="#ee1c24" stroke-width="1.0"/>
<text x="583.9" y="555.0" font-size="9.45" text-anchor="start" fill="#111" stroke="#111" stroke-width="0.12" >OTU12(WT)+lipo(-PIP)</text>
<circle cx="578.0" cy="561.7" r="3.2" fill="#ee1c24"/>
<text x="583.9" y="565.1" font-size="9.45" text-anchor="start" fill="#111" stroke="#111" stroke-width="0.12" >OTU12(WT)+lipo(+PIP)</text>
<path d="M578.0,570.4L581.7,576.4H574.3Z" fill="none" stroke="#231f20" stroke-width="1.0"/>
<text x="583.9" y="577.4" font-size="9.45" text-anchor="start" fill="#111" stroke="#111" stroke-width="0.12" >OTU12(6A1)</text>
<circle cx="578.0" cy="584.2" r="2.70" fill="none" stroke="#231f20" stroke-width="1.0"/>
<text x="583.9" y="587.6" font-size="9.45" text-anchor="start" fill="#111" stroke="#111" stroke-width="0.12" >OTU12(6A1)+lipo(-PIP)</text>
<circle cx="578.0" cy="594.3" r="3.2" fill="#231f20"/>
<text x="583.9" y="597.7" font-size="9.45" text-anchor="start" fill="#111" stroke="#111" stroke-width="0.12" >OTU12(6A1)+lipo(+PIP)</text>
<path d="M578.0,604.5L581.7,610.5H574.3Z" fill="none" stroke="#1b75bb" stroke-width="1.0"/>
<text x="583.9" y="611.5" font-size="9.45" text-anchor="start" fill="#111" stroke="#111" stroke-width="0.12" >buffer</text>
<circle cx="578.0" cy="618.2" r="2.70" fill="none" stroke="#1b75bb" stroke-width="1.0"/>
<text x="583.9" y="621.6" font-size="9.45" text-anchor="start" fill="#111" stroke="#111" stroke-width="0.12" >buffer+lipo(-PIP)</text>
<circle cx="578.0" cy="629.3" r="3.2" fill="#1b75bb"/>
<text x="583.9" y="632.7" font-size="9.45" text-anchor="start" fill="#111" stroke="#111" stroke-width="0.12" >buffer+lipo(+PIP)</text>
<text x="0" y="0" font-size="28.5" font-weight="bold" fill="#000" transform="translate(-0.1,20.3) scale(0.88,1)">a</text>
<text x="271.8" y="20.1" font-size="28.5" font-weight="bold" fill="#000">b</text>
<text x="532.4" y="20.3" font-size="28.5" font-weight="bold" fill="#000">c</text>
<text x="-0.8" y="186.3" font-size="28.5" font-weight="bold" fill="#000">d</text>
<text x="271.4" y="186.9" font-size="28.5" font-weight="bold" fill="#000">e</text>
<text x="1.9" y="340.7" font-size="28.5" font-weight="bold" fill="#000">f</text>
<text x="0" y="0" font-size="28.5" font-weight="bold" fill="#000" transform="translate(185.8,340.3) scale(1.04,1)">g</text>
<text x="369.1" y="340.7" font-size="28.5" font-weight="bold" fill="#000">h</text>
<text x="3.3" y="526.9" font-size="28.5" font-weight="bold" fill="#000">i</text>
<text x="200.2" y="527.7" font-size="28.5" font-weight="bold" fill="#000">j</text>
<text x="368.2" y="527.2" font-size="28.5" font-weight="bold" fill="#000">k</text>
</svg></body></html>
